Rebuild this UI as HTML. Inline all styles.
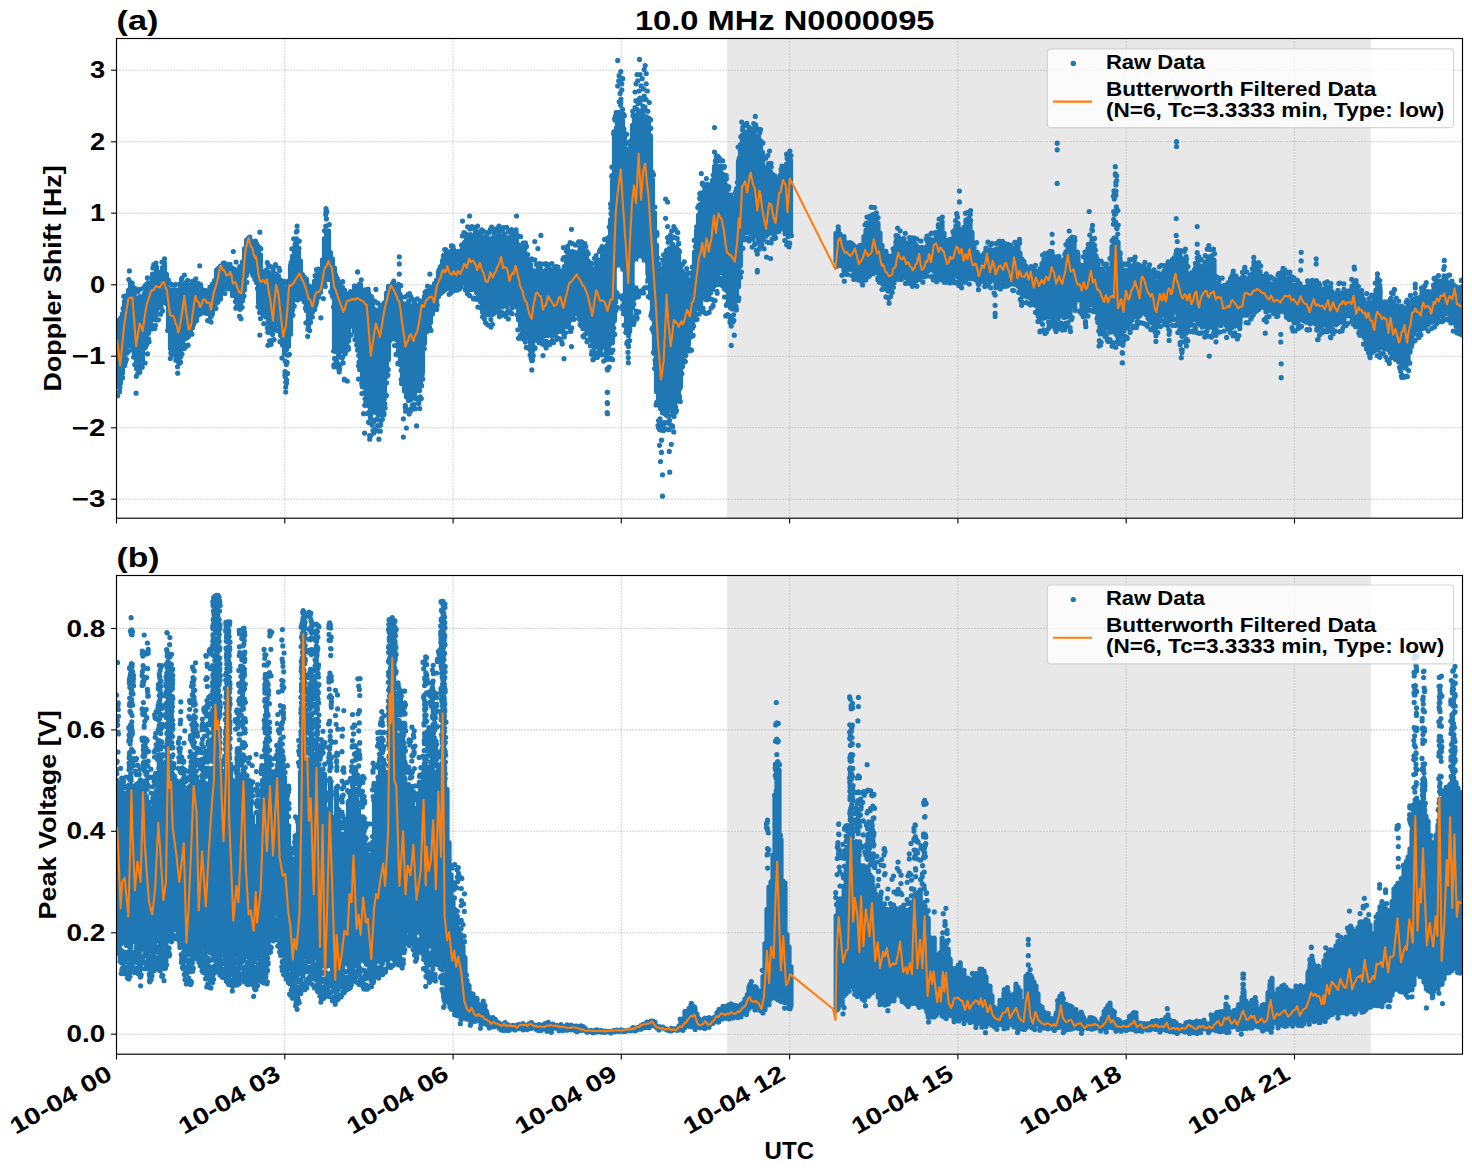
<!DOCTYPE html>
<html><head><meta charset="utf-8"><title>10.0 MHz N0000095</title>
<style>
html,body{margin:0;padding:0;background:#fff;}
body{width:1472px;height:1172px;overflow:hidden;font-family:"Liberation Sans",sans-serif;}
svg{display:block;}
text{font-family:"Liberation Sans",sans-serif;font-weight:bold;fill:#000;}
.g{stroke:#b0b0b0;stroke-width:1.1;stroke-dasharray:1.1 1.9;}
.t{stroke:#000;stroke-width:1.1;}
.b{stroke:#1f77b4;stroke-width:5.2;stroke-linecap:round;fill:none;}
.o{stroke:#ff7f0e;stroke-width:2.1;fill:none;stroke-linejoin:round;stroke-linecap:butt;}
</style></head><body>
<svg width="1472" height="1172" viewBox="0 0 1472 1172">
<rect width="1472" height="1172" fill="#fff"/>
<clipPath id="c1"><rect x="116.5" y="38.5" width="1346.0" height="479.70000000000005"/></clipPath>
<rect x="727.1" y="38.5" width="643.6999999999999" height="479.70000000000005" fill="#e8e8e8"/>
<line x1="116.5" y1="38.5" x2="116.5" y2="518.2" class="g"/>
<line x1="284.8" y1="38.5" x2="284.8" y2="518.2" class="g"/>
<line x1="453.1" y1="38.5" x2="453.1" y2="518.2" class="g"/>
<line x1="621.3" y1="38.5" x2="621.3" y2="518.2" class="g"/>
<line x1="789.6" y1="38.5" x2="789.6" y2="518.2" class="g"/>
<line x1="957.9" y1="38.5" x2="957.9" y2="518.2" class="g"/>
<line x1="1126.2" y1="38.5" x2="1126.2" y2="518.2" class="g"/>
<line x1="1294.5" y1="38.5" x2="1294.5" y2="518.2" class="g"/>
<line x1="116.5" y1="70.2" x2="1462.5" y2="70.2" class="g"/>
<line x1="116.5" y1="141.8" x2="1462.5" y2="141.8" class="g"/>
<line x1="116.5" y1="213.2" x2="1462.5" y2="213.2" class="g"/>
<line x1="116.5" y1="284.8" x2="1462.5" y2="284.8" class="g"/>
<line x1="116.5" y1="356.2" x2="1462.5" y2="356.2" class="g"/>
<line x1="116.5" y1="427.8" x2="1462.5" y2="427.8" class="g"/>
<line x1="116.5" y1="499.2" x2="1462.5" y2="499.2" class="g"/>
<g clip-path="url(#c1)">
<path class="b" d="M116.5 328.8V380.7M118.5 325.0V380.6M120.5 325.9V383.2M122.5 313.5V372.9M124.5 301.3V360.7M126.5 295.7V353.2M128.5 290.3V344.7M130.5 286.1V338.0M132.5 286.7V340.6M134.5 296.5V354.1M136.5 300.0V368.4M138.5 300.0V361.5M140.5 296.6V358.9M142.5 302.5V359.5M144.5 293.4V348.1M146.5 287.1V344.8M148.5 284.8V333.2M150.5 283.0V321.7M152.5 274.1V316.4M154.5 274.5V319.4M156.5 267.0V312.4M158.5 273.6V307.8M160.5 273.9V306.4M162.5 267.7V300.5M164.5 263.1V302.7M166.5 274.4V303.8M168.5 289.2V327.1M170.5 290.0V348.4M172.5 291.5V345.2M174.5 289.5V343.9M176.5 290.0V352.9M178.5 291.8V362.1M180.5 287.6V356.9M182.5 286.0V348.2M184.5 288.0V338.9M186.5 282.2V338.1M188.5 285.3V336.1M190.5 285.6V330.2M192.5 285.0V327.7M194.5 287.8V322.1M196.5 285.4V320.4M198.5 283.7V315.1M200.5 284.5V313.2M202.5 289.5V313.1M204.5 291.7V310.1M206.5 290.7V313.3M208.5 296.2V313.6M210.5 291.1V317.0M212.5 284.1V312.7M214.5 280.6V305.3M216.5 272.9V303.1M218.5 273.0V296.8M220.5 266.0V291.4M222.5 266.0V289.4M224.5 263.1V284.1M226.5 267.7V285.9M228.5 264.7V287.8M230.5 267.0V284.3M232.5 268.0V295.5M234.5 269.2V295.4M236.5 270.5V299.9M238.5 271.9V304.8M240.5 269.3V307.3M242.5 261.8V300.7M244.5 248.8V289.9M246.5 240.2V275.6M248.5 238.2V266.0M250.5 240.3V267.1M252.5 241.5V273.4M254.5 245.5V268.8M256.5 247.4V282.6M258.5 246.6V300.5M260.5 254.8V310.0M262.5 271.5V303.5M264.5 271.3V307.5M266.5 269.8V316.0M268.5 272.0V324.0M270.5 276.4V332.4M272.5 274.1V334.6M274.5 279.6V328.0M276.5 274.5V323.4M278.5 279.4V324.9M280.5 279.8V335.6M282.5 281.5V345.0M284.5 288.1V353.9M286.5 287.9V349.6M288.5 281.2V346.3M290.5 265.6V330.8M292.5 256.0V309.7M294.5 248.0V296.5M296.5 238.8V294.2M298.5 250.0V294.3M300.5 261.1V294.1M302.5 274.7V296.5M304.5 277.4V302.1M306.5 279.3V310.7M308.5 285.6V326.3M310.5 289.3V317.4M312.5 286.7V312.0M314.5 281.1V306.9M316.5 274.6V302.5M318.5 278.1V297.3M320.5 277.2V292.2M322.5 259.8V285.4M324.5 238.5V284.4M326.5 234.4V277.7M328.5 230.8V279.3M330.5 252.5V279.6M332.5 259.2V296.1M334.5 268.1V349.7M336.5 277.3V349.5M338.5 283.8V356.5M340.5 283.2V351.4M342.5 287.3V350.8M344.5 290.2V347.9M346.5 293.9V347.6M348.5 294.1V341.1M350.5 291.5V325.5M352.5 292.6V321.0M354.5 285.9V331.3M356.5 288.1V340.2M358.5 286.6V349.5M360.5 284.6V360.5M362.5 290.5V380.4M364.5 292.5V387.2M366.5 291.6V394.1M368.5 295.2V405.8M370.5 301.8V417.9M372.5 303.0V411.9M374.5 309.6V411.6M376.5 310.2V411.1M378.5 314.0V414.9M380.5 307.9V414.7M382.5 308.8V406.1M384.5 302.7V395.6M386.5 293.2V375.0M388.5 286.3V359.4M390.5 286.8V335.2M392.5 283.6V328.2M394.5 286.4V338.6M396.5 286.2V339.8M398.5 284.4V355.1M400.5 296.5V364.7M402.5 307.8V377.3M404.5 304.7V390.9M406.5 306.2V396.8M408.5 301.4V400.4M410.5 305.7V400.0M412.5 308.6V398.1M414.5 306.3V394.2M416.5 305.6V390.4M418.5 306.6V390.5M420.5 301.0V384.6M422.5 300.9V372.3M424.5 296.3V343.6M426.5 291.0V328.8M428.5 290.5V322.8M430.5 287.2V322.4M432.5 289.5V314.0M434.5 283.6V304.3M436.5 280.2V302.4M438.5 272.0V296.5M440.5 266.6V293.4M442.5 260.5V292.0M444.5 255.2V290.2M446.5 252.8V288.8M448.5 256.6V285.0M450.5 251.5V288.0M452.5 252.6V283.9M454.5 257.3V286.3M456.5 254.9V282.9M458.5 254.8V285.2M460.5 251.2V283.8M462.5 246.8V283.0M464.5 242.4V282.5M466.5 238.1V286.1M468.5 236.8V287.1M470.5 234.5V289.7M472.5 236.1V287.5M474.5 238.2V287.6M476.5 236.6V292.5M478.5 237.2V299.2M480.5 234.2V301.7M482.5 237.2V306.1M484.5 238.8V310.0M486.5 235.5V314.2M488.5 238.5V314.6M490.5 239.0V309.9M492.5 238.1V314.3M494.5 232.4V308.5M496.5 233.5V306.9M498.5 231.6V304.6M500.5 235.7V306.1M502.5 236.7V306.7M504.5 233.9V302.9M506.5 237.6V304.5M508.5 237.7V302.5M510.5 238.5V303.4M512.5 236.1V304.5M514.5 234.7V301.9M516.5 236.1V304.7M518.5 244.9V319.7M520.5 247.6V325.5M522.5 247.7V329.0M524.5 254.2V332.1M526.5 256.1V338.2M528.5 261.1V338.1M530.5 264.6V350.6M532.5 274.3V351.1M534.5 270.8V339.0M536.5 272.2V333.6M538.5 268.1V335.5M540.5 268.6V337.0M542.5 271.3V336.9M544.5 273.0V335.3M546.5 269.5V335.4M548.5 271.2V335.3M550.5 273.3V332.1M552.5 270.2V331.1M554.5 272.4V331.2M556.5 270.4V332.5M558.5 274.6V331.1M560.5 271.0V331.1M562.5 270.7V332.1M564.5 266.4V326.8M566.5 256.8V326.4M568.5 254.3V323.9M570.5 252.0V320.1M572.5 251.6V318.7M574.5 252.4V311.3M576.5 254.9V305.2M578.5 252.5V313.3M580.5 246.5V320.3M582.5 246.8V322.5M584.5 255.1V327.1M586.5 257.2V329.2M588.5 261.3V332.5M590.5 265.5V338.3M592.5 273.8V341.4M594.5 269.1V347.5M596.5 262.3V344.4M598.5 262.8V343.2M600.5 260.0V341.5M602.5 255.4V346.0M604.5 251.4V346.0M606.5 248.0V352.4M608.5 237.7V349.6M610.5 219.7V343.4M612.5 180.9V342.6M614.5 135.9V319.6M616.5 127.5V295.6M618.5 117.4V281.1M620.5 115.8V288.0M622.5 120.1V288.4M624.5 133.2V306.3M626.5 149.3V322.8M628.5 166.3V335.7M630.5 146.1V321.0M632.5 125.4V307.7M634.5 118.7V298.2M636.5 118.3V292.8M638.5 111.8V283.0M640.5 113.2V270.6M642.5 110.2V268.1M644.5 118.0V267.0M646.5 116.8V270.6M648.5 121.9V276.8M650.5 135.9V298.1M652.5 179.6V318.6M654.5 212.9V353.8M656.5 245.2V391.5M658.5 267.5V404.7M660.5 284.9V408.4M662.5 276.1V412.7M664.5 264.3V413.6M666.5 256.3V415.3M668.5 255.8V411.1M670.5 247.6V408.7M672.5 244.0V411.6M674.5 246.9V406.0M676.5 248.3V401.3M678.5 250.3V392.0M680.5 264.9V386.5M682.5 271.6V366.8M684.5 274.1V355.5M686.5 274.4V347.9M688.5 280.1V344.5M690.5 283.9V337.0M692.5 272.0V328.1M694.5 252.0V316.2M696.5 231.2V308.6M698.5 216.1V305.9M700.5 204.1V304.3M702.5 196.6V296.7M704.5 194.9V298.0M706.5 191.9V295.0M708.5 192.3V295.1M710.5 191.6V292.9M712.5 180.4V289.3M714.5 166.4V285.4M716.5 167.7V273.6M718.5 167.0V270.9M720.5 166.2V273.0M722.5 175.9V270.2M724.5 180.7V283.3M726.5 185.5V290.3M728.5 200.2V302.8M730.5 203.8V307.7M732.5 207.2V308.9M734.5 198.1V308.1M736.5 188.7V298.2M738.5 161.2V286.7M740.5 144.5V265.6M742.5 135.1V237.1M744.5 133.9V232.7M746.5 133.0V232.6M748.5 136.4V225.0M750.5 134.7V234.0M752.5 136.5V233.0M754.5 136.4V235.4M756.5 137.4V235.9M758.5 136.1V241.0M760.5 140.8V242.3M762.5 152.4V240.1M764.5 170.1V237.0M766.5 167.4V235.5M768.5 163.6V233.5M770.5 171.6V232.4M772.5 180.4V233.3M774.5 179.3V235.7M776.5 183.0V229.3M778.5 178.7V226.0M780.5 174.9V222.7M782.5 172.2V219.9M784.5 169.2V228.6M786.5 164.2V233.0M788.5 158.1V235.9M790.5 160.2V231.8"/>
<path class="b" d="M836.0 233.4V261.0M838.0 233.7V262.9M840.0 234.1V265.4M842.0 237.0V265.7M844.0 236.5V270.4M846.0 242.9V270.7M848.0 245.6V269.5M850.0 242.5V265.2M852.0 243.6V269.7M854.0 245.7V271.3M856.0 247.1V274.1M858.0 246.9V273.3M860.0 245.3V277.2M862.0 245.5V275.7M864.0 236.6V273.5M866.0 230.3V270.3M868.0 223.6V268.9M870.0 216.1V269.7M872.0 216.2V266.6M874.0 214.6V265.7M876.0 216.8V269.3M878.0 223.4V273.1M880.0 233.1V276.2M882.0 245.3V282.9M884.0 253.3V282.4M886.0 253.6V286.8M888.0 259.7V290.9M890.0 256.1V291.3M892.0 258.5V287.7M894.0 251.7V282.7M896.0 241.5V275.8M898.0 236.1V274.2M900.0 239.6V272.6M902.0 240.2V272.3M904.0 238.7V276.0M906.0 243.2V277.7M908.0 246.7V280.6M910.0 241.9V283.5M912.0 245.4V281.2M914.0 243.1V282.0M916.0 244.7V280.7M918.0 247.4V279.6M920.0 248.7V276.5M922.0 247.4V273.6M924.0 250.9V276.8M926.0 247.3V271.8M928.0 243.2V271.2M930.0 239.4V268.6M932.0 240.4V269.8M934.0 241.7V271.0M936.0 237.2V273.6M938.0 232.6V270.8M940.0 226.0V272.9M942.0 221.5V276.5M944.0 233.3V278.6M946.0 245.4V275.7M948.0 240.4V276.8M950.0 239.3V276.1M952.0 241.5V278.0M954.0 230.8V274.7M956.0 225.8V274.1M958.0 223.3V277.0M960.0 229.7V279.7M962.0 232.5V275.4M964.0 227.3V273.5M966.0 219.8V278.2M968.0 221.1V274.6M970.0 223.1V278.5M972.0 232.4V276.4M974.0 245.3V279.0M976.0 253.8V280.0M978.0 254.6V282.6M980.0 258.2V282.1M982.0 255.8V279.3M984.0 253.6V281.7M986.0 248.1V279.1M988.0 252.2V280.1M990.0 250.1V281.9M992.0 250.4V279.8M994.0 253.0V279.9M996.0 249.1V287.7M998.0 252.1V285.9M1000.0 244.3V280.0M1002.0 248.4V278.8M1004.0 249.2V283.5M1006.0 252.6V278.9M1008.0 249.4V282.5M1010.0 247.6V282.9M1012.0 248.6V283.5M1014.0 249.3V284.1M1016.0 246.1V284.4M1018.0 246.4V285.9M1020.0 253.0V289.7M1022.0 259.0V294.7M1024.0 261.6V291.2M1026.0 266.1V293.7M1028.0 271.5V297.2M1030.0 269.9V292.9M1032.0 267.8V301.0M1034.0 269.0V302.3M1036.0 271.4V305.5M1038.0 272.1V311.1M1040.0 268.9V320.5M1042.0 263.5V318.1M1044.0 259.2V318.1M1046.0 259.8V317.3M1048.0 256.9V312.4M1050.0 251.3V316.8M1052.0 251.5V317.3M1054.0 260.0V319.2M1056.0 256.9V314.7M1058.0 262.3V318.9M1060.0 264.4V312.7M1062.0 266.4V311.2M1064.0 259.6V317.5M1066.0 251.9V313.3M1068.0 241.1V316.9M1070.0 239.0V317.0M1072.0 237.0V305.9M1074.0 241.4V295.8M1076.0 253.2V300.1M1078.0 255.1V299.2M1080.0 268.7V300.1M1082.0 267.8V309.5M1084.0 267.9V310.9M1086.0 256.4V315.9M1088.0 251.1V309.9M1090.0 246.4V304.4M1092.0 239.2V297.3M1094.0 245.7V306.5M1096.0 255.9V311.6M1098.0 264.0V317.7M1100.0 269.6V330.4M1102.0 269.1V330.8M1104.0 271.7V329.0M1106.0 272.5V328.0M1108.0 270.7V326.7M1110.0 268.5V332.2M1112.0 246.5V331.7M1114.0 238.0V330.7M1116.0 237.8V334.3M1118.0 242.0V337.7M1120.0 258.1V336.8M1122.0 270.1V334.5M1124.0 272.8V330.6M1126.0 271.5V327.6M1128.0 271.5V324.9M1130.0 265.9V323.5M1132.0 267.0V320.0M1134.0 265.2V316.9M1136.0 265.5V312.6M1138.0 264.4V317.3M1140.0 265.6V315.5M1142.0 269.1V313.1M1144.0 265.9V312.9M1146.0 269.1V314.5M1148.0 271.5V318.3M1150.0 272.5V320.4M1152.0 273.7V322.6M1154.0 269.8V326.2M1156.0 281.6V324.2M1158.0 282.2V323.2M1160.0 274.0V320.2M1162.0 274.2V315.0M1164.0 271.2V311.4M1166.0 268.2V321.3M1168.0 267.5V321.4M1170.0 272.5V320.4M1172.0 264.2V318.1M1174.0 266.9V310.4M1176.0 254.1V311.4M1178.0 260.1V322.9M1180.0 254.7V332.0M1182.0 258.7V336.3M1184.0 261.0V334.9M1186.0 261.8V330.7M1188.0 276.5V326.9M1190.0 277.2V323.6M1192.0 278.4V319.9M1194.0 277.2V319.2M1196.0 267.9V319.5M1198.0 261.8V323.5M1200.0 267.1V324.8M1202.0 266.0V324.7M1204.0 270.6V323.8M1206.0 268.4V326.3M1208.0 256.9V327.4M1210.0 257.9V326.3M1212.0 255.7V327.3M1214.0 260.0V328.8M1216.0 283.3V328.6M1218.0 285.3V322.0M1220.0 289.0V323.6M1222.0 286.3V321.4M1224.0 290.7V322.3M1226.0 289.1V325.2M1228.0 287.0V328.9M1230.0 283.3V329.5M1232.0 282.3V327.4M1234.0 277.2V324.5M1236.0 279.3V325.4M1238.0 283.0V324.2M1240.0 283.8V323.5M1242.0 277.5V315.6M1244.0 276.9V314.8M1246.0 278.9V311.0M1248.0 282.9V313.6M1250.0 275.2V312.1M1252.0 274.1V308.1M1254.0 261.8V309.2M1256.0 263.5V304.9M1258.0 265.2V305.4M1260.0 271.7V307.6M1262.0 277.6V306.6M1264.0 276.4V307.6M1266.0 280.5V311.8M1268.0 281.8V310.9M1270.0 283.9V309.5M1272.0 283.9V307.2M1274.0 284.1V309.5M1276.0 280.6V311.9M1278.0 279.8V309.9M1280.0 276.8V311.6M1282.0 275.5V309.9M1284.0 274.2V311.4M1286.0 278.9V314.0M1288.0 283.8V309.2M1290.0 278.9V314.4M1292.0 285.4V319.1M1294.0 285.3V322.5M1296.0 289.7V323.1M1298.0 283.8V323.4M1300.0 283.5V319.6M1302.0 288.5V314.7M1304.0 287.3V320.9M1306.0 287.3V319.7M1308.0 285.2V317.4M1310.0 287.8V323.8M1312.0 285.6V319.9M1314.0 287.2V314.1M1316.0 288.1V323.9M1318.0 289.7V330.0M1320.0 295.2V327.5M1322.0 289.0V325.8M1324.0 290.3V321.7M1326.0 286.8V324.8M1328.0 289.9V325.9M1330.0 290.4V328.5M1332.0 291.7V324.3M1334.0 294.9V323.1M1336.0 293.6V324.7M1338.0 290.3V323.2M1340.0 293.5V321.3M1342.0 294.9V321.8M1344.0 289.3V322.7M1346.0 295.6V314.8M1348.0 291.1V315.7M1350.0 291.1V314.0M1352.0 286.3V317.6M1354.0 282.0V315.8M1356.0 280.6V321.2M1358.0 291.3V324.5M1360.0 292.4V332.0M1362.0 294.8V332.2M1364.0 299.6V337.1M1366.0 305.4V341.8M1368.0 303.2V347.0M1370.0 303.4V348.7M1372.0 303.2V344.2M1374.0 295.3V345.4M1376.0 289.9V341.9M1378.0 281.3V348.0M1380.0 288.2V345.4M1382.0 302.1V347.6M1384.0 309.4V348.6M1386.0 306.0V345.8M1388.0 307.3V349.3M1390.0 305.2V352.6M1392.0 302.9V352.1M1394.0 301.8V353.8M1396.0 306.6V351.2M1398.0 309.8V357.3M1400.0 312.8V361.8M1402.0 310.7V366.8M1404.0 310.7V367.5M1406.0 309.2V368.3M1408.0 305.9V361.1M1410.0 303.2V352.0M1412.0 308.9V343.7M1414.0 299.6V334.3M1416.0 298.0V328.7M1418.0 300.1V330.0M1420.0 297.0V330.1M1422.0 291.3V321.5M1424.0 289.6V320.0M1426.0 291.8V323.8M1428.0 291.7V324.5M1430.0 291.8V319.3M1432.0 292.5V322.3M1434.0 286.0V319.3M1436.0 282.1V320.7M1438.0 284.4V317.6M1440.0 281.0V313.3M1442.0 282.4V315.5M1444.0 275.8V314.8M1446.0 277.8V310.5M1448.0 282.5V313.3M1450.0 286.6V311.8M1452.0 287.6V321.1M1454.0 285.3V321.5M1456.0 290.8V326.0M1458.0 290.4V325.6M1460.0 287.7V330.4M1462.0 286.5V326.9"/>
<path class="b" d="M1176.5 141.7h0M1176.5 146.5h0M1176.5 87.1h0M1176.5 97.3h0M326.0 208.7h0M326.0 213.8h0M326.4 218.9h0M297.1 226.0h0M297.1 231.1h0M285.7 382.0h0M285.7 387.1h0M285.7 392.1h0M285.3 376.9h0M129.4 270.9h0M136.1 393.2h0M199.7 265.8h0M233.3 251.5h0M259.8 232.2h0M320.9 317.8h0M357.6 271.9h0M259.8 335.1h0M267.9 345.3h0M344.4 379.9h0M335.2 366.7h0M399.3 256.8h0M399.3 263.9h0M399.3 274.1h0M357.5 272.1h0M375.9 289.4h0M409.5 293.5h0M429.9 274.1h0M334.1 366.8h0M339.2 371.9h0M344.3 379.1h0M347.3 381.1h0M358.5 365.8h0M358.5 379.1h0M363.6 413.7h0M364.6 433.1h0M369.7 439.2h0M373.8 433.1h0M378.9 439.2h0M384.0 414.7h0M403.4 418.8h0M406.4 428.0h0M403.4 437.1h0M416.6 425.9h0M419.7 408.6h0M462.5 221.1h0M469.6 216.0h0M516.5 216.0h0M540.9 235.4h0M534.8 241.5h0M537.9 248.6h0M571.5 229.3h0M563.4 247.6h0M531.8 369.9h0M531.8 360.7h0M543.0 355.6h0M564.0 358.7h0M571.5 346.5h0M592.9 359.7h0M607.2 392.3h0M607.2 402.5h0M607.2 412.7h0M607.2 368.9h0M491.0 327.1h0M508.3 318.9h0M518.5 338.3h0M617.7 60.4h0M639.5 59.4h0M620.8 71.6h0M618.7 80.8h0M622.8 78.7h0M617.7 85.9h0M621.8 89.9h0M620.1 93.4h0M645.2 65.5h0M644.2 69.6h0M646.2 73.6h0M637.1 74.6h0M640.1 74.6h0M636.0 83.8h0M646.2 83.8h0M641.1 85.9h0M639.1 91.0h0M644.2 96.0h0M635.0 92.0h0M647.3 91.0h0M642.2 78.7h0M637.7 80.8h0M643.6 88.9h0M621.8 83.8h0M619.1 75.7h0M714.5 127.6h0M665.6 199.0h0M667.6 202.0h0M665.6 218.3h0M667.6 226.5h0M673.8 226.5h0M677.8 232.6h0M667.6 237.7h0M701.3 173.5h0M702.3 183.7h0M706.4 178.6h0M714.5 152.1h0M755.3 116.4h0M769.5 151.1h0M757.3 254.0h0M757.3 270.3h0M766.5 257.1h0M770.6 258.5h0M789.9 151.1h0M610.6 204.1h0M613.6 133.8h0M614.6 118.5h0M583.1 336.2h0M593.2 359.7h0M600.4 353.6h0M607.5 369.9h0M607.5 392.3h0M607.5 403.5h0M607.5 413.7h0M628.3 345.4h0M628.3 357.6h0M628.3 362.7h0M648.3 296.5h0M653.4 352.5h0M661.5 440.2h0M659.5 445.3h0M661.5 452.4h0M660.5 461.6h0M662.5 474.8h0M662.5 496.2h0M671.3 444.3h0M669.3 451.4h0M669.7 472.2h0M673.8 432.0h0M679.9 388.2h0M680.3 401.5h0M725.7 315.9h0M731.2 326.0h0M734.3 335.2h0M731.2 345.4h0M757.3 272.0h0M637.1 285.3h0M637.1 317.9h0M959.4 191.1h0M959.4 201.9h0M970.6 210.5h0M970.6 220.3h0M1057.2 143.2h0M1057.2 149.8h0M1057.2 183.4h0M1089.2 211.5h0M1052.1 234.3h0M1092.5 225.4h0M1092.5 230.5h0M1019.5 239.4h0M865.1 224.8h0M1115.3 166.7h0M1115.3 173.8h0M1115.9 185.0h0M1115.9 195.2h0M889.1 303.2h0M995.1 295.1h0M995.1 305.3h0M995.1 313.4h0M995.1 316.5h0M1021.6 302.2h0M1021.6 305.3h0M1039.9 331.8h0M1045.0 333.4h0M1039.9 321.6h0M1049.1 325.7h0M1056.2 316.5h0M1056.2 323.6h0M1056.2 330.7h0M1062.3 330.1h0M1070.5 331.4h0M1064.4 315.5h0M1071.5 319.5h0M1085.8 326.7h0M1100.0 343.0h0M1099.0 346.0h0M1107.2 339.9h0M1122.5 353.2h0M1122.5 362.9h0M844.3 281.2h0M862.6 284.9h0M869.1 276.3h0M1176.2 218.5h0M1176.2 235.4h0M1177.3 241.5h0M1197.2 226.6h0M1197.2 244.2h0M1197.2 252.7h0M1197.2 257.8h0M1185.4 249.1h0M1186.4 258.8h0M1301.2 252.3h0M1301.2 260.9h0M1300.6 270.1h0M1316.2 258.8h0M1316.2 263.9h0M1354.2 267.0h0M1377.4 274.1h0M1394.3 289.4h0M1208.8 245.6h0M1213.5 249.1h0M1222.1 278.2h0M1233.3 271.1h0M1244.9 267.4h0M1122.2 352.6h0M1122.2 362.8h0M1181.3 349.5h0M1181.3 357.7h0M1186.4 339.3h0M1186.4 345.9h0M1169.1 334.3h0M1169.1 340.4h0M1155.9 341.4h0M1209.3 356.1h0M1216.0 335.3h0M1216.0 341.8h0M1237.4 338.9h0M1265.3 333.2h0M1280.8 334.3h0M1280.8 342.0h0M1281.2 363.8h0M1281.2 377.7h0M1369.9 357.1h0M1389.2 362.8h0M1401.4 376.0h0M1406.5 376.4h0M1146.7 324.7h0M1377.4 273.8h0M1378.0 279.9h0M1378.0 286.6h0M1379.9 292.8h0M1394.6 289.7h0M1391.5 292.8h0M1410.4 295.4h0M1415.3 284.2h0M1415.3 287.9h0M1426.3 282.6h0M1421.5 287.9h0M1444.3 260.4h0M1444.3 266.5h0M1449.6 275.0h0M1370.1 357.6h0M1370.1 357.3h0M1389.3 363.4h0M1407.4 376.6h0M1401.9 377.4h0M1309.6 329.7h0M1318.1 339.5h0M1330.4 337.1h0M1342.0 331.0h0M116.6 383.3h0M115.6 322.6h0M115.7 387.3h0M117.9 320.8h0M117.6 395.8h0M119.7 323.5h0M120.8 318.2h0M119.6 391.7h0M119.9 387.4h0M123.1 308.4h0M122.6 377.7h0M125.5 362.0h0M123.8 296.3h0M124.8 365.4h0M126.4 359.4h0M128.8 279.5h0M128.1 352.0h0M130.4 284.6h0M129.6 343.1h0M130.3 282.4h0M130.4 345.6h0M132.2 283.0h0M131.8 349.8h0M134.5 292.4h0M133.5 357.1h0M135.4 288.7h0M134.7 364.6h0M136.3 376.3h0M137.6 298.2h0M138.2 362.3h0M137.7 291.9h0M139.2 368.6h0M137.8 373.3h0M141.2 365.4h0M139.7 289.4h0M140.0 368.3h0M139.8 372.3h0M142.6 360.2h0M143.2 288.2h0M142.2 367.3h0M145.1 285.7h0M145.1 363.0h0M146.5 284.4h0M145.6 347.0h0M147.4 277.9h0M147.5 353.8h0M148.0 283.1h0M148.7 339.1h0M149.1 341.8h0M151.1 329.2h0M152.9 267.9h0M151.8 325.4h0M155.2 268.2h0M153.8 264.6h0M154.8 328.4h0M155.4 325.4h0M156.0 314.7h0M156.0 263.1h0M157.3 319.9h0M158.5 319.8h0M160.4 272.4h0M161.1 307.8h0M160.6 314.2h0M162.0 262.0h0M162.5 310.7h0M164.5 258.9h0M168.6 283.1h0M168.4 280.2h0M167.6 330.4h0M170.9 352.9h0M171.4 284.1h0M170.3 358.5h0M171.5 354.3h0M172.1 285.1h0M172.6 349.4h0M175.5 284.5h0M173.7 354.9h0M175.8 355.9h0M175.8 360.2h0M177.6 366.7h0M179.4 284.0h0M177.7 373.2h0M181.4 279.5h0M180.6 362.3h0M179.7 363.1h0M182.1 283.7h0M181.9 278.1h0M182.0 354.1h0M184.4 345.0h0M184.4 275.1h0M184.3 348.4h0M186.3 346.2h0M187.6 280.3h0M187.8 337.1h0M188.1 345.2h0M190.4 332.2h0M192.3 281.3h0M191.9 334.2h0M193.7 285.0h0M193.5 324.4h0M194.6 280.8h0M195.8 278.8h0M204.2 290.8h0M207.6 320.5h0M210.0 287.2h0M211.0 322.0h0M210.5 321.6h0M212.0 315.0h0M213.6 307.0h0M216.5 270.2h0M215.9 308.4h0M218.4 268.3h0M217.9 302.0h0M220.5 296.6h0M220.5 298.9h0M223.3 263.2h0M221.5 292.1h0M221.8 292.9h0M225.0 288.2h0M224.9 293.5h0M227.6 288.8h0M230.0 264.3h0M230.2 288.8h0M235.4 301.6h0M237.0 306.0h0M236.1 262.0h0M235.8 308.2h0M239.5 316.3h0M239.7 266.7h0M240.0 309.3h0M241.0 318.7h0M242.1 307.3h0M244.0 296.1h0M246.9 282.3h0M248.3 271.3h0M249.8 237.1h0M253.1 275.5h0M254.8 279.3h0M256.5 243.5h0M255.5 241.0h0M257.4 288.6h0M258.0 306.8h0M258.5 302.8h0M260.8 248.7h0M259.6 312.5h0M259.9 248.5h0M260.5 318.6h0M263.0 315.2h0M263.9 310.5h0M263.8 323.7h0M265.6 316.8h0M267.3 262.7h0M267.4 328.1h0M268.3 265.2h0M267.8 332.3h0M269.9 266.3h0M271.1 344.3h0M269.6 340.8h0M272.2 340.5h0M273.1 269.6h0M271.6 340.4h0M275.0 273.7h0M274.7 266.1h0M274.1 339.5h0M275.5 264.6h0M277.4 330.6h0M278.4 275.9h0M279.0 268.1h0M279.7 270.4h0M280.0 341.7h0M282.0 358.0h0M284.3 281.3h0M285.0 371.5h0M284.8 375.1h0M285.2 361.2h0M286.0 282.7h0M286.7 380.0h0M286.3 364.6h0M286.5 383.3h0M287.1 362.3h0M287.5 373.4h0M287.7 355.2h0M289.4 354.3h0M291.1 262.4h0M290.7 334.1h0M291.9 311.7h0M291.9 248.8h0M292.9 315.2h0M295.1 244.2h0M293.7 299.4h0M293.7 238.8h0M294.3 306.0h0M296.3 232.0h0M299.0 248.3h0M299.3 297.4h0M299.3 241.1h0M297.5 299.9h0M300.7 296.5h0M300.5 298.9h0M305.4 308.2h0M305.9 322.8h0M307.9 329.2h0M307.7 336.3h0M310.6 322.2h0M309.7 330.5h0M312.4 317.0h0M314.7 309.5h0M315.1 275.7h0M315.8 305.2h0M316.5 269.7h0M319.0 274.1h0M318.3 269.2h0M323.4 298.6h0M325.3 286.5h0M324.5 230.8h0M325.8 226.2h0M326.9 211.6h0M325.8 212.5h0M325.7 214.8h0M329.3 224.6h0M330.7 291.8h0M333.0 296.9h0M333.5 307.1h0M333.6 351.1h0M334.5 358.4h0M333.8 365.1h0M335.5 274.7h0M336.2 351.4h0M336.7 359.8h0M335.8 363.2h0M337.7 279.4h0M337.5 363.7h0M338.6 368.5h0M339.6 369.0h0M340.3 364.5h0M342.6 356.9h0M342.7 281.7h0M343.1 362.9h0M342.1 358.1h0M345.2 353.8h0M346.0 351.1h0M346.2 350.6h0M348.4 347.3h0M348.5 349.2h0M351.3 326.1h0M351.0 334.9h0M353.3 325.8h0M354.9 339.6h0M356.7 345.0h0M357.3 344.0h0M359.4 284.1h0M357.6 350.2h0M359.0 362.0h0M358.7 355.5h0M361.3 279.8h0M359.9 369.6h0M359.6 369.6h0M361.7 383.7h0M361.9 393.5h0M362.3 386.7h0M364.9 289.8h0M364.7 405.3h0M364.3 392.9h0M365.0 398.5h0M367.2 395.2h0M365.9 402.0h0M367.5 413.6h0M366.5 402.1h0M368.5 292.7h0M368.1 289.1h0M368.5 422.2h0M368.8 412.5h0M369.1 412.1h0M371.3 296.4h0M369.6 435.6h0M370.0 423.0h0M370.5 435.9h0M372.4 299.3h0M372.2 425.2h0M373.2 422.1h0M373.0 430.7h0M375.3 301.5h0M374.1 421.2h0M375.2 429.4h0M373.8 420.7h0M376.2 412.7h0M377.4 419.3h0M376.3 419.3h0M377.7 303.2h0M377.6 425.5h0M379.1 425.7h0M378.5 431.1h0M380.7 305.0h0M380.6 425.0h0M380.3 431.2h0M380.9 421.5h0M382.4 419.3h0M382.8 413.4h0M382.3 410.0h0M384.3 398.9h0M384.9 403.8h0M383.9 413.1h0M385.1 408.0h0M386.6 376.5h0M386.5 395.4h0M386.6 382.8h0M388.3 369.5h0M387.9 375.3h0M391.5 337.9h0M390.3 340.3h0M390.3 338.6h0M391.9 333.1h0M391.9 338.6h0M393.8 281.2h0M394.6 345.5h0M396.1 354.4h0M398.0 363.2h0M397.9 363.7h0M400.0 294.2h0M400.8 285.7h0M401.2 379.6h0M401.2 370.4h0M403.2 303.5h0M401.5 383.5h0M401.8 381.3h0M403.1 382.6h0M404.7 297.0h0M405.3 405.4h0M405.2 407.2h0M406.6 296.0h0M405.8 407.7h0M405.6 411.2h0M405.8 410.8h0M408.4 294.4h0M409.2 413.9h0M408.3 409.9h0M410.9 296.7h0M411.5 408.6h0M410.5 410.9h0M412.2 299.2h0M413.0 409.1h0M412.4 405.1h0M415.2 397.1h0M414.5 302.6h0M415.1 408.7h0M414.1 404.3h0M417.3 298.8h0M416.1 398.7h0M415.9 398.3h0M418.8 402.2h0M418.7 403.4h0M419.6 390.4h0M421.3 398.6h0M420.2 396.8h0M422.1 375.3h0M422.8 379.1h0M421.6 385.7h0M425.1 292.4h0M424.3 348.6h0M426.8 331.6h0M427.5 286.0h0M429.4 323.8h0M427.5 329.6h0M429.6 327.4h0M431.0 330.4h0M433.5 308.0h0M437.2 305.2h0M436.6 309.4h0M439.1 269.9h0M443.4 256.3h0M443.5 255.7h0M444.7 249.6h0M446.0 249.8h0M449.1 294.3h0M450.6 293.0h0M451.4 245.9h0M450.9 292.1h0M453.0 247.8h0M453.0 246.4h0M453.3 291.0h0M453.9 249.9h0M457.5 251.7h0M456.8 290.2h0M459.5 289.1h0M461.1 286.8h0M461.6 245.1h0M461.7 283.8h0M462.4 235.9h0M464.0 232.7h0M465.4 289.7h0M467.4 292.6h0M466.0 233.8h0M467.3 293.6h0M467.6 226.8h0M469.4 295.5h0M470.0 228.9h0M469.8 295.7h0M472.9 289.2h0M471.9 226.7h0M473.3 298.8h0M475.4 232.6h0M475.1 230.3h0M473.8 298.1h0M476.0 227.3h0M476.0 299.2h0M478.5 234.8h0M477.6 226.1h0M477.9 307.0h0M479.9 231.5h0M480.1 307.6h0M483.5 306.7h0M481.8 229.8h0M482.6 316.8h0M482.4 311.9h0M483.9 315.2h0M483.7 231.4h0M484.5 318.9h0M483.9 316.2h0M487.0 232.6h0M485.6 322.8h0M489.3 232.6h0M488.0 324.9h0M490.2 313.9h0M490.4 229.4h0M490.9 319.4h0M491.6 227.0h0M492.5 324.3h0M495.4 310.3h0M494.0 229.4h0M493.7 313.6h0M496.7 229.5h0M497.2 228.3h0M495.7 311.0h0M497.7 228.7h0M498.7 310.3h0M499.0 226.1h0M499.4 316.4h0M498.3 312.6h0M500.0 227.7h0M501.5 312.2h0M501.3 315.4h0M502.5 230.5h0M502.8 228.0h0M501.6 312.8h0M503.8 227.5h0M505.3 315.2h0M506.9 306.6h0M506.7 227.3h0M506.4 312.9h0M506.1 316.5h0M508.7 231.4h0M508.6 231.4h0M507.8 311.2h0M508.3 312.4h0M510.6 233.0h0M509.9 230.5h0M510.6 313.1h0M511.9 308.1h0M511.5 229.7h0M512.0 313.7h0M515.5 232.5h0M515.2 231.6h0M514.3 306.5h0M516.0 229.8h0M516.2 232.1h0M517.2 314.8h0M519.1 236.1h0M517.8 329.8h0M520.6 236.6h0M521.2 337.1h0M520.3 335.4h0M522.3 332.8h0M523.1 243.0h0M522.4 338.6h0M524.7 250.2h0M525.3 334.6h0M525.4 242.8h0M525.3 341.9h0M523.6 339.0h0M526.5 246.4h0M526.3 347.4h0M527.7 254.6h0M528.6 348.2h0M531.5 258.9h0M531.1 358.3h0M530.1 355.1h0M533.3 355.7h0M533.3 259.9h0M532.1 356.9h0M532.5 360.2h0M534.8 259.9h0M535.1 348.3h0M534.9 347.5h0M536.5 264.4h0M536.8 340.3h0M539.0 265.2h0M537.8 339.8h0M539.1 342.7h0M539.5 263.5h0M539.8 264.9h0M541.3 340.3h0M542.7 264.0h0M542.7 344.2h0M545.1 263.8h0M545.4 345.5h0M546.3 264.7h0M546.1 341.1h0M546.0 263.6h0M545.9 343.0h0M546.1 347.9h0M547.7 266.8h0M548.0 342.3h0M549.6 268.8h0M549.7 264.3h0M549.8 344.6h0M552.2 335.9h0M551.9 263.6h0M552.0 340.8h0M555.3 335.2h0M554.7 267.4h0M553.7 342.5h0M557.0 267.6h0M556.3 266.6h0M557.2 338.4h0M556.8 339.3h0M558.1 267.1h0M558.9 338.7h0M560.1 339.0h0M562.9 259.3h0M562.2 344.1h0M561.9 342.3h0M563.8 257.6h0M564.3 337.0h0M564.1 335.3h0M566.4 251.3h0M565.5 332.8h0M567.6 248.7h0M567.7 246.1h0M569.3 327.4h0M570.1 242.5h0M570.3 331.4h0M570.9 331.2h0M572.4 243.5h0M571.8 327.8h0M575.4 244.9h0M574.0 319.3h0M576.1 306.6h0M576.0 245.1h0M576.4 314.0h0M579.3 251.2h0M578.6 241.8h0M578.8 318.6h0M580.2 241.9h0M580.1 324.5h0M580.9 325.4h0M581.6 241.8h0M583.0 336.1h0M582.9 328.5h0M584.5 252.0h0M584.6 327.6h0M584.8 243.7h0M584.0 336.9h0M587.0 251.6h0M585.9 333.6h0M585.8 246.6h0M587.0 341.8h0M588.2 253.9h0M587.6 340.4h0M590.5 345.9h0M592.9 342.9h0M591.7 263.4h0M591.9 351.6h0M591.5 354.3h0M594.5 258.3h0M594.4 352.4h0M595.2 355.5h0M596.4 258.4h0M596.1 255.7h0M597.3 357.5h0M597.4 356.4h0M598.9 347.4h0M599.4 251.4h0M598.1 353.2h0M599.3 350.4h0M600.2 249.5h0M600.6 350.2h0M601.9 249.6h0M602.0 246.6h0M602.0 354.9h0M602.6 354.5h0M604.5 247.4h0M604.3 346.9h0M604.6 239.4h0M603.7 361.1h0M607.2 245.2h0M607.4 356.3h0M607.1 238.6h0M606.2 359.4h0M606.7 357.5h0M609.2 227.1h0M609.2 367.2h0M609.0 358.0h0M611.0 213.7h0M610.9 208.2h0M609.7 359.2h0M611.1 358.4h0M611.4 352.7h0M612.4 175.3h0M611.7 176.3h0M611.9 167.1h0M612.9 350.1h0M611.8 351.4h0M612.6 359.7h0M614.2 321.0h0M615.1 119.0h0M613.9 131.8h0M614.9 119.9h0M613.8 328.1h0M614.3 333.9h0M614.7 334.4h0M617.3 123.4h0M615.8 298.3h0M616.3 112.7h0M615.5 116.1h0M616.2 112.7h0M617.5 307.3h0M615.8 302.1h0M616.0 310.3h0M618.6 113.7h0M618.6 112.3h0M619.2 101.8h0M618.8 296.6h0M618.1 292.9h0M621.0 99.1h0M620.8 103.0h0M620.6 105.2h0M620.2 290.8h0M621.5 294.3h0M620.2 296.6h0M621.5 294.2h0M622.6 109.3h0M621.8 111.3h0M622.1 298.9h0M622.6 305.5h0M622.2 309.0h0M623.9 129.2h0M624.4 115.8h0M623.6 114.4h0M624.1 325.2h0M623.5 313.8h0M624.0 312.3h0M626.7 328.5h0M627.0 142.9h0M626.7 134.3h0M627.3 342.1h0M625.8 332.4h0M626.6 329.5h0M626.8 343.6h0M628.9 156.6h0M628.3 341.1h0M628.8 340.9h0M628.5 346.5h0M628.0 352.3h0M630.7 140.8h0M629.7 331.6h0M629.8 328.5h0M629.7 340.5h0M632.7 111.3h0M633.0 115.7h0M633.0 323.2h0M632.1 324.5h0M633.5 324.4h0M634.5 115.1h0M635.0 107.6h0M634.0 322.4h0M633.7 317.5h0M633.8 304.2h0M637.4 295.5h0M637.0 109.3h0M635.8 100.8h0M636.0 314.3h0M636.5 319.0h0M636.2 311.1h0M636.4 314.8h0M639.0 111.0h0M637.6 100.2h0M638.3 103.5h0M638.8 311.9h0M638.0 296.0h0M638.4 296.8h0M639.9 98.1h0M639.8 102.7h0M640.0 293.2h0M641.1 290.7h0M640.2 281.6h0M642.9 106.1h0M641.9 99.4h0M642.2 99.4h0M641.9 288.8h0M643.5 288.8h0M641.5 278.2h0M645.3 116.6h0M644.9 107.1h0M644.2 107.8h0M645.3 287.7h0M643.6 292.9h0M646.5 272.5h0M645.5 110.4h0M646.1 99.5h0M646.5 280.9h0M646.4 281.1h0M649.0 118.4h0M648.2 280.3h0M647.9 111.3h0M649.3 102.5h0M647.9 288.0h0M647.6 287.8h0M650.9 128.3h0M650.6 119.7h0M651.5 312.9h0M650.9 315.7h0M652.3 172.1h0M653.5 174.7h0M653.4 332.1h0M652.7 327.5h0M652.0 329.0h0M654.9 207.0h0M654.6 368.6h0M655.4 363.8h0M655.0 360.0h0M657.0 232.7h0M656.9 235.3h0M656.7 402.4h0M656.1 405.0h0M656.6 404.2h0M659.3 264.2h0M657.9 258.0h0M658.6 427.7h0M658.6 420.5h0M658.0 425.6h0M661.2 271.2h0M661.2 422.4h0M659.7 429.7h0M660.0 418.9h0M662.3 268.8h0M662.9 259.9h0M663.1 425.6h0M661.8 430.2h0M662.2 428.9h0M663.9 260.6h0M663.6 254.8h0M664.0 428.5h0M664.0 422.6h0M663.7 430.4h0M666.3 251.0h0M666.4 253.5h0M666.9 250.1h0M666.8 422.8h0M666.2 429.1h0M666.7 422.5h0M668.2 242.3h0M669.0 248.9h0M668.5 423.2h0M669.0 429.7h0M668.7 416.0h0M670.4 235.0h0M670.5 239.8h0M671.0 425.0h0M669.6 420.3h0M671.7 238.0h0M671.7 230.9h0M672.6 426.9h0M672.9 415.0h0M672.5 426.1h0M675.2 229.1h0M674.2 237.4h0M675.5 412.3h0M674.0 415.9h0M674.0 416.5h0M677.2 238.4h0M677.2 232.2h0M675.6 406.7h0M676.2 411.5h0M676.5 410.4h0M679.3 395.9h0M678.6 244.1h0M678.6 243.1h0M679.1 399.3h0M678.9 399.6h0M679.6 251.5h0M679.6 396.8h0M679.6 399.9h0M682.8 264.3h0M681.9 373.6h0M683.7 356.6h0M684.3 261.8h0M685.3 361.4h0M686.9 273.6h0M686.7 268.5h0M685.8 355.5h0M689.1 350.9h0M688.3 273.2h0M688.6 350.0h0M689.7 349.4h0M691.5 350.2h0M692.2 267.0h0M693.2 335.3h0M692.6 336.1h0M695.3 246.5h0M695.3 316.9h0M694.2 240.3h0M693.6 326.0h0M697.0 229.6h0M696.6 226.8h0M697.1 319.3h0M696.4 319.7h0M698.8 214.8h0M698.8 205.7h0M697.8 207.4h0M699.2 313.9h0M699.7 198.4h0M700.5 308.0h0M699.8 193.6h0M700.5 193.0h0M700.3 309.2h0M699.8 309.2h0M702.5 183.0h0M702.6 184.5h0M703.0 308.0h0M704.3 191.3h0M705.3 299.0h0M704.7 187.2h0M703.6 311.7h0M706.7 299.7h0M707.1 184.3h0M705.5 313.2h0M706.3 313.4h0M709.0 187.7h0M708.2 296.5h0M708.2 186.6h0M709.1 312.4h0M709.9 184.9h0M711.1 308.0h0M710.9 299.2h0M713.2 175.1h0M713.0 306.3h0M713.1 305.3h0M715.4 160.9h0M713.7 300.2h0M715.1 300.5h0M715.9 164.5h0M716.5 279.6h0M716.3 156.9h0M716.9 291.4h0M717.2 293.2h0M719.2 157.9h0M717.5 156.1h0M717.7 276.7h0M718.3 284.5h0M720.2 278.6h0M719.7 160.7h0M720.4 283.1h0M721.1 282.7h0M723.1 174.3h0M723.4 272.9h0M722.7 160.8h0M722.3 160.8h0M722.5 285.9h0M724.6 283.8h0M724.4 166.3h0M724.0 167.6h0M724.6 289.1h0M724.5 297.0h0M726.4 178.7h0M726.2 175.7h0M726.3 305.3h0M726.9 304.0h0M728.9 186.8h0M728.4 189.1h0M729.0 316.4h0M727.6 314.7h0M730.7 195.2h0M730.3 198.9h0M730.1 321.1h0M730.1 322.6h0M732.3 200.2h0M732.9 321.8h0M731.8 316.3h0M735.3 192.7h0M733.8 320.4h0M733.6 314.8h0M737.4 182.3h0M736.4 309.0h0M736.0 306.4h0M736.3 309.9h0M739.3 158.0h0M738.1 147.1h0M738.4 300.6h0M738.8 297.9h0M740.8 136.8h0M741.0 137.1h0M740.6 277.2h0M741.4 272.1h0M742.6 130.0h0M741.7 122.1h0M742.8 127.4h0M742.9 248.3h0M745.1 125.3h0M743.9 125.7h0M744.5 239.7h0M746.2 132.1h0M746.8 123.4h0M746.6 238.0h0M749.0 127.3h0M749.3 128.6h0M749.1 241.0h0M750.9 129.9h0M750.7 131.7h0M749.9 238.4h0M752.9 128.7h0M752.2 247.0h0M752.8 239.1h0M754.4 132.6h0M753.7 123.6h0M754.8 128.7h0M754.6 244.6h0M755.1 243.6h0M755.6 124.9h0M756.3 127.4h0M756.9 250.8h0M756.3 250.3h0M759.2 129.7h0M759.5 131.2h0M757.8 249.8h0M758.9 249.6h0M760.3 244.5h0M760.5 129.6h0M759.9 132.6h0M760.0 246.5h0M762.9 142.9h0M761.9 244.4h0M763.8 158.7h0M764.1 248.8h0M765.7 158.2h0M767.1 241.8h0M767.8 155.6h0M768.5 242.5h0M771.3 166.8h0M771.0 163.4h0M771.2 242.8h0M772.7 177.6h0M773.2 238.5h0M773.3 174.8h0M772.1 239.0h0M775.3 176.3h0M774.7 238.4h0M775.6 237.8h0M778.8 231.6h0M781.3 170.8h0M780.0 229.1h0M781.1 169.3h0M781.0 228.8h0M782.0 166.0h0M782.8 226.3h0M783.8 229.2h0M784.9 240.4h0M785.1 233.7h0M787.1 158.3h0M786.6 154.2h0M786.7 244.8h0M787.6 154.3h0M788.3 236.4h0M789.1 246.8h0M787.7 242.9h0M791.5 235.6h0M791.0 155.5h0M789.7 243.2h0M836.2 266.5h0M838.4 230.0h0M838.2 226.9h0M841.9 275.3h0M843.9 274.2h0M847.5 243.0h0M847.5 274.5h0M852.1 275.5h0M853.8 279.5h0M855.4 276.1h0M858.4 280.0h0M859.5 277.8h0M859.5 279.9h0M861.1 281.3h0M863.2 276.9h0M864.5 279.8h0M866.5 223.0h0M865.7 280.1h0M868.7 274.2h0M867.0 217.1h0M867.3 277.3h0M869.3 270.8h0M870.1 275.1h0M872.7 214.9h0M871.3 207.2h0M873.5 270.9h0M874.5 207.5h0M873.4 273.5h0M876.3 212.9h0M877.9 277.9h0M878.0 217.7h0M877.9 279.7h0M879.4 282.2h0M882.0 289.5h0M883.2 284.4h0M885.9 251.3h0M886.3 289.3h0M886.0 296.9h0M888.5 298.3h0M890.6 296.6h0M892.2 292.4h0M893.1 248.8h0M893.4 287.3h0M896.9 239.7h0M896.0 235.7h0M899.0 277.4h0M897.6 228.0h0M898.3 279.3h0M900.7 239.0h0M900.1 230.8h0M902.9 238.9h0M902.0 276.3h0M901.3 279.4h0M905.2 233.3h0M905.6 283.4h0M909.5 237.5h0M912.8 241.5h0M912.4 283.2h0M912.0 237.8h0M912.5 286.3h0M914.4 238.1h0M916.9 239.0h0M916.9 286.2h0M919.5 248.0h0M919.8 279.3h0M920.9 241.0h0M922.0 274.2h0M922.9 282.2h0M926.2 238.8h0M927.0 239.9h0M927.0 236.1h0M927.0 276.0h0M930.9 233.9h0M931.5 233.0h0M931.3 276.7h0M934.6 275.8h0M933.4 280.0h0M935.3 232.5h0M936.6 281.7h0M938.4 227.3h0M938.3 224.9h0M937.4 278.1h0M939.5 276.0h0M939.1 219.0h0M939.6 278.5h0M942.3 217.2h0M941.5 279.9h0M944.4 282.2h0M945.1 241.9h0M946.9 281.4h0M946.0 282.3h0M947.8 282.0h0M949.6 279.4h0M949.9 283.0h0M951.9 282.4h0M953.0 231.8h0M953.1 279.7h0M953.8 281.9h0M955.6 220.7h0M955.2 275.0h0M956.7 213.7h0M956.5 283.0h0M957.5 217.0h0M957.5 282.0h0M958.9 285.5h0M960.9 284.7h0M961.5 278.7h0M961.6 287.7h0M963.8 278.9h0M964.5 281.8h0M965.5 213.3h0M965.7 282.2h0M968.8 218.1h0M967.5 212.6h0M970.3 214.5h0M969.3 284.1h0M976.6 242.6h0M977.2 252.3h0M978.6 284.4h0M978.5 289.7h0M984.7 286.6h0M985.7 284.9h0M988.8 251.6h0M987.9 242.2h0M988.6 286.0h0M990.5 245.2h0M990.8 287.8h0M990.4 243.6h0M992.0 243.4h0M994.1 293.0h0M996.0 243.6h0M998.3 242.3h0M999.6 241.3h0M999.0 241.4h0M1000.5 289.0h0M1002.2 284.5h0M1002.4 241.4h0M1004.7 243.7h0M1004.9 286.4h0M1004.6 244.8h0M1005.5 243.8h0M1005.8 286.2h0M1007.4 248.5h0M1007.6 285.8h0M1007.9 244.4h0M1010.2 284.2h0M1010.4 245.3h0M1012.7 290.3h0M1014.8 242.3h0M1013.6 290.6h0M1016.7 242.7h0M1017.4 242.5h0M1018.6 292.4h0M1019.7 242.9h0M1020.3 299.4h0M1021.8 301.8h0M1023.7 296.2h0M1023.0 302.8h0M1025.5 294.5h0M1026.4 302.5h0M1027.9 303.2h0M1030.5 304.9h0M1031.1 266.7h0M1032.4 304.6h0M1031.4 303.5h0M1035.5 265.3h0M1035.4 312.3h0M1038.1 315.7h0M1038.6 320.5h0M1037.9 321.5h0M1040.1 331.0h0M1042.6 255.0h0M1042.6 324.3h0M1044.9 253.7h0M1043.6 329.8h0M1046.4 332.2h0M1048.2 255.4h0M1048.8 252.5h0M1048.5 328.6h0M1048.5 321.8h0M1049.2 326.1h0M1049.2 321.9h0M1052.5 321.7h0M1052.4 242.8h0M1051.6 326.1h0M1052.8 323.6h0M1054.7 325.3h0M1056.5 316.1h0M1056.1 331.5h0M1055.3 329.1h0M1058.6 261.6h0M1058.8 256.3h0M1057.9 326.1h0M1058.5 328.4h0M1059.3 259.0h0M1059.4 316.2h0M1060.9 323.0h0M1060.6 325.6h0M1062.8 262.3h0M1062.1 326.2h0M1064.8 254.3h0M1064.6 324.7h0M1064.8 329.7h0M1065.9 244.6h0M1065.7 323.2h0M1066.5 326.0h0M1068.2 322.5h0M1069.2 231.0h0M1070.1 327.6h0M1070.4 331.1h0M1072.2 317.6h0M1074.9 240.5h0M1074.1 297.5h0M1074.7 237.5h0M1074.9 310.3h0M1075.1 303.2h0M1075.0 307.9h0M1077.4 252.2h0M1080.8 265.1h0M1079.1 311.3h0M1082.5 265.7h0M1081.7 313.9h0M1084.5 314.8h0M1083.5 256.7h0M1083.3 316.7h0M1086.0 252.4h0M1085.0 252.1h0M1085.5 321.7h0M1085.5 324.1h0M1088.0 248.3h0M1088.3 244.3h0M1088.0 316.1h0M1089.1 245.4h0M1089.8 235.1h0M1090.9 310.6h0M1091.9 229.5h0M1091.2 303.8h0M1094.3 244.9h0M1094.5 238.4h0M1093.3 311.4h0M1096.8 312.1h0M1095.4 250.2h0M1097.0 318.5h0M1097.8 322.3h0M1097.1 259.2h0M1098.8 331.0h0M1100.3 333.9h0M1100.6 345.1h0M1099.3 340.7h0M1101.1 261.1h0M1101.2 342.3h0M1103.7 264.2h0M1105.0 336.5h0M1106.5 266.8h0M1106.4 264.0h0M1106.3 335.5h0M1105.1 333.2h0M1108.2 341.4h0M1110.0 258.4h0M1110.0 339.6h0M1109.4 341.5h0M1112.1 240.7h0M1112.4 346.0h0M1112.0 346.1h0M1114.4 214.3h0M1114.0 190.8h0M1113.4 196.0h0M1113.7 211.6h0M1113.7 219.3h0M1114.5 194.6h0M1113.5 224.2h0M1114.3 192.8h0M1114.3 199.1h0M1113.1 342.8h0M1116.6 175.7h0M1115.7 222.0h0M1116.6 228.3h0M1116.0 191.0h0M1115.5 214.0h0M1116.4 206.9h0M1116.7 180.5h0M1115.9 182.4h0M1115.6 210.9h0M1115.4 175.2h0M1116.8 342.0h0M1115.7 347.3h0M1118.5 340.4h0M1117.9 210.6h0M1118.2 225.0h0M1117.0 228.6h0M1117.8 225.2h0M1117.7 234.0h0M1118.4 342.3h0M1120.3 253.9h0M1119.4 342.5h0M1120.2 252.8h0M1119.1 343.5h0M1121.6 265.6h0M1122.8 345.2h0M1123.0 343.2h0M1124.2 270.0h0M1124.6 336.0h0M1124.0 263.9h0M1123.8 340.2h0M1126.6 264.4h0M1126.5 337.2h0M1127.0 338.4h0M1127.0 270.5h0M1127.7 328.0h0M1128.4 263.4h0M1127.3 338.0h0M1129.7 259.6h0M1130.1 332.4h0M1132.1 259.6h0M1132.7 327.9h0M1134.3 260.6h0M1133.8 326.4h0M1135.1 257.2h0M1136.4 327.5h0M1137.3 321.7h0M1137.3 324.2h0M1140.2 322.7h0M1141.4 323.0h0M1144.9 262.3h0M1143.2 323.3h0M1145.4 324.2h0M1148.8 268.3h0M1147.4 326.2h0M1149.7 271.6h0M1150.2 321.7h0M1149.6 264.8h0M1150.7 329.6h0M1152.9 328.0h0M1152.9 328.0h0M1154.4 329.5h0M1154.9 331.4h0M1156.4 327.1h0M1156.9 276.5h0M1156.0 335.7h0M1157.7 272.9h0M1157.8 332.4h0M1159.4 266.8h0M1160.6 326.6h0M1161.4 265.3h0M1162.6 321.1h0M1164.6 265.7h0M1164.6 324.4h0M1165.8 323.9h0M1168.7 264.7h0M1167.4 325.4h0M1168.1 261.8h0M1168.7 329.5h0M1169.1 267.4h0M1170.6 261.9h0M1169.5 331.0h0M1172.4 259.6h0M1172.5 325.3h0M1173.5 311.4h0M1174.0 258.2h0M1173.9 319.4h0M1175.4 312.0h0M1176.4 251.0h0M1175.4 325.4h0M1177.1 250.1h0M1177.9 332.6h0M1180.8 250.7h0M1180.1 344.5h0M1180.1 342.5h0M1181.7 342.1h0M1182.3 350.1h0M1181.9 352.5h0M1184.3 251.3h0M1183.9 341.5h0M1186.3 332.9h0M1186.1 256.6h0M1186.5 339.0h0M1188.4 273.8h0M1187.8 330.4h0M1188.0 266.5h0M1187.8 340.8h0M1190.5 331.5h0M1191.9 272.7h0M1191.9 325.0h0M1192.0 273.0h0M1192.8 331.1h0M1193.9 325.2h0M1194.4 269.8h0M1193.2 332.0h0M1195.8 266.7h0M1195.4 263.3h0M1195.4 328.2h0M1198.7 256.6h0M1197.2 332.7h0M1200.4 259.7h0M1199.6 333.5h0M1202.2 327.0h0M1201.2 259.4h0M1201.5 332.8h0M1204.8 262.0h0M1204.8 337.1h0M1206.6 264.2h0M1207.0 330.7h0M1205.2 255.6h0M1205.5 332.1h0M1207.2 249.2h0M1208.4 336.1h0M1210.4 249.5h0M1209.8 336.2h0M1212.9 249.4h0M1211.5 337.2h0M1214.6 253.7h0M1213.7 332.9h0M1216.1 276.6h0M1215.2 332.7h0M1218.7 282.9h0M1217.8 277.6h0M1217.8 332.3h0M1220.9 325.5h0M1219.2 279.6h0M1220.0 332.1h0M1224.4 285.3h0M1224.1 331.0h0M1226.4 285.1h0M1226.6 337.4h0M1228.4 282.7h0M1230.5 278.6h0M1230.2 332.6h0M1232.0 276.1h0M1233.0 335.8h0M1234.9 326.1h0M1233.0 273.3h0M1234.9 332.8h0M1236.0 276.1h0M1236.0 335.9h0M1237.7 324.7h0M1237.8 278.9h0M1238.9 335.5h0M1239.8 325.6h0M1239.8 328.6h0M1242.5 272.2h0M1242.7 272.4h0M1244.7 268.1h0M1246.5 315.2h0M1246.9 272.0h0M1246.1 322.6h0M1248.2 322.9h0M1250.8 318.9h0M1252.3 268.8h0M1251.8 310.0h0M1251.7 317.1h0M1253.8 257.4h0M1253.3 314.7h0M1255.5 308.3h0M1255.8 311.5h0M1257.7 263.8h0M1257.6 310.1h0M1258.6 262.6h0M1258.6 309.5h0M1260.7 265.9h0M1264.1 319.8h0M1266.7 317.4h0M1266.3 273.8h0M1266.5 321.8h0M1268.5 278.8h0M1267.7 276.9h0M1270.3 310.4h0M1270.7 276.9h0M1269.1 316.4h0M1273.6 313.4h0M1273.6 278.9h0M1276.7 316.5h0M1278.0 275.0h0M1277.9 316.0h0M1278.7 273.7h0M1281.9 272.2h0M1284.8 269.9h0M1283.1 268.4h0M1286.5 317.3h0M1286.6 272.3h0M1287.8 280.9h0M1289.1 275.4h0M1289.8 272.0h0M1289.3 319.4h0M1292.0 276.8h0M1292.1 327.7h0M1293.7 280.1h0M1293.9 277.9h0M1293.1 331.0h0M1295.1 330.9h0M1297.1 280.3h0M1298.5 327.7h0M1297.5 280.4h0M1298.6 328.3h0M1300.1 327.3h0M1301.5 326.3h0M1306.4 322.2h0M1307.0 329.7h0M1308.8 284.5h0M1307.6 280.9h0M1308.1 330.1h0M1310.5 286.0h0M1310.3 281.9h0M1312.2 280.4h0M1313.7 318.4h0M1313.2 322.8h0M1315.5 284.5h0M1316.8 330.0h0M1316.4 280.7h0M1316.9 328.8h0M1318.8 283.1h0M1317.6 339.7h0M1319.4 294.0h0M1319.5 285.2h0M1319.6 335.1h0M1322.0 332.8h0M1324.8 283.2h0M1323.5 330.6h0M1325.9 331.7h0M1327.5 327.1h0M1327.3 281.9h0M1328.2 331.3h0M1330.5 287.1h0M1330.9 283.5h0M1330.8 337.7h0M1332.7 329.4h0M1332.9 332.3h0M1333.1 333.7h0M1335.1 331.1h0M1338.9 283.4h0M1339.9 283.1h0M1339.6 331.5h0M1341.1 293.6h0M1342.8 328.3h0M1343.8 283.8h0M1343.8 323.5h0M1346.0 325.4h0M1347.8 323.5h0M1351.7 279.3h0M1351.8 321.4h0M1354.5 269.0h0M1353.4 324.2h0M1355.7 326.7h0M1358.4 286.3h0M1358.8 332.9h0M1359.9 335.2h0M1361.7 290.5h0M1363.5 344.2h0M1365.9 344.3h0M1366.7 293.6h0M1366.4 348.7h0M1368.6 352.7h0M1369.0 353.4h0M1369.1 298.5h0M1370.6 353.1h0M1370.2 357.4h0M1372.9 349.0h0M1371.7 295.1h0M1371.9 352.7h0M1374.2 351.0h0M1375.2 283.0h0M1375.6 349.2h0M1378.2 350.1h0M1377.5 278.4h0M1377.3 355.7h0M1379.7 285.3h0M1379.8 280.5h0M1379.9 357.3h0M1381.3 353.5h0M1383.4 353.5h0M1386.4 348.9h0M1385.4 301.9h0M1385.7 356.8h0M1387.7 302.0h0M1387.2 360.0h0M1390.1 299.8h0M1391.0 298.1h0M1389.1 359.9h0M1392.3 354.8h0M1391.4 357.5h0M1393.2 293.5h0M1395.9 357.3h0M1396.3 298.0h0M1395.4 359.4h0M1397.5 306.2h0M1398.8 301.1h0M1398.7 361.9h0M1400.2 307.6h0M1399.6 367.4h0M1400.6 371.3h0M1401.8 306.0h0M1402.1 375.0h0M1401.8 376.3h0M1404.1 377.2h0M1405.5 308.1h0M1406.1 302.0h0M1406.6 376.0h0M1406.8 376.7h0M1407.3 300.1h0M1408.6 370.6h0M1409.8 363.2h0M1412.6 299.2h0M1411.4 346.4h0M1414.1 340.9h0M1415.3 293.5h0M1415.1 340.4h0M1418.1 334.8h0M1418.8 337.4h0M1420.9 334.9h0M1420.5 334.2h0M1422.6 328.5h0M1424.8 285.6h0M1424.4 324.8h0M1425.2 285.5h0M1425.5 328.0h0M1428.2 331.1h0M1431.8 328.3h0M1433.5 285.1h0M1434.1 278.4h0M1434.5 327.0h0M1435.9 278.0h0M1436.7 323.5h0M1438.5 275.6h0M1439.7 321.7h0M1442.9 319.5h0M1442.5 321.6h0M1443.7 269.3h0M1444.9 319.6h0M1447.8 319.0h0M1448.2 275.4h0M1448.3 319.9h0M1450.4 284.2h0M1449.2 318.0h0M1450.9 322.9h0M1452.0 281.2h0M1454.7 322.2h0M1453.3 331.1h0M1455.8 286.7h0M1456.4 330.5h0M1457.0 332.8h0M1459.9 332.3h0M1459.2 333.7h0M1461.9 280.1h0M1461.3 280.4h0M1461.6 334.7h0"/>
<path d="M618.6 269V289M621 273V292M636.5 263V284M640 260V287M643.5 264V283" stroke="#fff" stroke-width="3.6" stroke-linecap="round" fill="none"/>
<polyline class="o" points="117.1,339.3 118.4,350.1 119.7,361.0 120.2,365.4 121.0,357.8 122.3,344.6 123.6,330.8 124.3,324.4 124.9,320.3 126.2,312.1 127.5,304.3 128.3,299.2 128.8,298.8 130.1,297.5 131.4,297.7 132.4,297.6 132.7,301.6 134.0,317.9 135.3,335.7 136.1,346.3 136.6,342.9 137.9,334.6 139.2,325.8 139.6,323.4 140.5,325.0 141.8,328.6 142.6,331.3 143.1,328.0 144.4,318.6 145.7,310.3 146.7,304.8 147.0,303.8 148.3,299.8 149.6,295.9 150.8,291.7 150.9,291.4 152.2,290.0 153.5,290.3 154.8,288.1 155.9,285.8 156.1,285.9 157.4,287.0 158.7,287.1 159.9,287.5 160.0,287.3 161.3,284.6 162.6,282.2 163.9,282.1 164.0,282.1 165.2,286.6 166.5,289.3 167.1,291.4 167.8,297.8 169.1,308.0 170.1,315.3 170.4,315.4 171.7,316.0 173.0,315.7 174.2,317.3 174.3,318.0 175.6,323.5 176.9,325.8 178.2,332.2 178.3,332.5 179.5,328.1 180.8,320.7 181.3,317.9 182.1,312.5 183.4,302.3 184.4,295.7 184.7,298.9 186.0,311.1 187.3,319.5 188.5,329.3 188.6,329.3 189.9,329.1 191.2,323.9 191.5,322.4 192.5,315.1 193.8,305.8 195.1,297.5 195.6,295.7 196.4,299.6 197.7,301.3 199.0,303.0 199.7,306.2 200.3,307.1 201.6,304.4 202.9,300.1 203.8,299.3 204.2,299.5 205.5,300.2 206.8,303.0 207.8,302.7 208.1,302.8 209.4,302.4 210.7,308.9 210.9,309.8 212.0,304.2 213.3,294.9 213.9,292.2 214.6,290.4 215.9,285.9 217.2,281.2 218.0,277.8 218.5,275.7 219.8,267.3 221.1,265.7 221.7,267.0 222.4,270.0 223.7,269.7 225.0,272.0 226.2,275.3 226.3,275.2 227.6,274.6 228.9,275.1 230.2,271.8 230.2,271.8 231.5,275.2 232.8,283.6 234.1,283.0 234.3,282.4 235.4,282.1 236.7,286.0 238.0,288.9 238.4,290.1 239.3,292.3 240.6,293.2 241.4,292.9 241.9,287.9 243.2,277.9 244.5,260.9 244.5,260.7 245.8,248.4 247.1,243.5 248.4,238.6 248.6,237.9 249.7,242.6 251.0,246.8 252.3,248.1 252.7,249.2 253.6,254.0 254.9,257.8 255.7,256.3 256.2,257.4 257.5,266.4 258.8,276.5 259.8,280.8 260.1,281.1 261.4,282.0 262.7,280.3 262.9,280.2 264.0,280.4 265.3,283.3 266.6,279.9 266.9,279.2 267.9,285.1 269.2,294.8 270.0,297.6 270.5,301.4 271.8,311.5 273.0,320.7 273.1,319.4 274.4,302.3 275.7,289.4 276.1,284.7 277.0,288.0 278.3,293.2 279.2,300.0 279.6,305.4 280.9,316.6 282.2,327.3 283.2,337.0 283.5,335.7 284.8,329.6 285.7,327.2 286.1,323.6 287.4,308.8 288.7,290.8 289.4,284.8 290.0,285.6 291.3,285.7 292.6,283.5 293.4,283.3 293.9,282.7 295.2,280.0 296.5,278.0 297.1,277.2 297.8,276.7 299.1,273.4 300.4,275.1 301.6,278.4 301.7,278.9 303.0,281.1 304.3,284.2 305.6,287.5 305.6,287.6 306.9,292.1 308.2,297.7 308.7,299.0 309.5,299.1 310.8,301.5 312.1,305.9 312.8,306.5 313.4,303.0 314.7,296.7 315.8,293.0 316.0,292.8 317.3,291.8 318.6,292.1 319.9,290.6 320.9,288.9 321.2,287.2 322.5,280.6 323.8,271.6 324.0,270.3 325.1,267.6 326.0,267.0 326.4,266.1 327.7,262.8 328.5,261.0 329.0,262.6 330.3,265.6 331.6,267.5 332.1,268.9 332.9,276.5 334.1,287.0 334.2,287.3 335.5,289.6 336.8,293.4 338.1,297.3 338.1,297.3 339.4,301.1 340.7,304.7 342.0,307.7 343.2,312.0 343.3,311.9 344.6,309.3 345.9,304.8 347.2,301.0 347.3,300.7 348.5,301.0 349.8,300.3 351.1,299.8 352.4,299.0 352.4,299.0 353.7,298.9 355.0,299.8 356.3,298.9 357.5,297.9 357.6,297.9 358.9,299.1 360.2,299.7 361.5,300.3 362.6,300.9 362.8,301.1 364.1,302.2 365.4,304.2 366.7,304.9 366.7,305.4 368.0,320.3 369.3,337.2 370.6,354.2 370.8,355.8 371.9,348.4 373.2,340.3 374.5,331.5 375.8,323.6 375.9,323.4 377.1,327.9 378.4,331.0 379.7,336.2 379.9,337.1 381.0,331.4 382.3,323.0 383.6,314.8 384.0,312.4 384.9,307.9 386.2,302.5 387.5,297.9 388.1,295.3 388.8,292.0 390.1,287.7 391.1,285.5 391.4,286.4 392.7,288.3 394.0,290.2 395.2,293.2 395.3,293.3 396.6,296.0 397.9,299.9 399.2,301.3 399.3,301.3 400.5,309.2 401.8,320.3 402.4,324.3 403.1,329.7 404.4,338.4 405.4,346.7 405.7,346.0 407.0,342.6 408.3,339.8 409.5,335.8 409.6,335.6 410.9,334.3 412.2,337.7 413.5,340.9 413.6,340.9 414.8,336.3 416.1,333.8 417.4,330.6 417.6,329.9 418.7,324.0 420.0,316.6 421.3,307.1 421.7,305.0 422.6,305.5 423.9,307.0 425.2,302.7 425.8,300.7 426.5,300.0 427.8,299.3 429.1,297.2 429.9,296.7 430.4,297.3 431.7,296.7 433.0,298.5 433.9,302.6 434.3,301.9 435.6,293.9 436.9,285.6 438.0,283.1 438.2,282.8 439.5,279.5 440.8,276.7 442.1,271.7 442.1,271.6 443.4,269.8 444.7,272.5 446.0,270.6 446.2,269.9 447.3,266.1 448.6,269.8 449.9,273.3 451.2,274.3 452.3,274.4 452.5,274.1 453.8,271.2 455.1,273.7 456.4,275.4 457.4,272.2 457.7,270.9 459.0,271.9 460.3,274.0 461.6,270.8 462.5,269.2 462.9,268.1 464.2,264.2 465.5,264.8 466.8,267.8 468.1,262.2 469.4,258.7 469.6,258.8 470.7,262.3 472.0,260.9 473.3,260.8 474.6,263.0 474.7,263.1 475.9,265.1 477.2,270.3 478.5,267.3 479.8,262.8 480.8,265.1 481.1,267.0 482.4,271.0 483.7,273.5 485.0,278.9 485.9,281.7 486.3,281.2 487.6,281.9 488.9,278.6 490.2,272.4 491.0,273.3 491.5,275.5 492.8,277.6 494.1,273.9 495.4,272.0 496.1,270.6 496.7,268.4 498.0,265.7 499.3,263.4 500.6,257.6 501.2,256.9 501.9,261.1 503.2,268.2 504.5,267.3 505.8,267.5 507.1,269.2 507.3,269.4 508.4,275.2 509.4,281.2 509.7,280.7 511.0,275.7 512.3,272.9 513.6,273.9 514.9,268.6 515.5,265.8 516.2,267.5 517.5,273.7 518.8,279.2 519.5,282.5 520.1,285.7 521.4,289.0 522.7,291.2 523.6,296.0 524.0,298.0 525.3,300.7 526.6,301.9 527.9,308.3 528.7,311.9 529.2,313.5 530.5,317.0 531.8,318.9 531.8,318.4 533.1,307.6 534.4,301.3 535.7,294.5 535.8,293.7 537.0,292.4 538.3,294.1 539.6,296.0 540.9,296.2 540.9,296.3 542.2,305.0 543.0,309.7 543.5,307.8 544.8,305.9 546.1,304.7 547.4,298.8 548.1,296.0 548.7,296.9 550.0,299.7 551.3,301.1 552.6,303.4 553.9,305.6 554.2,306.0 555.2,305.0 556.5,304.7 557.8,301.1 559.1,297.4 560.3,296.5 560.4,297.1 561.7,302.0 563.0,306.6 563.4,307.8 564.3,303.6 565.6,297.7 566.9,293.0 568.2,287.2 568.5,286.0 569.5,283.1 570.8,281.8 571.5,281.2 572.1,280.7 573.4,278.8 574.7,277.1 576.0,275.1 576.6,274.4 577.3,275.8 578.6,278.2 579.9,279.4 581.2,282.1 582.5,285.0 583.8,286.2 584.1,286.4 585.1,288.7 586.4,291.9 587.7,295.4 588.1,296.7 589.0,301.2 590.3,306.6 591.6,312.5 592.2,315.8 592.9,311.8 594.2,303.1 595.5,294.7 596.3,290.2 596.8,291.7 598.1,295.4 599.4,299.2 600.4,301.1 600.7,300.8 602.0,300.1 603.3,301.1 604.5,301.6 604.6,302.0 605.9,305.4 607.2,310.1 607.5,311.0 608.5,307.2 609.8,302.2 610.6,299.2 611.1,299.3 612.4,299.4 612.6,299.5 613.7,268.6 615.0,232.3 615.7,213.5 616.3,206.3 617.6,193.3 617.7,192.6 618.9,183.3 620.2,173.2 620.8,169.3 621.5,182.1 622.8,202.4 622.8,202.8 624.1,221.3 625.4,240.3 625.9,245.7 626.7,258.4 628.0,278.6 628.3,283.2 629.3,258.0 629.9,243.1 630.6,229.1 631.9,203.9 632.0,203.1 633.2,192.1 634.0,185.3 634.5,189.7 635.8,201.5 636.0,203.1 637.1,182.5 638.4,158.0 638.7,153.7 639.7,173.7 641.0,197.6 641.1,199.6 642.3,183.0 643.2,170.8 643.6,169.1 644.9,164.3 645.2,163.7 646.2,175.3 647.5,187.9 648.3,193.6 648.8,200.7 650.1,220.9 651.3,238.4 651.4,240.0 652.7,259.0 654.0,278.0 655.3,296.4 655.4,297.6 656.6,318.2 657.9,340.4 658.5,347.7 659.2,355.8 660.5,373.6 660.9,379.5 661.8,375.0 663.1,364.7 663.6,361.4 664.4,343.5 665.6,319.5 665.7,316.2 666.6,294.6 667.0,301.2 668.3,321.6 668.6,325.6 669.6,334.7 670.7,346.3 670.9,344.4 672.2,335.5 673.5,322.4 673.8,320.1 674.8,320.6 676.1,322.6 677.4,323.7 677.8,324.6 678.7,326.9 680.0,324.2 681.3,321.3 681.9,323.2 682.6,324.2 683.9,322.1 685.0,318.3 685.2,317.0 686.5,312.1 687.0,309.8 687.8,311.2 689.1,315.0 690.0,316.5 690.4,313.6 691.7,303.3 693.0,301.6 693.1,301.6 694.3,296.7 695.6,284.6 696.2,280.4 696.9,274.4 698.2,263.8 699.2,256.7 699.5,256.0 700.8,252.2 702.1,243.8 702.3,242.9 703.4,250.2 704.3,257.1 704.7,254.9 706.0,241.8 706.4,238.4 707.3,242.1 708.6,250.6 708.8,251.6 709.9,245.3 711.2,239.3 711.5,237.9 712.5,227.5 713.8,216.7 714.1,215.5 715.1,226.9 716.1,233.0 716.4,229.6 717.7,217.4 718.6,213.5 719.0,215.1 720.3,217.4 721.6,218.9 721.6,218.9 722.9,225.5 724.2,231.9 724.7,236.4 725.5,243.9 726.8,251.2 727.8,253.3 728.1,252.9 729.4,255.2 730.7,255.0 730.8,254.8 732.0,256.9 733.3,259.0 734.6,260.7 734.9,261.7 735.9,253.1 737.2,241.0 738.0,230.6 738.5,223.1 739.0,218.2 739.8,226.4 740.0,227.9 741.1,206.4 742.0,187.4 742.4,186.2 743.7,184.2 745.0,181.4 745.1,181.3 746.3,187.4 747.1,192.5 747.6,190.7 748.9,180.8 750.2,173.5 750.8,172.6 751.5,177.5 752.8,183.3 753.2,185.0 754.1,186.9 754.9,188.2 755.4,193.1 756.7,204.6 757.3,210.7 758.0,205.2 759.3,190.8 759.4,190.6 760.6,195.3 761.9,206.2 762.4,209.9 763.2,214.6 764.5,220.9 765.8,227.7 766.1,228.8 767.1,218.9 768.4,209.0 769.1,203.3 769.7,203.8 771.0,204.3 771.6,205.9 772.3,210.9 773.6,217.4 774.9,220.7 775.6,223.3 776.2,218.0 777.5,206.4 778.8,196.3 779.3,192.9 780.1,192.9 780.8,191.8 781.4,187.4 782.7,181.4 783.2,179.7 784.0,182.6 785.3,184.4 785.8,185.3 786.6,198.0 787.5,212.1 787.9,205.7 789.2,187.7 789.9,178.5 790.5,180.4 792.0,182.7 835.4,269.2 836.0,262.4 837.3,249.8 838.1,241.1 838.6,240.1 839.9,238.1 840.2,238.0 841.2,242.8 842.2,246.8 842.5,247.5 843.8,250.3 845.1,252.9 845.3,253.2 846.4,252.1 847.3,252.3 847.7,253.3 849.0,255.1 850.3,255.6 850.4,255.7 851.6,254.6 852.9,252.9 854.2,249.6 854.9,248.4 855.5,250.7 856.8,255.3 858.1,261.7 858.5,263.8 859.4,263.8 860.7,261.1 861.6,260.0 862.0,259.2 863.3,256.4 864.6,251.4 865.0,249.9 865.9,251.7 867.2,254.7 867.7,255.8 868.5,255.2 869.7,254.3 869.8,254.3 871.1,252.6 871.8,251.8 872.4,247.0 873.7,239.7 873.8,239.1 875.0,244.6 876.3,250.4 876.9,253.4 877.6,252.8 878.9,251.0 878.9,251.1 880.2,259.1 881.5,264.6 882.0,266.1 882.8,264.4 884.0,266.6 884.1,267.3 885.4,271.5 886.7,272.3 888.0,274.9 889.1,276.2 889.3,275.9 890.6,275.7 891.9,274.9 892.2,274.4 893.2,269.0 894.5,267.9 895.2,267.6 895.8,265.6 897.1,257.3 898.3,252.7 898.4,253.2 899.7,256.9 900.3,258.4 901.0,258.9 902.3,259.7 903.4,256.9 903.6,256.7 904.9,259.4 906.2,264.1 907.5,262.3 908.5,262.7 908.8,263.2 910.1,266.3 911.4,267.2 911.5,267.2 912.7,270.2 914.0,268.8 914.6,267.7 915.3,264.9 916.6,264.2 917.6,260.0 917.9,258.3 919.1,253.8 919.2,254.6 920.5,264.1 921.7,269.7 921.8,269.7 923.1,269.1 924.4,266.9 924.8,265.9 925.7,261.4 927.0,261.8 928.3,258.0 928.9,254.1 929.6,255.1 930.9,262.2 930.9,262.1 932.2,255.8 933.5,247.2 933.9,245.2 934.8,244.6 936.1,243.3 937.4,247.3 937.6,248.1 938.7,251.9 940.0,247.7 941.1,247.9 941.3,248.5 942.6,250.9 943.1,250.6 943.9,252.0 945.2,257.0 946.5,261.4 947.2,263.9 947.8,263.2 949.1,261.6 949.8,257.1 950.4,256.9 951.3,258.7 951.7,257.9 953.0,258.6 954.3,254.2 954.3,254.1 955.6,249.0 956.4,246.5 956.9,246.9 958.2,248.5 959.4,253.4 959.5,253.5 960.8,250.9 961.5,248.9 962.1,250.8 963.4,260.4 963.5,260.8 964.7,258.6 965.5,254.3 966.0,255.1 967.3,258.7 967.6,259.3 968.6,252.6 969.6,249.0 969.9,251.7 971.2,259.6 972.5,264.3 972.7,265.1 973.8,265.3 975.1,263.4 975.1,263.4 976.4,265.4 977.7,270.9 978.8,276.3 979.0,275.3 980.3,271.5 981.6,266.9 981.8,265.6 982.9,265.7 983.9,268.1 984.2,267.0 985.5,262.9 986.8,254.1 986.9,253.4 988.1,260.0 989.4,269.1 990.0,272.3 990.7,269.7 992.0,264.6 992.6,260.9 993.3,262.2 994.6,267.4 995.5,274.1 995.9,274.1 997.2,270.7 998.5,266.9 999.8,265.9 1000.2,265.4 1001.1,266.8 1002.4,269.0 1003.2,269.9 1003.7,267.8 1005.0,263.3 1006.3,262.9 1006.3,263.1 1007.6,268.5 1008.9,271.1 1010.2,276.5 1011.4,281.2 1011.5,279.8 1012.8,267.9 1014.0,257.3 1014.1,257.8 1015.4,264.4 1016.7,273.1 1017.5,278.1 1018.0,276.7 1019.3,271.4 1019.5,270.6 1020.6,273.2 1021.6,276.3 1021.9,276.4 1023.2,276.5 1024.5,276.9 1024.6,276.9 1025.8,274.0 1026.7,272.3 1027.1,274.1 1028.4,278.9 1028.7,279.6 1029.7,275.3 1030.8,271.7 1031.0,273.2 1032.3,280.7 1033.6,286.8 1033.8,287.5 1034.9,282.1 1035.8,277.5 1036.2,278.3 1037.5,281.3 1038.8,285.9 1038.9,286.1 1040.1,283.4 1041.4,280.4 1042.0,279.9 1042.7,281.8 1044.0,283.7 1044.0,283.6 1045.3,278.9 1046.0,276.5 1046.6,277.3 1047.9,279.1 1048.5,280.3 1049.2,277.9 1050.5,272.8 1051.7,267.1 1051.8,267.3 1053.1,270.6 1054.2,273.2 1054.4,274.5 1055.7,281.0 1056.2,283.6 1057.0,281.6 1058.3,278.2 1059.3,276.0 1059.6,277.3 1060.9,281.3 1062.2,283.9 1062.3,284.1 1063.5,278.6 1064.8,273.3 1065.4,270.7 1066.1,265.5 1067.4,257.1 1067.8,254.6 1068.7,260.3 1070.0,268.4 1070.5,271.4 1071.3,271.4 1072.6,270.0 1073.5,269.3 1073.9,270.8 1075.2,276.8 1076.5,281.3 1077.6,284.6 1077.8,284.6 1079.1,284.2 1079.7,283.9 1080.4,286.2 1081.7,290.4 1081.7,290.3 1083.0,285.2 1083.7,282.2 1084.3,283.6 1085.6,288.7 1085.8,289.2 1086.9,287.8 1087.8,285.5 1088.2,283.1 1089.5,276.9 1090.8,271.0 1090.9,270.8 1092.1,278.0 1092.9,282.5 1093.4,282.0 1094.7,279.9 1095.0,279.7 1096.0,284.6 1097.3,289.4 1098.0,290.2 1098.6,289.8 1099.9,291.6 1101.1,294.6 1101.2,295.0 1102.5,298.3 1103.8,301.5 1104.1,301.9 1105.1,297.9 1106.2,295.2 1106.4,296.3 1107.7,301.5 1108.2,302.3 1109.0,299.2 1110.3,296.7 1111.6,296.6 1112.3,295.6 1112.9,296.4 1113.9,297.6 1114.2,288.6 1115.5,251.5 1115.7,245.8 1116.8,277.7 1117.8,308.3 1118.1,308.4 1119.4,304.7 1120.7,299.8 1121.4,299.2 1122.0,303.9 1123.3,311.1 1123.5,311.7 1124.6,301.4 1125.9,290.7 1125.9,290.7 1127.2,294.4 1127.9,298.6 1128.5,299.6 1129.8,297.7 1131.1,291.2 1131.4,290.5 1132.4,289.1 1133.7,286.4 1135.0,281.2 1135.1,281.1 1136.3,285.7 1137.6,289.3 1138.9,295.4 1139.5,298.5 1140.2,293.0 1141.5,277.8 1141.6,277.2 1142.8,276.6 1144.1,280.0 1144.2,280.1 1145.4,283.9 1146.7,289.0 1147.7,292.2 1148.0,292.3 1149.3,293.9 1150.6,296.8 1151.8,294.3 1151.9,294.0 1153.2,297.2 1154.5,307.3 1155.8,311.3 1156.5,312.1 1157.1,308.2 1158.4,301.3 1159.7,294.4 1159.9,293.7 1161.0,298.7 1162.0,300.5 1162.3,298.7 1163.6,293.6 1164.0,293.8 1164.9,299.3 1166.0,301.3 1166.2,300.1 1167.5,291.8 1168.8,288.7 1169.1,288.3 1170.1,290.3 1171.1,294.3 1171.4,294.1 1172.7,289.7 1173.6,282.9 1174.0,279.4 1175.3,274.3 1175.6,273.6 1176.6,280.0 1177.9,283.1 1178.3,284.6 1179.2,287.8 1180.5,293.2 1181.3,296.0 1181.8,297.1 1183.1,298.5 1184.4,294.2 1185.7,295.2 1187.0,300.2 1187.5,300.2 1188.3,296.5 1189.5,294.0 1189.6,294.8 1190.9,302.1 1191.5,304.1 1192.2,302.2 1193.5,299.2 1194.8,293.6 1196.1,291.4 1196.6,293.1 1197.4,301.1 1198.7,306.9 1199.1,307.4 1200.0,301.8 1201.3,297.7 1201.7,296.1 1202.6,294.3 1203.9,292.4 1204.8,291.4 1205.2,291.0 1206.5,290.9 1207.8,296.5 1209.1,297.3 1210.4,293.2 1210.9,293.1 1211.7,293.0 1213.0,292.1 1213.5,291.1 1214.3,294.0 1215.6,298.8 1216.0,299.6 1216.9,297.2 1218.2,297.1 1219.0,297.2 1219.5,298.0 1220.8,297.4 1222.1,302.3 1223.1,308.3 1223.4,308.7 1224.7,308.3 1226.0,307.6 1226.2,307.5 1227.3,306.2 1228.6,306.1 1229.2,307.2 1229.9,306.3 1231.2,301.1 1231.3,301.0 1232.5,299.9 1233.8,302.2 1234.3,302.2 1235.1,303.4 1236.4,305.2 1237.7,307.4 1238.4,308.6 1239.0,307.4 1240.3,306.5 1240.4,306.4 1241.6,306.9 1242.5,306.2 1242.9,302.8 1244.2,295.2 1244.5,293.4 1245.5,293.4 1246.8,292.7 1248.1,294.0 1248.6,294.5 1249.4,294.1 1250.7,294.8 1252.0,293.7 1252.7,292.0 1253.3,290.6 1254.6,290.5 1255.9,290.2 1256.7,289.0 1257.2,288.8 1258.5,289.8 1259.8,290.9 1260.8,291.7 1261.1,292.1 1262.4,293.3 1263.7,292.7 1264.9,293.8 1265.0,294.1 1266.3,297.2 1267.6,298.3 1268.9,299.7 1269.0,299.7 1270.2,297.2 1271.0,295.4 1271.5,296.5 1272.8,299.7 1274.1,301.8 1274.1,301.7 1275.4,300.1 1276.7,300.1 1277.1,299.8 1278.0,300.6 1279.3,301.5 1280.2,302.7 1280.6,302.0 1281.9,299.8 1283.2,298.1 1284.2,296.5 1284.5,296.3 1285.8,295.7 1287.1,296.5 1288.4,296.2 1289.3,295.1 1289.7,295.9 1291.0,299.5 1291.4,300.5 1292.3,299.9 1293.4,299.0 1293.6,299.4 1294.9,301.4 1296.2,302.4 1297.5,304.5 1297.5,304.5 1298.8,301.7 1300.1,297.6 1300.6,296.5 1301.4,298.2 1302.7,301.1 1303.6,302.4 1304.0,302.8 1305.3,304.0 1306.6,304.3 1306.7,304.3 1307.9,307.1 1309.2,311.1 1309.7,312.1 1310.5,308.8 1311.8,304.4 1313.1,301.3 1313.8,299.2 1314.4,301.0 1315.7,305.2 1315.8,305.6 1317.0,304.8 1318.3,304.6 1319.6,306.2 1319.9,306.4 1320.9,306.3 1322.2,305.5 1323.0,306.3 1323.5,307.5 1324.8,309.1 1325.0,309.2 1326.1,305.4 1327.4,301.9 1328.1,300.1 1328.7,303.0 1330.0,310.4 1330.1,310.8 1331.3,308.5 1332.6,303.4 1333.2,302.2 1333.9,304.6 1335.2,308.1 1336.5,309.8 1337.2,311.4 1337.8,310.1 1339.1,306.4 1340.3,303.9 1340.4,304.1 1341.7,304.3 1343.0,301.2 1344.3,301.8 1344.4,302.0 1345.6,304.7 1346.9,303.2 1347.4,302.4 1348.2,302.4 1349.5,302.3 1350.8,302.6 1351.5,304.0 1352.1,302.5 1353.4,296.5 1353.6,295.8 1354.7,302.5 1356.0,313.9 1357.3,311.3 1358.5,307.0 1358.6,307.2 1359.9,309.7 1360.3,310.4 1361.2,310.0 1362.2,311.2 1362.5,312.4 1363.8,313.3 1364.6,312.4 1365.1,312.7 1366.4,317.9 1367.7,315.6 1368.3,313.0 1369.0,314.6 1370.1,320.4 1370.3,320.6 1371.6,320.9 1372.2,320.9 1372.9,325.2 1374.2,329.7 1374.4,329.8 1375.5,318.9 1376.8,313.0 1377.4,311.6 1378.1,313.8 1379.3,314.2 1379.4,314.0 1380.7,316.1 1381.7,318.9 1382.0,318.9 1383.3,317.7 1383.9,317.1 1384.6,318.8 1385.9,318.6 1386.6,319.9 1387.2,323.7 1388.4,332.8 1388.5,332.5 1389.8,322.9 1390.5,317.7 1391.1,321.2 1392.4,330.4 1393.3,334.7 1393.7,333.1 1395.0,329.3 1395.2,328.9 1396.3,331.9 1397.6,337.2 1397.6,337.3 1398.9,342.8 1400.0,340.8 1400.2,339.6 1401.5,332.4 1402.5,331.9 1402.8,331.3 1404.1,326.9 1404.6,325.1 1405.4,331.2 1406.7,340.4 1407.2,342.7 1408.0,335.3 1409.2,329.1 1409.3,329.1 1410.6,324.4 1411.9,314.0 1412.3,312.6 1413.2,312.0 1414.5,311.0 1415.3,308.4 1415.8,309.3 1417.1,312.0 1418.4,312.4 1418.4,312.4 1419.7,313.7 1420.8,315.6 1421.0,314.6 1422.3,305.6 1423.3,302.5 1423.6,303.8 1424.9,307.7 1425.7,306.5 1426.2,306.2 1427.5,306.4 1428.2,306.4 1428.8,306.4 1430.1,309.5 1430.9,313.8 1431.4,313.0 1432.7,306.3 1433.7,301.8 1434.0,301.9 1435.3,303.8 1436.6,299.2 1436.7,298.6 1437.9,299.2 1438.9,301.5 1439.2,300.3 1440.5,296.2 1441.6,295.5 1441.8,296.1 1443.1,295.7 1444.3,293.3 1444.4,293.6 1445.7,300.2 1447.0,304.2 1447.1,304.3 1448.3,298.7 1449.6,296.1 1449.6,296.2 1450.9,297.6 1452.0,299.3 1452.2,299.0 1453.5,294.4 1454.5,288.4 1454.8,289.3 1456.1,297.7 1456.9,304.0 1457.4,304.7 1458.7,304.6 1459.4,305.2 1460.0,306.0 1461.3,306.5 1461.8,306.2"/>
</g>
<rect x="116.5" y="38.5" width="1346.0" height="479.70000000000005" fill="none" stroke="#000" stroke-width="1.15"/>
<line x1="116.5" y1="518.2" x2="116.5" y2="523.6" class="t"/>
<line x1="284.8" y1="518.2" x2="284.8" y2="523.6" class="t"/>
<line x1="453.1" y1="518.2" x2="453.1" y2="523.6" class="t"/>
<line x1="621.3" y1="518.2" x2="621.3" y2="523.6" class="t"/>
<line x1="789.6" y1="518.2" x2="789.6" y2="523.6" class="t"/>
<line x1="957.9" y1="518.2" x2="957.9" y2="523.6" class="t"/>
<line x1="1126.2" y1="518.2" x2="1126.2" y2="523.6" class="t"/>
<line x1="1294.5" y1="518.2" x2="1294.5" y2="523.6" class="t"/>
<line x1="111.1" y1="70.2" x2="116.5" y2="70.2" class="t"/>
<line x1="111.1" y1="141.8" x2="116.5" y2="141.8" class="t"/>
<line x1="111.1" y1="213.2" x2="116.5" y2="213.2" class="t"/>
<line x1="111.1" y1="284.8" x2="116.5" y2="284.8" class="t"/>
<line x1="111.1" y1="356.2" x2="116.5" y2="356.2" class="t"/>
<line x1="111.1" y1="427.8" x2="116.5" y2="427.8" class="t"/>
<line x1="111.1" y1="499.2" x2="116.5" y2="499.2" class="t"/>
<clipPath id="c2"><rect x="116.5" y="575.5" width="1346.0" height="478.70000000000005"/></clipPath>
<rect x="727.1" y="575.5" width="643.6999999999999" height="478.70000000000005" fill="#e8e8e8"/>
<line x1="116.5" y1="575.5" x2="116.5" y2="1054.2" class="g"/>
<line x1="284.8" y1="575.5" x2="284.8" y2="1054.2" class="g"/>
<line x1="453.1" y1="575.5" x2="453.1" y2="1054.2" class="g"/>
<line x1="621.3" y1="575.5" x2="621.3" y2="1054.2" class="g"/>
<line x1="789.6" y1="575.5" x2="789.6" y2="1054.2" class="g"/>
<line x1="957.9" y1="575.5" x2="957.9" y2="1054.2" class="g"/>
<line x1="1126.2" y1="575.5" x2="1126.2" y2="1054.2" class="g"/>
<line x1="1294.5" y1="575.5" x2="1294.5" y2="1054.2" class="g"/>
<line x1="116.5" y1="628.5" x2="1462.5" y2="628.5" class="g"/>
<line x1="116.5" y1="729.9" x2="1462.5" y2="729.9" class="g"/>
<line x1="116.5" y1="831.3" x2="1462.5" y2="831.3" class="g"/>
<line x1="116.5" y1="932.8" x2="1462.5" y2="932.8" class="g"/>
<line x1="116.5" y1="1034.2" x2="1462.5" y2="1034.2" class="g"/>
<g clip-path="url(#c2)">
<path class="b" d="M116.5 780.0V925.6M118.5 782.0V931.4M120.5 789.8V934.7M122.5 792.5V942.3M124.5 796.2V942.3M126.5 793.4V945.5M128.5 785.3V943.0M130.5 784.5V947.7M132.5 786.7V939.1M134.5 786.2V939.2M136.5 784.4V942.3M138.5 782.8V946.3M140.5 779.9V948.5M142.5 781.4V944.0M144.5 786.0V936.8M146.5 796.5V944.1M148.5 807.5V948.2M150.5 815.8V949.1M152.5 813.4V951.5M154.5 800.4V943.7M156.5 790.7V941.1M158.5 781.9V939.6M160.5 771.4V945.8M162.5 774.6V939.7M164.5 776.2V946.0M166.5 775.5V932.7M168.5 769.2V926.8M170.5 773.3V919.9M172.5 773.8V913.9M174.5 776.1V911.8M176.5 783.1V909.6M178.5 784.1V922.9M180.5 785.6V925.9M182.5 789.7V939.0M184.5 790.5V949.0M186.5 797.7V954.3M188.5 787.4V953.4M190.5 785.6V954.0M192.5 774.9V943.3M194.5 773.5V933.9M196.5 776.9V930.9M198.5 781.6V934.7M200.5 784.0V936.4M202.5 782.7V944.4M204.5 782.5V944.4M206.5 783.9V949.4M208.5 784.2V951.9M210.5 777.9V952.7M212.5 772.2V954.1M214.5 768.5V946.0M216.5 771.9V943.6M218.5 770.3V944.9M220.5 766.5V939.3M222.5 771.3V945.3M224.5 775.3V947.2M226.5 769.4V950.2M228.5 769.5V954.4M230.5 772.4V953.5M232.5 780.2V959.6M234.5 781.2V955.5M236.5 782.4V953.5M238.5 778.5V951.9M240.5 781.8V948.1M242.5 779.6V949.4M244.5 775.2V951.8M246.5 780.4V957.0M248.5 785.9V956.5M250.5 803.7V957.7M252.5 816.5V962.7M254.5 829.6V961.8M256.5 830.6V957.2M258.5 813.8V958.8M260.5 802.9V956.2M262.5 780.3V953.5M264.5 779.1V954.7M266.5 773.3V949.3M268.5 772.1V942.0M270.5 773.0V929.9M272.5 772.0V917.9M274.5 771.5V911.1M276.5 775.3V913.4M278.5 773.1V920.9M280.5 780.2V931.3M282.5 778.6V939.2M284.5 777.5V949.8M286.5 798.9V952.8M288.5 827.2V959.0M290.5 853.4V966.3M292.5 864.2V976.2M294.5 859.4V978.2M296.5 849.5V977.0M298.5 823.1V972.4M300.5 771.8V966.3M302.5 771.2V959.5M304.5 770.8V955.5M306.5 766.4V956.4M308.5 766.7V954.4M310.5 771.8V950.8M312.5 767.4V952.9M314.5 770.6V958.1M316.5 768.7V957.6M318.5 774.5V962.7M320.5 777.6V967.1M322.5 773.9V965.2M324.5 774.1V965.9M326.5 809.0V966.2M328.5 830.4V965.1M330.5 782.1V965.7M332.5 820.5V970.3M334.5 817.1V975.0M336.5 799.9V972.5M338.5 809.3V975.2M340.5 842.2V972.7M342.5 872.7V969.8M344.5 847.2V963.2M346.5 823.7V961.0M348.5 801.4V962.8M350.5 795.2V957.8M352.5 790.1V959.8M354.5 793.3V956.3M356.5 798.7V955.5M358.5 809.8V955.3M360.5 818.6V959.9M362.5 823.9V959.4M364.5 840.1V961.2M366.5 851.6V964.3M368.5 863.2V963.0M370.5 877.4V964.0M372.5 842.4V959.5M374.5 799.3V954.4M376.5 784.4V953.8M378.5 780.9V949.4M380.5 779.2V947.9M382.5 777.4V941.5M384.5 777.7V943.3M386.5 775.2V942.8M388.5 774.1V941.4M390.5 766.3V938.3M392.5 769.9V938.0M394.5 768.0V933.3M396.5 775.1V936.4M398.5 775.8V937.4M400.5 775.1V934.4M402.5 774.7V938.1M404.5 777.9V925.8M406.5 784.6V919.3M408.5 784.7V923.1M410.5 786.7V917.0M412.5 799.9V925.1M414.5 810.0V933.4M416.5 808.0V932.6M418.5 796.6V931.2M420.5 786.3V930.4M422.5 783.1V923.8M424.5 784.7V944.6M426.5 776.5V951.7M428.5 776.5V946.1M430.5 774.7V943.7M432.5 772.6V946.5M434.5 773.7V948.6M436.5 772.1V944.5M438.5 767.7V938.5M440.5 766.6V945.1M442.5 769.0V959.1M444.5 769.7V967.3"/>
<path class="b" d="M447.0 789.4V999.9M449.0 842.7V1003.3M451.0 874.8V1004.5M453.0 901.6V1008.4M455.0 909.6V1012.2M457.0 917.0V1015.7M459.0 929.3V1013.1M461.0 937.3V1019.5M463.0 946.3V1017.2M465.0 960.1V1018.2M467.0 980.4V1019.2M469.0 985.7V1015.0M471.0 993.6V1023.0M473.0 994.2V1015.7M475.0 999.1V1021.3M477.0 998.7V1019.2M479.0 1004.5V1020.6M481.0 1005.1V1024.2M483.0 1003.7V1021.1M485.0 1009.0V1022.1M487.0 1013.4V1024.6M489.0 1017.3V1026.2M491.0 1018.7V1026.2M493.0 1017.5V1026.8M495.0 1019.9V1024.1M497.0 1023.7V1025.2M499.0 1023.1V1028.0M501.0 1024.3V1029.9M503.0 1024.2V1029.5M505.0 1022.6V1029.6M507.0 1024.7V1030.3M509.0 1025.4V1030.3M511.0 1027.0V1029.0M513.0 1025.3V1029.0M515.0 1027.8V1030.0M517.0 1025.1V1028.6M519.0 1024.5V1028.6M521.0 1025.7V1027.0M523.0 1023.6V1029.8M525.0 1025.4V1028.8M527.0 1025.8V1029.7M529.0 1023.8V1025.0M531.0 1024.4V1028.4M533.0 1026.2V1028.0M535.0 1025.0V1028.3M537.0 1028.3V1030.1M539.0 1024.5V1030.6M541.0 1025.6V1030.5M543.0 1024.9V1029.1M545.0 1023.5V1027.4M547.0 1023.9V1031.2M549.0 1023.7V1029.6M551.0 1024.8V1031.0M553.0 1024.2V1028.6M555.0 1025.3V1028.1M557.0 1025.5V1027.6M559.0 1027.9V1030.7M561.0 1024.7V1029.0M563.0 1026.3V1030.6M565.0 1027.2V1028.0M567.0 1024.8V1030.2M569.0 1028.1V1028.2M571.0 1025.0V1029.8M573.0 1026.7V1028.9M575.0 1026.1V1030.4M577.0 1026.1V1031.7M579.0 1029.1V1030.6M581.0 1025.9V1030.5M583.0 1026.6V1028.9M585.0 1028.2V1030.6M587.0 1030.7V1032.2M589.0 1030.6V1031.1M591.0 1030.4V1031.7M593.0 1032.6V1032.7M595.0 1030.4V1032.2M597.0 1029.8V1031.9M599.0 1031.4V1031.5M601.0 1030.4V1032.1M603.0 1032.1V1032.2M605.0 1031.0V1032.3M607.0 1031.6V1031.7M609.0 1031.3V1031.9M611.0 1031.3V1033.0M613.0 1031.0V1031.2M615.0 1030.3V1031.7M617.0 1030.2V1030.8M619.0 1030.9V1031.6M621.0 1029.9V1030.9M623.0 1030.6V1031.6M625.0 1030.9V1031.4M627.0 1030.6V1030.7M629.0 1030.2V1030.7M631.0 1029.9V1030.7M633.0 1027.6V1029.8M635.0 1029.2V1030.8M637.0 1027.5V1030.0M639.0 1027.2V1027.3M641.0 1025.7V1029.2M643.0 1024.4V1027.8M645.0 1024.0V1027.7M647.0 1022.2V1026.3M649.0 1023.5V1027.7M651.0 1022.7V1024.7M653.0 1021.1V1025.6M655.0 1022.2V1026.2M657.0 1027.8V1027.9M659.0 1026.6V1030.0M661.0 1027.2V1028.0M663.0 1027.1V1027.8M665.0 1028.9V1029.0M667.0 1029.1V1030.0M669.0 1030.5V1030.6M671.0 1028.3V1031.0M673.0 1028.9V1029.9M675.0 1028.8V1029.4M677.0 1030.2V1030.3M679.0 1025.9V1030.0M681.0 1020.3V1026.3M683.0 1018.9V1030.3M685.0 1011.4V1027.4M687.0 1012.5V1024.9M689.0 1008.4V1024.4M691.0 1005.1V1026.7M693.0 1006.3V1025.7M695.0 1008.1V1025.9M697.0 1014.0V1023.5M699.0 1021.2V1027.3M701.0 1020.7V1027.7M703.0 1020.0V1027.5M705.0 1018.1V1026.8M707.0 1020.5V1025.5M709.0 1017.5V1027.3M711.0 1020.5V1023.8M713.0 1017.8V1021.6M715.0 1017.2V1021.2M717.0 1012.7V1021.2M719.0 1009.4V1021.4M721.0 1010.6V1015.3M723.0 1006.3V1018.8M725.0 1007.2V1018.2M727.0 1005.9V1017.6M729.0 1004.9V1018.9M731.0 1003.9V1013.3M733.0 1011.9V1018.0M735.0 1006.9V1015.7M737.0 1005.9V1016.4M739.0 1008.6V1016.1M741.0 1004.6V1016.8M743.0 1003.2V1013.2M745.0 999.0V1010.1M747.0 996.7V1011.3M749.0 987.1V1008.4M751.0 986.2V1005.0M753.0 989.6V1006.5M755.0 986.7V1010.0M757.0 989.2V1006.3M759.0 995.1V1009.6M761.0 991.4V1009.6M763.0 976.5V1008.3M765.0 943.5V1009.5M767.0 909.3V1003.1M769.0 887.0V1004.7M771.0 881.9V998.6M773.0 855.1V994.0M775.0 798.8V993.8M777.0 766.3V998.1M779.0 769.9V993.7M781.0 839.6V996.3M783.0 881.1V1001.8M785.0 886.5V1002.5M787.0 934.6V1002.4M789.0 946.9V1005.1M791.0 966.9V1005.5"/>
<path class="b" d="M836.2 915.8V1009.6M838.2 901.8V1008.3M840.2 898.8V1004.4M842.2 899.9V1004.8M844.2 888.8V995.4M846.2 869.1V993.8M848.2 850.9V986.5M850.2 847.9V982.3M852.2 843.6V985.9M854.2 847.6V989.5M856.2 841.6V989.9M858.2 857.1V989.6M860.2 865.6V995.3M862.2 869.4V998.9M864.2 876.3V999.5M866.2 867.4V996.2M868.2 869.6V994.6M870.2 875.1V994.0M872.2 877.6V992.4M874.2 889.1V989.4M876.2 894.7V990.1M878.2 900.2V996.9M880.2 898.4V1001.1M882.2 908.6V1002.0M884.2 908.7V1003.7M886.2 909.4V1004.4M888.2 910.0V1003.9M890.2 913.5V1001.3M892.2 910.7V997.9M894.2 911.7V997.8M896.2 908.5V993.9M898.2 912.5V991.1M900.2 910.2V996.1M902.2 909.5V1001.5M904.2 909.6V1002.2M906.2 916.5V1003.9M908.2 910.2V1006.4M910.2 909.1V999.5M912.2 903.5V1003.5M914.2 900.0V1002.8M916.2 897.7V1000.2M918.2 892.7V1005.1M920.2 889.9V1003.7M922.2 903.8V1004.1M924.2 909.5V1007.1M926.2 912.4V1008.4M928.2 918.3V1015.8M930.2 937.7V1013.7M932.2 945.1V1013.9M934.2 938.1V1016.9M936.2 954.6V1015.4M938.2 960.3V1010.5M940.2 952.5V1012.8M942.2 938.0V1015.9M944.2 944.5V1016.9M946.2 948.2V1018.4M948.2 949.1V1013.7M950.2 959.9V1015.3M952.2 968.9V1015.9M954.2 968.5V1021.7M956.2 969.7V1015.2M958.2 965.3V1017.5M960.2 962.8V1018.3"/>
<path class="b" d="M964.0 973.5V1020.3M966.0 983.2V1019.9M968.0 982.0V1019.4M970.0 980.6V1022.4M972.0 979.5V1019.9M974.0 976.9V1021.7M976.0 973.7V1024.2M978.0 974.4V1022.3M980.0 969.2V1023.2M982.0 969.3V1027.2M984.0 971.2V1024.4M986.0 976.8V1026.6M988.0 987.0V1022.6M990.0 986.0V1023.6M992.0 996.4V1025.2M994.0 1007.2V1024.2M996.0 1008.5V1025.8M998.0 1009.7V1024.9M1000.0 1002.6V1023.6M1002.0 1003.5V1024.7M1004.0 993.2V1025.2M1006.0 992.5V1024.3M1008.0 991.5V1025.5M1010.0 995.2V1020.2M1012.0 998.8V1024.2M1014.0 994.1V1027.0M1016.0 984.1V1026.2M1018.0 987.3V1029.5M1020.0 994.1V1028.1M1022.0 1001.4V1028.9M1024.0 1001.3V1027.5M1026.0 976.2V1027.2M1028.0 973.8V1025.3M1030.0 974.8V1023.4M1032.0 978.4V1027.8M1034.0 982.1V1026.2M1036.0 986.2V1022.3M1038.0 993.9V1024.3M1040.0 1005.5V1027.9M1042.0 1007.2V1026.1M1044.0 1011.8V1028.0M1046.0 1015.2V1025.7M1048.0 1014.3V1028.8M1050.0 1019.1V1027.6M1052.0 1018.7V1028.3M1054.0 1019.5V1028.7M1056.0 1014.5V1027.2M1058.0 1004.6V1027.7M1060.0 996.1V1026.7M1062.0 993.9V1027.1M1064.0 1003.8V1030.1M1066.0 1006.5V1030.1M1068.0 1013.0V1027.0M1070.0 1008.7V1029.0M1072.0 1007.2V1025.9M1074.0 1014.3V1028.0M1076.0 1012.3V1026.9M1078.0 1014.8V1028.2M1080.0 1014.6V1028.8M1082.0 1014.0V1030.1M1084.0 1018.7V1027.4M1086.0 1023.7V1027.6M1088.0 1020.9V1028.5M1090.0 1017.7V1028.4M1092.0 1017.9V1029.2M1094.0 1020.1V1028.3M1096.0 1021.2V1026.8M1098.0 1024.5V1025.6M1100.0 1023.3V1028.5M1102.0 1018.5V1026.7M1104.0 1014.6V1028.5M1106.0 1008.9V1029.1M1108.0 1005.6V1027.3M1110.0 1003.0V1022.0M1112.0 1010.1V1027.6M1114.0 1015.3V1028.1M1116.0 1021.1V1031.2M1118.0 1019.6V1028.4M1120.0 1022.6V1029.8M1122.0 1024.7V1029.1M1124.0 1022.6V1028.8M1126.0 1022.5V1030.6M1128.0 1021.0V1029.4M1130.0 1018.7V1027.7M1132.0 1014.7V1029.3M1134.0 1013.3V1028.7M1136.0 1016.1V1028.5M1138.0 1023.0V1030.7M1140.0 1023.1V1026.0M1142.0 1024.6V1031.2M1144.0 1024.7V1026.2M1146.0 1026.9V1027.3M1148.0 1023.6V1029.0M1150.0 1024.5V1030.0M1152.0 1022.4V1028.7M1154.0 1025.1V1027.9M1156.0 1020.7V1029.4M1158.0 1021.7V1026.3M1160.0 1023.2V1031.9M1162.0 1020.1V1029.7M1164.0 1022.5V1025.7M1166.0 1017.0V1029.6M1168.0 1014.9V1029.9M1170.0 1020.2V1031.5M1172.0 1022.5V1027.8M1174.0 1021.3V1032.1M1176.0 1022.8V1030.7M1178.0 1025.5V1031.8M1180.0 1026.5V1029.4M1182.0 1026.9V1031.0M1184.0 1026.0V1027.5M1186.0 1022.9V1031.4M1188.0 1022.3V1026.1M1190.0 1021.8V1032.5M1192.0 1022.5V1028.4M1194.0 1023.1V1030.4M1196.0 1023.6V1030.2M1198.0 1024.8V1031.7M1200.0 1021.6V1030.4M1202.0 1022.1V1028.9M1204.0 1020.0V1028.2M1206.0 1023.5V1027.3M1208.0 1026.0V1030.2M1210.0 1023.6V1029.9M1212.0 1017.9V1029.8M1214.0 1016.9V1029.7M1216.0 1014.6V1030.6M1218.0 1012.7V1030.9M1220.0 1011.9V1030.7M1222.0 1013.0V1030.1M1224.0 1012.5V1031.2M1226.0 1004.2V1029.0M1228.0 1006.8V1028.4M1230.0 1012.3V1027.1M1232.0 1012.8V1026.9M1234.0 1010.7V1026.3M1236.0 1012.0V1024.1M1238.0 1007.9V1029.5M1240.0 1007.6V1026.1M1242.0 997.0V1028.9M1244.0 991.2V1024.4M1246.0 1001.1V1028.6M1248.0 1005.5V1024.7M1250.0 1003.7V1028.1M1252.0 1000.3V1025.8M1254.0 1001.3V1024.2M1256.0 1001.8V1026.0M1258.0 1009.0V1023.7M1260.0 1009.1V1025.8M1262.0 1005.4V1028.6M1264.0 1004.6V1028.6M1266.0 1007.3V1026.0M1268.0 992.7V1025.4M1270.0 984.5V1024.0M1272.0 978.3V1027.8M1274.0 996.0V1022.5M1276.0 994.2V1019.8M1278.0 989.3V1024.9M1280.0 988.6V1019.2M1282.0 986.0V1024.9M1284.0 985.2V1023.5M1286.0 987.3V1022.9M1288.0 995.8V1022.1M1290.0 995.0V1023.4"/>
<path class="b" d="M1292.0 991.7V1023.5M1294.0 991.5V1023.0M1296.0 986.2V1022.7M1298.0 989.6V1025.3M1300.0 987.8V1020.6M1302.0 987.2V1025.6M1304.0 991.7V1023.8M1306.0 986.2V1019.9M1308.0 972.9V1020.0M1310.0 967.2V1019.2M1312.0 961.8V1019.8M1314.0 966.4V1021.6M1316.0 966.3V1020.4M1318.0 966.6V1019.2M1320.0 970.0V1022.5M1322.0 971.3V1017.5M1324.0 960.9V1020.1M1326.0 956.0V1017.9M1328.0 955.1V1016.9M1330.0 949.8V1012.0M1332.0 950.1V1014.7M1334.0 951.8V1012.5M1336.0 951.2V1012.0M1338.0 941.5V1014.7M1340.0 943.6V1008.6M1342.0 942.9V1012.7M1344.0 940.6V1012.1M1346.0 937.1V1011.8M1348.0 937.3V1012.0M1350.0 930.7V1010.9M1352.0 928.7V1007.7M1354.0 933.4V1009.2M1356.0 931.2V1011.9M1358.0 932.0V1009.1M1360.0 924.0V1007.4M1362.0 921.8V1012.2M1364.0 923.8V1011.4M1366.0 919.5V1009.6M1368.0 920.9V1005.9M1370.0 925.2V1007.2M1372.0 934.4V1006.1M1374.0 936.7V1003.3M1376.0 922.4V1005.6M1378.0 914.2V1005.7M1380.0 906.8V1001.5M1382.0 901.7V1006.6M1384.0 906.6V1001.6M1386.0 909.2V999.4M1388.0 910.5V1000.1M1390.0 912.2V1000.4M1392.0 901.6V995.1M1394.0 888.8V989.9M1396.0 886.4V988.0M1398.0 883.0V986.6M1400.0 890.3V988.2M1402.0 880.5V989.8M1404.0 866.5V988.7M1406.0 870.7V991.4M1408.0 857.2V990.9M1410.0 848.9V989.3M1412.0 831.2V989.8M1414.0 827.3V984.4M1416.0 812.1V974.1M1418.0 805.3V972.8M1420.0 804.6V976.6M1422.0 807.4V972.9M1424.0 818.0V981.9M1426.0 816.2V985.3M1428.0 822.9V990.4M1430.0 840.4V991.3M1432.0 850.6V993.3M1434.0 842.7V991.2M1436.0 835.0V988.4M1438.0 824.8V988.5M1440.0 810.6V980.0M1442.0 805.3V984.2M1444.0 792.2V978.8M1446.0 787.4V973.1M1448.0 786.8V967.4M1450.0 784.4V967.4M1452.0 784.0V966.5M1454.0 787.9V963.9M1456.0 782.6V967.6M1458.0 788.0V967.2M1460.0 792.4V973.1M1462.0 800.0V967.2"/>
<path class="b" d="M117.6 662.5h0M116.7 695.1h0M117.3 720.7h0M116.6 706.6h0M117.7 725.0h0M117.5 725.3h0M115.8 716.1h0M118.2 702.9h0M118.4 734.0h0M118.0 705.1h0M116.6 708.6h0M118.3 709.6h0M118.2 732.3h0M118.5 716.3h0M131.1 617.7h0M131.3 634.2h0M130.4 631.1h0M131.7 629.8h0M130.9 630.6h0M132.5 631.5h0M132.1 634.8h0M131.6 689.7h0M130.9 670.0h0M129.9 668.7h0M129.4 668.1h0M132.0 674.3h0M129.5 683.6h0M131.1 670.3h0M129.3 679.8h0M131.0 666.4h0M129.4 681.9h0M129.9 687.2h0M130.9 681.6h0M132.2 674.0h0M130.5 675.7h0M131.9 680.1h0M131.6 693.8h0M131.5 680.0h0M132.2 683.1h0M131.6 693.2h0M131.0 670.2h0M129.9 677.0h0M129.9 687.4h0M130.7 685.3h0M131.4 676.6h0M133.6 685.7h0M133.0 694.1h0M132.6 671.6h0M133.4 678.7h0M131.6 677.2h0M131.9 664.4h0M131.4 679.8h0M132.0 666.8h0M131.0 665.7h0M131.5 677.1h0M132.1 678.8h0M130.9 675.4h0M132.2 664.1h0M131.3 693.2h0M131.4 674.3h0M132.0 686.3h0M130.4 687.9h0M131.1 667.6h0M131.7 674.8h0M133.5 675.3h0M132.3 677.0h0M132.5 693.0h0M133.1 681.7h0M130.5 673.8h0M131.4 663.6h0M130.9 768.3h0M129.4 739.2h0M130.4 751.8h0M130.1 743.9h0M130.4 765.2h0M132.0 715.5h0M130.0 711.4h0M132.3 731.8h0M129.8 703.1h0M129.4 755.8h0M131.7 726.2h0M131.7 749.3h0M132.0 703.2h0M131.8 721.8h0M132.0 730.7h0M130.0 731.1h0M130.8 705.8h0M129.7 698.0h0M131.0 761.9h0M130.9 761.0h0M131.9 731.3h0M131.3 702.5h0M132.7 765.5h0M132.4 733.5h0M133.5 760.8h0M130.6 740.2h0M131.0 761.6h0M130.9 712.7h0M132.3 733.8h0M131.9 729.8h0M132.7 705.0h0M131.4 735.8h0M133.4 758.7h0M133.6 765.6h0M131.7 699.5h0M131.2 729.0h0M133.3 751.7h0M132.0 704.9h0M144.2 635.0h0M143.5 681.9h0M143.5 653.1h0M144.5 668.3h0M142.9 656.1h0M142.1 685.4h0M142.3 671.7h0M143.4 676.8h0M142.7 683.2h0M142.8 681.5h0M142.3 651.0h0M143.3 652.1h0M143.2 684.9h0M142.1 675.6h0M143.8 668.2h0M143.9 652.9h0M143.1 665.7h0M144.2 679.8h0M142.4 653.7h0M142.9 711.0h0M145.1 739.5h0M144.8 755.8h0M144.6 714.5h0M143.5 745.7h0M143.9 757.1h0M142.7 714.2h0M144.0 714.7h0M144.8 738.9h0M142.1 708.9h0M142.9 756.0h0M144.8 721.3h0M144.6 713.8h0M143.8 752.3h0M142.0 738.2h0M144.0 738.1h0M143.7 746.1h0M142.7 714.0h0M142.3 740.3h0M142.8 713.6h0M143.8 747.3h0M145.1 762.4h0M142.8 765.6h0M144.8 765.4h0M143.4 762.6h0M160.9 686.3h0M158.3 688.7h0M158.7 686.5h0M160.0 682.4h0M159.3 665.3h0M159.6 676.4h0M159.2 695.5h0M158.6 688.3h0M159.3 674.2h0M158.4 684.7h0M160.6 693.4h0M159.8 678.0h0M161.8 696.1h0M159.8 700.0h0M161.0 667.3h0M161.7 665.5h0M160.0 690.2h0M161.1 681.2h0M160.1 670.6h0M161.1 694.2h0M158.0 750.0h0M158.5 720.0h0M159.8 704.8h0M160.7 749.0h0M160.6 747.5h0M159.4 740.5h0M159.2 725.2h0M159.3 778.7h0M158.8 702.5h0M159.7 718.4h0M159.2 743.8h0M160.1 777.9h0M157.8 709.4h0M159.6 759.4h0M159.3 755.5h0M159.2 705.2h0M159.6 770.4h0M158.1 705.9h0M159.4 776.0h0M160.0 715.7h0M160.5 777.7h0M160.3 754.9h0M159.2 709.4h0M158.8 768.3h0M160.5 714.0h0M157.7 759.7h0M159.5 707.5h0M159.7 780.0h0M158.0 773.7h0M158.3 749.2h0M158.2 729.3h0M157.9 740.1h0M159.8 755.8h0M161.4 776.0h0M161.7 708.4h0M162.0 746.5h0M159.2 742.4h0M159.5 759.7h0M160.7 782.5h0M160.5 775.8h0M161.1 728.9h0M160.4 760.1h0M160.3 724.7h0M159.7 760.5h0M160.5 715.2h0M159.2 755.9h0M162.1 724.4h0M161.4 724.1h0M159.2 727.2h0M161.7 741.9h0M159.1 765.6h0M160.9 759.6h0M161.1 741.6h0M159.5 744.8h0M159.4 759.0h0M161.7 727.5h0M160.6 748.6h0M160.5 760.2h0M160.7 733.6h0M160.1 704.1h0M162.1 705.5h0M161.1 776.3h0M161.7 715.2h0M161.5 725.4h0M160.9 755.4h0M159.8 762.7h0M169.9 637.6h0M169.6 644.7h0M168.7 656.0h0M167.3 652.9h0M168.2 653.5h0M170.1 656.7h0M171.6 654.3h0M170.1 656.7h0M168.2 686.2h0M167.6 697.3h0M166.7 679.9h0M167.1 705.9h0M168.9 722.8h0M166.9 724.9h0M166.3 696.1h0M166.2 686.3h0M169.1 695.3h0M167.2 711.7h0M169.0 681.0h0M168.7 666.9h0M166.2 717.6h0M168.1 723.6h0M167.3 688.1h0M167.7 702.0h0M168.9 718.4h0M166.0 684.2h0M168.1 712.8h0M166.2 704.9h0M168.9 668.4h0M167.5 686.5h0M166.6 725.1h0M166.2 703.7h0M168.4 699.0h0M168.4 673.5h0M168.6 724.8h0M169.0 713.5h0M167.7 708.8h0M168.6 715.6h0M168.1 703.3h0M167.1 674.8h0M168.7 684.1h0M166.9 712.9h0M166.2 726.4h0M167.0 667.5h0M169.0 668.4h0M167.2 686.2h0M167.7 717.6h0M167.4 703.4h0M169.1 692.6h0M167.7 681.1h0M166.4 693.8h0M167.6 672.8h0M167.4 714.0h0M169.0 667.3h0M168.8 672.2h0M168.1 666.4h0M166.8 672.8h0M170.3 690.2h0M169.2 691.1h0M169.6 689.0h0M171.0 681.3h0M168.3 675.6h0M169.0 698.2h0M168.0 709.1h0M169.1 706.3h0M168.9 722.1h0M168.9 690.9h0M168.8 697.3h0M169.2 705.9h0M168.8 708.3h0M169.7 692.4h0M170.0 709.0h0M168.2 690.7h0M168.4 670.7h0M168.5 675.2h0M169.0 705.4h0M168.7 720.9h0M168.5 679.1h0M170.1 672.7h0M168.7 700.1h0M170.1 714.8h0M169.9 690.6h0M169.3 705.0h0M169.1 669.4h0M169.1 723.3h0M168.2 703.9h0M170.7 712.5h0M169.1 687.1h0M168.7 696.0h0M168.3 676.8h0M169.5 707.0h0M171.0 724.0h0M170.9 718.8h0M168.0 716.5h0M171.0 671.7h0M169.9 718.8h0M169.3 702.7h0M168.4 690.4h0M168.8 698.2h0M170.7 671.3h0M170.7 699.9h0M169.8 682.1h0M170.6 681.0h0M170.0 676.8h0M169.0 698.6h0M169.5 668.6h0M172.5 696.6h0M170.4 676.4h0M172.4 682.9h0M171.9 678.2h0M170.1 665.6h0M171.4 708.3h0M171.3 670.7h0M171.1 723.0h0M171.2 698.8h0M170.0 695.5h0M171.7 719.3h0M170.7 685.5h0M172.8 675.4h0M171.0 716.7h0M171.6 701.7h0M169.9 676.2h0M170.4 710.0h0M169.9 699.3h0M170.4 664.9h0M171.8 704.9h0M171.9 726.2h0M169.9 696.5h0M171.4 724.1h0M170.0 717.8h0M171.4 716.3h0M171.1 677.3h0M171.7 668.3h0M172.1 677.4h0M172.0 674.5h0M172.1 702.6h0M170.8 723.6h0M171.1 706.7h0M172.5 720.0h0M171.8 711.8h0M172.7 680.1h0M172.9 724.8h0M172.5 684.9h0M172.5 706.5h0M171.3 714.2h0M172.4 688.5h0M171.6 704.9h0M169.9 718.8h0M171.3 664.4h0M172.5 669.7h0M172.7 669.1h0M170.3 677.8h0M172.0 711.2h0M171.7 689.5h0M172.9 698.5h0M169.5 663.6h0M167.7 755.7h0M167.3 753.1h0M166.3 766.1h0M169.0 766.2h0M167.7 770.2h0M166.3 746.9h0M167.7 732.0h0M168.8 777.0h0M168.4 737.2h0M167.5 772.8h0M166.6 775.7h0M167.6 745.9h0M167.4 768.2h0M168.8 744.0h0M167.3 749.1h0M167.5 739.5h0M167.1 767.0h0M167.6 764.5h0M171.0 727.4h0M169.7 743.2h0M168.6 781.5h0M168.6 730.4h0M170.6 735.5h0M168.0 756.3h0M169.5 742.2h0M168.9 736.7h0M169.3 778.4h0M169.8 740.0h0M169.6 733.2h0M168.2 763.7h0M168.9 758.0h0M169.9 769.2h0M169.9 778.6h0M168.5 737.2h0M170.5 766.9h0M169.2 730.3h0M171.3 742.9h0M171.6 776.5h0M172.3 769.2h0M171.8 742.6h0M171.4 748.1h0M172.0 757.0h0M172.5 736.3h0M170.8 735.9h0M173.0 775.2h0M172.9 747.7h0M172.9 728.9h0M169.9 738.2h0M170.3 770.2h0M169.9 769.7h0M171.0 733.8h0M171.3 731.6h0M172.2 746.5h0M172.9 754.9h0M184.8 730.8h0M184.0 743.0h0M185.7 781.5h0M184.5 771.8h0M183.8 761.0h0M183.4 762.3h0M183.8 773.2h0M184.6 777.4h0M183.1 779.1h0M184.4 779.6h0M192.2 682.5h0M192.7 684.5h0M193.3 685.3h0M192.4 667.0h0M191.5 686.3h0M193.2 682.5h0M192.5 685.1h0M193.0 677.6h0M191.7 686.2h0M193.3 678.7h0M193.3 681.2h0M193.2 669.1h0M193.6 690.8h0M194.8 690.3h0M194.3 671.0h0M195.5 662.8h0M192.8 682.5h0M194.1 678.9h0M192.4 754.3h0M193.4 775.7h0M194.1 700.6h0M192.4 773.5h0M194.2 757.9h0M191.7 773.2h0M192.2 769.2h0M193.6 766.0h0M194.3 735.9h0M194.6 766.2h0M193.3 780.1h0M193.6 760.0h0M193.0 730.0h0M192.1 739.7h0M194.1 717.5h0M193.7 770.0h0M193.1 755.9h0M193.6 745.5h0M192.9 694.8h0M192.1 781.1h0M191.7 736.1h0M194.1 717.0h0M194.0 697.1h0M194.2 765.7h0M194.4 717.2h0M192.9 727.5h0M193.2 779.4h0M191.8 755.2h0M192.3 694.6h0M194.1 703.6h0M194.5 716.5h0M192.0 755.0h0M192.5 757.9h0M191.7 741.4h0M194.0 768.8h0M193.6 746.2h0M191.8 724.6h0M194.9 723.3h0M192.9 744.6h0M194.0 715.7h0M192.6 695.4h0M192.9 734.5h0M192.9 773.8h0M195.0 761.3h0M194.2 722.4h0M194.5 783.1h0M195.6 728.8h0M195.5 717.4h0M193.8 721.9h0M194.6 722.4h0M194.7 773.3h0M195.7 710.5h0M194.1 758.9h0M192.8 770.3h0M195.0 747.8h0M194.6 763.8h0M194.0 699.7h0M194.4 718.2h0M193.9 729.7h0M194.4 742.4h0M193.4 774.0h0M193.1 718.8h0M195.2 704.2h0M192.9 776.6h0M195.4 726.4h0M195.6 771.6h0M193.5 783.1h0M193.3 700.1h0M192.5 739.2h0M194.0 716.9h0M193.0 755.3h0M193.5 705.2h0M192.9 702.3h0M195.0 703.4h0M201.9 729.7h0M204.4 727.7h0M202.7 723.6h0M202.0 728.1h0M204.8 707.6h0M204.7 712.2h0M201.9 726.3h0M203.8 708.9h0M203.9 710.2h0M202.5 724.2h0M202.4 719.0h0M203.8 729.4h0M203.7 724.7h0M204.6 736.0h0M203.4 772.6h0M203.3 762.9h0M203.4 771.3h0M203.4 747.0h0M201.8 743.7h0M204.5 759.4h0M202.4 769.5h0M203.6 758.8h0M203.2 762.4h0M203.9 758.8h0M203.4 777.7h0M203.9 772.8h0M202.6 738.9h0M209.4 650.6h0M209.2 651.3h0M210.6 653.4h0M210.5 650.8h0M209.9 649.3h0M210.4 668.7h0M210.3 695.8h0M209.5 703.9h0M210.8 703.1h0M208.7 697.4h0M209.6 752.0h0M209.7 725.0h0M211.1 747.4h0M210.7 758.5h0M209.4 714.7h0M208.9 704.7h0M208.8 724.4h0M208.7 732.5h0M209.6 742.9h0M210.5 718.9h0M208.3 723.7h0M210.7 753.9h0M209.2 756.2h0M210.5 719.9h0M211.4 713.0h0M210.0 742.9h0M213.4 606.1h0M215.6 683.7h0M214.3 625.5h0M215.6 611.5h0M215.1 751.4h0M213.0 751.8h0M212.6 645.7h0M212.7 710.5h0M213.0 634.6h0M215.0 787.5h0M215.6 655.0h0M212.9 628.6h0M215.0 674.9h0M215.0 615.9h0M215.0 708.9h0M212.6 665.6h0M214.8 616.0h0M214.9 701.2h0M213.3 636.8h0M215.2 639.5h0M213.0 742.2h0M212.6 746.9h0M213.3 692.7h0M214.8 755.0h0M213.1 738.1h0M214.5 604.2h0M212.5 740.4h0M215.3 770.4h0M214.1 670.8h0M215.4 731.3h0M214.1 731.0h0M214.0 755.9h0M214.2 602.2h0M213.5 681.7h0M213.2 677.6h0M214.8 660.4h0M213.9 780.3h0M212.9 771.9h0M214.8 703.0h0M213.7 758.5h0M215.5 630.4h0M214.5 722.6h0M212.8 667.6h0M213.8 714.4h0M214.6 781.2h0M214.3 753.1h0M212.9 752.6h0M214.3 803.4h0M213.1 720.1h0M214.7 614.3h0M214.6 747.0h0M214.0 648.5h0M214.5 755.7h0M212.7 785.3h0M212.5 757.2h0M214.2 725.9h0M213.8 610.8h0M215.2 734.8h0M214.1 611.4h0M212.8 761.4h0M215.5 781.7h0M213.1 666.8h0M213.2 625.7h0M214.7 682.8h0M214.2 791.0h0M213.8 794.4h0M212.5 732.6h0M212.5 682.7h0M215.0 622.9h0M213.4 619.2h0M214.1 705.2h0M212.8 601.6h0M213.8 736.6h0M214.0 614.6h0M215.7 673.1h0M213.0 605.3h0M214.2 610.9h0M214.9 795.9h0M214.2 618.7h0M215.6 670.1h0M214.4 743.0h0M213.9 648.9h0M213.7 705.3h0M212.7 713.1h0M215.6 683.2h0M214.1 678.7h0M215.1 752.7h0M213.7 749.1h0M213.1 744.0h0M212.5 724.2h0M213.0 635.5h0M214.8 668.8h0M215.3 599.6h0M215.5 614.4h0M214.4 793.5h0M215.5 770.9h0M215.2 688.8h0M215.0 602.6h0M214.9 730.7h0M212.7 626.5h0M214.4 704.6h0M213.0 738.9h0M215.6 713.9h0M215.1 648.1h0M214.6 796.0h0M213.8 687.3h0M212.9 693.0h0M213.4 610.9h0M215.3 631.5h0M215.3 670.9h0M215.3 712.9h0M214.7 782.6h0M213.2 689.0h0M213.5 713.1h0M212.6 768.3h0M213.5 728.3h0M214.2 683.0h0M215.6 800.5h0M215.5 669.9h0M214.1 794.9h0M213.1 713.0h0M214.0 760.2h0M215.4 754.5h0M214.7 725.5h0M212.9 709.9h0M212.7 691.2h0M215.6 633.0h0M212.9 674.7h0M212.6 686.2h0M213.2 722.1h0M214.5 640.7h0M212.5 788.6h0M214.3 744.7h0M213.8 697.0h0M213.6 597.6h0M213.5 704.6h0M213.5 802.9h0M215.0 771.9h0M214.0 761.3h0M215.2 699.6h0M213.2 619.8h0M214.0 598.0h0M215.5 690.0h0M213.8 789.7h0M212.8 698.9h0M214.1 752.6h0M215.3 630.3h0M213.1 604.2h0M215.6 695.0h0M213.3 624.3h0M213.5 760.5h0M212.5 789.4h0M213.4 645.0h0M212.8 772.5h0M215.3 736.1h0M215.0 798.8h0M214.0 605.9h0M212.8 640.9h0M214.8 646.1h0M212.9 715.4h0M212.7 655.0h0M217.2 788.8h0M217.9 694.0h0M215.4 799.6h0M215.4 648.4h0M216.7 726.5h0M217.3 703.6h0M215.8 705.9h0M217.8 735.0h0M216.3 605.7h0M217.2 624.4h0M217.5 685.4h0M217.9 735.2h0M216.7 716.4h0M217.4 798.8h0M215.1 665.9h0M215.0 787.8h0M217.8 788.2h0M217.8 733.5h0M217.2 722.1h0M215.5 719.8h0M217.2 611.7h0M215.2 689.6h0M215.6 712.1h0M217.6 650.1h0M217.2 724.4h0M216.2 765.9h0M216.2 689.6h0M217.3 670.0h0M215.7 780.0h0M215.5 743.9h0M217.0 596.9h0M215.8 757.5h0M217.1 803.1h0M217.2 662.3h0M215.2 771.5h0M216.2 785.8h0M216.0 652.6h0M216.5 705.7h0M215.0 656.8h0M217.1 727.1h0M216.1 740.5h0M214.8 774.5h0M214.8 622.3h0M216.5 711.1h0M216.5 642.8h0M214.9 596.0h0M217.6 796.3h0M216.9 609.8h0M216.5 701.4h0M216.8 770.9h0M217.0 791.8h0M215.2 786.5h0M215.8 767.1h0M217.3 787.6h0M217.2 797.2h0M216.5 676.9h0M215.0 758.8h0M216.6 707.9h0M215.9 745.3h0M217.1 721.9h0M217.0 675.0h0M216.0 784.0h0M216.3 705.2h0M215.6 770.5h0M216.0 655.1h0M215.3 731.6h0M216.4 799.7h0M216.1 747.9h0M216.0 601.0h0M215.1 714.7h0M216.7 800.0h0M214.9 691.2h0M215.9 646.8h0M215.3 731.0h0M215.7 696.6h0M217.0 713.3h0M217.2 703.5h0M215.1 725.4h0M216.3 732.5h0M217.8 753.9h0M217.5 668.7h0M216.9 643.3h0M217.4 596.4h0M216.2 688.5h0M216.0 699.2h0M217.0 643.3h0M215.0 726.3h0M217.8 651.8h0M215.7 654.4h0M216.0 716.0h0M217.9 793.2h0M215.5 622.3h0M216.2 631.0h0M216.9 654.6h0M215.0 780.3h0M215.1 600.8h0M215.2 660.0h0M215.9 685.5h0M217.9 747.2h0M216.1 799.5h0M215.2 729.6h0M217.6 722.8h0M215.2 780.2h0M217.7 630.0h0M217.2 741.0h0M216.8 609.3h0M217.1 600.1h0M215.8 761.3h0M217.1 595.9h0M216.8 803.8h0M215.8 671.7h0M217.9 764.9h0M215.5 671.5h0M216.2 803.4h0M215.8 687.7h0M217.9 746.7h0M217.5 693.3h0M216.1 678.9h0M217.9 762.9h0M217.0 753.0h0M217.7 768.1h0M216.5 794.4h0M214.8 676.3h0M215.9 705.4h0M218.0 595.4h0M217.8 659.5h0M215.9 598.6h0M216.9 759.0h0M216.3 735.9h0M217.4 614.4h0M216.3 754.3h0M217.4 712.7h0M216.3 698.6h0M217.1 696.5h0M215.9 748.9h0M216.0 757.5h0M216.0 736.0h0M217.8 783.1h0M216.0 757.7h0M216.2 668.7h0M214.9 721.6h0M217.8 709.2h0M217.6 608.7h0M218.0 714.8h0M217.1 746.3h0M216.1 752.6h0M217.5 619.9h0M217.1 778.5h0M216.4 640.7h0M216.0 702.8h0M216.2 697.5h0M216.8 800.1h0M217.7 799.2h0M217.3 632.3h0M216.7 674.9h0M217.2 712.9h0M217.0 658.1h0M217.3 672.5h0M216.8 698.4h0M215.7 803.5h0M217.7 596.3h0M219.2 704.9h0M220.0 768.8h0M220.3 675.9h0M219.4 676.9h0M218.3 769.1h0M218.3 683.0h0M218.4 666.8h0M217.3 772.4h0M219.6 801.9h0M219.2 712.2h0M219.6 657.9h0M218.3 777.9h0M217.8 699.6h0M219.8 647.7h0M218.5 729.4h0M217.7 729.0h0M218.3 596.1h0M217.7 715.4h0M218.2 708.5h0M219.5 650.1h0M219.5 670.7h0M218.3 751.9h0M219.8 601.9h0M219.0 710.5h0M218.9 738.5h0M217.1 784.8h0M219.1 797.6h0M220.0 680.4h0M219.0 782.3h0M219.1 597.3h0M219.0 681.4h0M217.5 768.7h0M218.1 771.7h0M217.2 647.8h0M218.0 617.6h0M220.1 705.8h0M218.0 631.2h0M219.2 673.2h0M219.3 669.2h0M217.3 626.7h0M219.4 716.4h0M217.3 623.2h0M217.3 735.0h0M219.3 788.7h0M218.4 628.8h0M217.4 606.9h0M219.9 668.8h0M219.5 785.3h0M219.0 728.4h0M219.2 702.0h0M218.4 699.0h0M218.1 770.1h0M219.3 680.1h0M218.2 796.7h0M218.4 685.8h0M218.3 639.2h0M217.7 760.2h0M218.0 695.0h0M219.6 716.1h0M218.7 619.4h0M219.2 634.5h0M217.8 736.9h0M218.1 643.5h0M220.0 663.9h0M219.6 777.9h0M218.6 677.6h0M218.6 637.3h0M217.4 793.9h0M217.7 677.7h0M218.1 771.8h0M217.3 697.1h0M218.8 739.5h0M219.4 762.6h0M218.0 750.7h0M219.0 647.7h0M220.1 605.6h0M218.7 745.8h0M217.4 670.8h0M219.6 711.1h0M217.4 619.8h0M218.6 738.5h0M218.4 760.6h0M219.9 800.5h0M218.8 662.4h0M218.6 717.9h0M219.4 766.1h0M217.9 766.3h0M218.9 700.7h0M217.2 717.2h0M218.5 765.0h0M219.9 628.5h0M219.5 711.5h0M219.1 749.8h0M217.3 786.2h0M217.6 664.9h0M217.8 728.2h0M217.6 601.2h0M218.8 631.7h0M218.6 690.4h0M218.8 597.8h0M217.4 648.2h0M217.6 607.1h0M217.6 679.0h0M217.6 692.1h0M219.9 748.8h0M217.3 662.9h0M217.4 796.9h0M219.5 731.1h0M220.0 696.2h0M219.4 626.1h0M220.0 784.8h0M218.5 772.7h0M219.8 702.2h0M217.9 674.6h0M217.8 601.8h0M220.1 624.6h0M218.2 659.9h0M219.3 798.9h0M217.5 685.9h0M218.0 671.6h0M218.5 793.4h0M218.0 798.5h0M220.0 605.2h0M219.6 611.0h0M218.0 719.7h0M218.5 769.5h0M218.9 800.7h0M220.1 792.4h0M219.3 673.9h0M219.2 747.4h0M219.3 600.1h0M217.7 754.4h0M217.3 615.2h0M217.5 709.0h0M218.4 772.4h0M219.5 803.2h0M217.7 684.8h0M219.1 684.4h0M220.0 775.2h0M217.2 663.1h0M219.3 734.1h0M219.7 730.5h0M219.1 764.9h0M217.5 766.9h0M219.2 792.9h0M217.7 615.0h0M218.1 729.3h0M218.0 791.1h0M218.7 696.8h0M218.1 791.7h0M219.4 781.6h0M220.1 714.2h0M219.5 779.9h0M217.3 709.3h0M219.2 641.4h0M219.2 619.7h0M218.4 667.8h0M219.8 767.2h0M218.5 751.5h0M220.3 707.3h0M219.1 788.7h0M216.4 595.3h0M228.4 636.2h0M225.8 630.1h0M226.1 742.0h0M227.7 759.2h0M228.4 651.9h0M227.6 803.9h0M228.0 800.9h0M228.1 708.1h0M227.7 792.9h0M226.7 637.0h0M226.6 750.2h0M226.9 652.2h0M227.0 647.5h0M227.8 639.8h0M228.5 660.6h0M227.5 641.3h0M226.1 739.2h0M227.2 736.2h0M226.1 734.1h0M228.1 708.8h0M226.3 734.5h0M228.3 682.7h0M227.0 631.5h0M226.8 715.4h0M225.8 622.3h0M226.9 775.4h0M226.9 675.0h0M225.7 631.3h0M227.9 773.0h0M226.5 657.7h0M226.5 635.8h0M227.9 716.8h0M228.2 714.1h0M227.3 803.9h0M225.9 629.7h0M225.9 744.5h0M225.6 785.8h0M228.7 631.9h0M227.2 696.0h0M225.8 730.5h0M226.7 683.0h0M228.0 756.4h0M226.0 748.5h0M228.4 706.0h0M226.6 653.6h0M228.7 734.1h0M227.7 626.4h0M227.2 705.9h0M225.8 775.1h0M226.5 730.9h0M227.8 759.6h0M226.0 697.6h0M227.7 761.3h0M227.9 724.6h0M226.3 794.9h0M228.1 747.6h0M228.4 670.3h0M228.5 679.0h0M228.6 728.0h0M228.0 783.1h0M226.9 689.4h0M228.0 728.9h0M228.3 697.7h0M227.1 661.3h0M226.0 648.2h0M225.6 674.8h0M227.5 725.7h0M228.0 694.0h0M227.7 721.3h0M226.5 637.3h0M226.0 625.6h0M225.9 776.8h0M226.7 730.5h0M228.3 744.5h0M228.6 773.1h0M226.7 798.0h0M227.9 802.0h0M226.5 672.5h0M228.2 717.3h0M228.3 639.9h0M227.4 744.1h0M226.7 696.0h0M227.8 695.8h0M227.8 702.5h0M225.7 781.6h0M228.5 625.2h0M228.1 657.1h0M226.2 695.6h0M226.8 624.0h0M225.6 731.2h0M226.4 623.9h0M227.9 782.5h0M226.8 668.6h0M227.7 697.8h0M226.6 673.8h0M226.2 713.7h0M227.9 700.1h0M225.6 713.8h0M227.3 685.4h0M226.7 664.0h0M226.6 723.8h0M228.3 655.1h0M228.4 633.7h0M227.2 639.1h0M226.8 721.2h0M228.3 735.9h0M225.7 680.0h0M228.3 658.2h0M227.9 731.0h0M226.5 692.8h0M227.3 747.7h0M226.0 788.4h0M227.7 684.4h0M227.0 787.2h0M225.8 765.4h0M226.5 738.5h0M226.4 748.3h0M226.3 655.9h0M227.7 753.8h0M226.8 788.3h0M228.1 633.7h0M227.8 668.5h0M226.9 711.0h0M226.2 627.4h0M226.9 758.2h0M228.1 782.6h0M228.6 719.2h0M226.8 622.2h0M225.6 719.1h0M225.9 780.7h0M226.3 727.6h0M227.0 691.4h0M226.0 674.6h0M227.5 743.5h0M228.6 636.5h0M226.2 641.2h0M226.6 673.1h0M228.4 711.2h0M227.3 640.2h0M226.3 735.6h0M226.9 686.6h0M229.4 783.6h0M227.1 709.3h0M229.5 687.0h0M228.2 701.0h0M227.1 738.3h0M229.1 740.0h0M228.3 642.3h0M227.8 777.9h0M228.0 718.5h0M228.2 722.6h0M229.9 684.6h0M230.1 748.1h0M228.4 682.8h0M229.7 688.5h0M229.1 688.8h0M228.7 654.0h0M229.9 671.0h0M230.0 688.6h0M228.0 725.2h0M229.9 722.3h0M229.6 748.3h0M228.9 725.1h0M229.6 647.3h0M229.0 738.6h0M229.4 677.2h0M228.0 717.9h0M229.4 802.7h0M229.6 745.6h0M228.2 748.8h0M229.8 796.0h0M228.3 744.2h0M227.1 713.1h0M229.6 784.0h0M228.4 730.2h0M227.0 768.4h0M227.7 694.8h0M228.1 732.7h0M229.8 732.5h0M227.3 696.7h0M229.6 624.2h0M228.3 707.2h0M227.3 627.2h0M229.8 621.9h0M228.0 630.4h0M228.8 708.1h0M229.0 662.3h0M230.1 738.4h0M227.9 638.9h0M227.9 640.5h0M227.0 660.7h0M227.8 769.0h0M229.5 757.6h0M227.0 767.0h0M229.7 728.8h0M228.9 737.1h0M229.6 699.4h0M228.1 719.1h0M228.4 712.2h0M229.1 655.9h0M229.0 774.0h0M228.2 623.7h0M227.3 761.6h0M229.1 714.0h0M228.0 719.2h0M229.2 624.9h0M228.9 652.1h0M229.2 717.4h0M230.0 642.2h0M229.7 758.2h0M229.2 655.4h0M229.2 690.8h0M228.2 749.1h0M228.3 794.6h0M229.2 707.0h0M229.8 649.4h0M229.8 682.4h0M227.3 648.2h0M227.7 729.5h0M227.6 702.0h0M229.3 753.9h0M227.4 746.9h0M228.8 630.4h0M229.2 636.6h0M229.9 721.6h0M229.0 771.0h0M228.6 772.7h0M227.1 674.8h0M229.1 750.1h0M228.6 737.1h0M229.9 704.8h0M227.4 690.4h0M229.4 795.3h0M230.1 785.3h0M227.4 701.4h0M228.5 711.7h0M229.4 692.5h0M230.0 667.4h0M227.8 660.5h0M227.7 773.1h0M227.8 754.0h0M228.4 696.4h0M229.6 666.7h0M229.9 793.4h0M227.0 650.8h0M229.3 702.1h0M230.0 721.6h0M229.1 801.9h0M228.2 669.4h0M228.2 633.7h0M227.9 758.8h0M228.7 655.5h0M229.0 785.2h0M228.3 641.8h0M229.5 663.6h0M228.3 698.1h0M227.9 781.9h0M230.1 703.6h0M228.7 677.7h0M228.0 740.1h0M228.3 736.5h0M228.7 773.4h0M228.8 754.3h0M228.2 748.9h0M228.1 648.7h0M227.0 681.1h0M228.6 762.1h0M229.2 709.4h0M227.3 633.9h0M227.1 752.6h0M228.6 780.3h0M229.7 798.2h0M228.0 696.2h0M229.4 700.9h0M229.2 706.0h0M229.3 802.6h0M229.3 715.5h0M228.8 711.9h0M229.9 698.5h0M228.7 801.8h0M227.3 723.7h0M229.9 724.9h0M227.8 621.8h0M237.6 711.9h0M237.4 712.0h0M237.1 712.4h0M235.3 719.5h0M238.1 720.4h0M237.4 711.9h0M238.8 716.3h0M236.6 710.9h0M237.2 752.5h0M237.6 759.5h0M236.3 772.7h0M235.6 767.1h0M237.2 767.9h0M237.3 752.7h0M238.3 748.7h0M238.1 765.4h0M235.8 770.3h0M237.1 772.9h0M237.4 758.5h0M238.6 774.0h0M239.5 751.9h0M237.8 780.1h0M239.6 780.8h0M237.0 757.1h0M238.0 753.0h0M237.2 748.9h0M236.5 772.9h0M237.7 768.0h0M237.2 772.0h0M237.1 762.5h0M244.0 628.2h0M242.2 635.0h0M242.4 646.0h0M241.7 638.4h0M244.1 635.9h0M243.9 643.9h0M243.3 645.6h0M242.9 628.9h0M244.3 640.5h0M244.8 635.0h0M244.5 632.2h0M243.0 636.0h0M241.9 683.6h0M243.7 684.8h0M242.7 667.7h0M241.7 656.9h0M242.5 679.9h0M242.4 673.6h0M241.8 659.7h0M242.7 683.0h0M244.1 654.4h0M242.0 654.5h0M243.1 654.6h0M241.4 683.7h0M243.5 690.6h0M242.6 686.2h0M241.6 667.7h0M244.1 659.6h0M244.1 660.6h0M244.2 686.3h0M242.6 653.8h0M242.3 686.3h0M242.6 658.7h0M244.3 672.3h0M243.3 657.2h0M243.1 676.9h0M245.3 684.1h0M242.9 666.9h0M243.5 674.0h0M244.8 652.2h0M243.4 673.5h0M244.8 658.8h0M243.6 690.2h0M243.2 674.7h0M244.4 669.1h0M244.5 661.6h0M242.7 672.7h0M243.8 652.8h0M244.3 654.2h0M244.5 675.1h0M244.5 688.8h0M242.9 683.4h0M244.2 772.4h0M243.9 747.2h0M242.7 743.5h0M242.8 708.5h0M243.8 758.1h0M242.9 774.3h0M242.5 778.9h0M242.6 695.8h0M243.7 742.6h0M241.3 715.1h0M241.9 758.9h0M243.1 770.5h0M242.9 706.3h0M242.0 763.4h0M241.4 779.8h0M243.2 707.4h0M243.2 754.8h0M241.9 776.9h0M243.0 698.3h0M242.5 725.6h0M244.1 729.6h0M243.5 719.7h0M242.2 745.0h0M242.1 775.9h0M243.1 721.1h0M244.7 757.0h0M242.9 726.9h0M243.6 747.5h0M244.6 743.5h0M242.7 694.3h0M245.3 767.6h0M243.2 702.0h0M245.2 732.4h0M245.6 721.8h0M245.4 702.3h0M244.4 699.2h0M244.8 781.3h0M243.6 776.1h0M245.4 779.8h0M245.0 718.7h0M243.2 776.4h0M245.0 729.2h0M245.5 745.6h0M244.0 733.0h0M243.4 709.1h0M243.4 772.6h0M245.1 774.5h0M243.5 745.3h0M256.1 754.3h0M256.3 771.6h0M258.2 800.7h0M256.0 803.4h0M256.5 802.9h0M258.0 791.3h0M257.3 800.5h0M255.5 789.6h0M264.9 654.5h0M265.9 654.8h0M264.8 658.3h0M265.3 674.3h0M264.1 649.4h0M264.2 665.0h0M266.6 665.2h0M268.5 662.7h0M267.3 664.7h0M269.7 673.2h0M269.5 672.5h0M267.7 677.0h0M265.4 746.5h0M264.6 777.2h0M265.5 706.4h0M267.3 746.6h0M264.1 720.3h0M266.9 726.8h0M265.8 689.9h0M266.8 753.6h0M266.0 719.2h0M267.2 798.2h0M265.2 749.2h0M266.4 760.0h0M266.3 763.8h0M266.4 726.4h0M264.8 722.3h0M265.9 690.4h0M265.0 699.3h0M265.3 715.4h0M267.2 730.5h0M265.8 744.3h0M265.8 728.4h0M265.8 780.7h0M265.2 742.6h0M264.8 701.2h0M265.0 689.1h0M265.4 683.0h0M264.5 750.2h0M265.5 773.3h0M265.5 756.6h0M266.3 778.2h0M265.8 693.1h0M266.5 711.3h0M264.8 724.7h0M267.2 682.1h0M264.9 692.9h0M264.3 795.4h0M265.5 729.7h0M266.6 763.8h0M265.1 801.0h0M264.8 688.5h0M265.0 678.5h0M267.0 756.2h0M264.9 690.4h0M266.0 790.2h0M264.3 728.3h0M264.8 684.9h0M264.3 755.7h0M266.7 741.3h0M265.0 678.1h0M266.0 730.1h0M266.3 770.8h0M265.2 732.7h0M265.6 757.0h0M265.8 795.2h0M266.2 751.8h0M268.1 738.8h0M268.5 761.7h0M267.5 804.0h0M269.7 740.3h0M268.3 780.7h0M267.1 716.3h0M267.9 730.4h0M267.4 732.5h0M268.4 738.5h0M268.7 690.7h0M267.2 767.5h0M266.7 709.3h0M268.7 737.4h0M268.5 729.9h0M266.7 754.3h0M268.2 684.6h0M268.8 794.7h0M267.4 734.1h0M268.6 694.5h0M267.8 774.4h0M267.5 688.6h0M269.0 767.2h0M269.4 728.4h0M266.6 727.1h0M269.4 703.7h0M266.8 767.0h0M267.8 714.0h0M266.6 738.6h0M268.3 794.3h0M266.7 711.2h0M269.6 750.0h0M269.3 768.6h0M268.7 788.2h0M267.6 685.0h0M267.9 751.3h0M266.8 705.3h0M268.7 787.2h0M268.1 715.6h0M267.0 788.1h0M267.3 757.3h0M269.1 792.2h0M267.8 797.6h0M267.6 742.0h0M269.6 722.2h0M269.7 800.4h0M268.1 792.6h0M269.5 761.3h0M269.5 732.3h0M267.5 778.6h0M268.8 723.3h0M267.4 698.6h0M266.9 702.3h0M269.8 792.6h0M268.2 781.5h0M268.8 772.1h0M270.7 634.0h0M269.8 631.1h0M270.1 633.1h0M269.8 636.0h0M271.8 632.1h0M270.9 649.3h0M271.1 675.8h0M278.5 692.1h0M277.8 714.5h0M279.2 762.4h0M277.3 788.4h0M278.4 762.0h0M277.3 723.6h0M278.7 783.1h0M278.4 759.1h0M277.6 765.7h0M278.9 729.6h0M277.9 785.6h0M279.2 785.4h0M279.1 779.0h0M276.7 801.4h0M278.0 799.5h0M278.9 786.1h0M278.4 730.7h0M278.9 729.9h0M277.7 750.3h0M279.1 744.9h0M277.5 774.9h0M277.1 783.1h0M278.5 788.0h0M278.5 785.1h0M278.8 803.0h0M278.4 760.5h0M277.5 768.9h0M279.1 747.6h0M279.6 789.3h0M278.2 778.6h0M278.8 754.9h0M279.6 775.6h0M277.8 783.6h0M276.7 745.4h0M277.9 786.3h0M276.7 754.8h0M279.4 763.0h0M278.9 745.3h0M303.0 757.5h0M301.7 726.0h0M302.7 741.2h0M302.5 797.8h0M303.8 679.2h0M302.0 731.5h0M301.4 736.4h0M303.7 647.1h0M303.4 700.3h0M302.4 652.1h0M303.4 656.5h0M302.1 726.2h0M301.6 685.0h0M303.1 651.3h0M301.2 671.0h0M302.3 685.3h0M302.1 801.9h0M304.0 688.6h0M302.3 750.2h0M301.6 687.6h0M302.4 640.1h0M301.2 734.6h0M301.4 702.8h0M302.0 727.1h0M303.4 739.5h0M302.1 688.9h0M301.6 625.8h0M303.5 730.9h0M304.0 637.4h0M302.0 787.6h0M303.0 715.0h0M302.1 674.3h0M302.4 750.3h0M302.7 695.2h0M302.4 633.1h0M301.4 667.6h0M303.1 712.1h0M302.5 712.4h0M302.2 740.3h0M301.6 800.6h0M302.7 612.2h0M302.1 745.2h0M302.0 687.8h0M303.4 657.6h0M301.8 777.7h0M302.3 719.9h0M303.2 636.0h0M304.0 713.5h0M303.8 786.7h0M301.2 661.3h0M301.2 767.4h0M301.4 743.6h0M301.1 747.1h0M303.7 627.5h0M302.3 710.4h0M303.4 798.8h0M303.1 654.3h0M302.4 685.2h0M301.6 671.2h0M301.8 669.2h0M303.7 647.1h0M302.7 683.9h0M303.0 767.6h0M303.9 640.9h0M303.6 791.0h0M303.5 674.4h0M301.0 734.8h0M303.1 683.7h0M303.9 716.0h0M303.6 763.6h0M302.0 800.4h0M300.9 786.3h0M301.2 765.2h0M302.3 707.3h0M302.9 624.5h0M301.6 763.1h0M303.3 658.0h0M300.9 712.9h0M303.9 669.9h0M301.8 664.0h0M303.7 697.9h0M302.1 767.3h0M301.0 739.5h0M302.1 623.1h0M301.3 733.3h0M303.6 618.9h0M301.1 646.6h0M301.1 627.2h0M302.7 665.9h0M301.8 737.7h0M301.9 710.3h0M301.2 722.8h0M300.9 731.4h0M301.5 789.2h0M301.5 717.9h0M301.7 696.6h0M303.4 734.7h0M304.0 774.1h0M302.6 698.7h0M301.8 678.6h0M304.0 708.9h0M303.3 621.3h0M302.8 673.1h0M303.2 662.0h0M301.9 706.6h0M300.9 697.3h0M303.8 629.6h0M302.2 626.5h0M301.0 740.2h0M301.5 790.8h0M302.3 796.9h0M302.8 724.1h0M302.5 627.8h0M303.4 755.7h0M303.1 752.8h0M302.2 635.4h0M301.0 709.2h0M301.2 758.9h0M301.7 719.8h0M303.9 642.1h0M303.2 730.7h0M302.7 728.0h0M301.1 779.5h0M301.6 683.9h0M302.1 726.1h0M301.6 788.8h0M303.8 662.7h0M302.3 750.2h0M303.2 682.9h0M303.2 639.3h0M303.5 654.5h0M303.8 624.9h0M301.0 777.4h0M303.8 641.5h0M301.8 769.2h0M302.7 765.6h0M303.1 658.4h0M301.3 690.9h0M303.2 775.4h0M302.2 657.8h0M302.1 742.8h0M302.6 660.4h0M301.2 794.6h0M302.4 659.3h0M304.1 801.2h0M302.9 612.2h0M301.5 637.3h0M302.5 636.8h0M304.0 802.9h0M303.8 681.7h0M302.6 744.0h0M303.2 785.0h0M302.8 800.0h0M304.0 784.8h0M302.9 710.3h0M304.8 705.1h0M305.5 718.3h0M305.2 714.0h0M304.7 636.4h0M305.2 726.7h0M303.8 675.6h0M303.2 767.9h0M305.0 682.5h0M303.9 736.1h0M304.8 613.6h0M303.1 690.9h0M302.8 685.3h0M304.9 773.4h0M304.5 797.6h0M303.7 641.8h0M302.3 803.3h0M302.8 676.8h0M303.2 643.6h0M302.6 730.4h0M303.7 778.5h0M302.7 644.1h0M303.5 712.2h0M302.7 707.6h0M304.0 679.3h0M303.9 626.9h0M304.2 773.3h0M304.4 635.6h0M302.8 626.6h0M304.0 612.4h0M303.2 645.0h0M305.2 633.9h0M304.5 638.7h0M303.8 766.7h0M303.4 723.4h0M304.5 769.1h0M304.6 625.6h0M303.9 637.8h0M303.9 646.1h0M304.7 737.4h0M302.5 673.6h0M305.3 697.8h0M304.3 717.4h0M304.4 758.8h0M305.4 794.3h0M304.9 753.6h0M303.2 638.0h0M304.2 748.2h0M304.8 777.5h0M302.9 674.7h0M302.7 737.9h0M303.2 706.4h0M304.4 688.2h0M304.3 733.2h0M305.2 622.3h0M305.2 747.0h0M304.4 729.2h0M304.7 782.6h0M302.5 733.4h0M304.6 615.2h0M303.6 774.6h0M303.7 651.3h0M304.8 773.5h0M303.0 635.8h0M304.7 650.8h0M305.2 659.1h0M303.0 690.3h0M302.8 691.0h0M302.4 780.8h0M303.5 691.2h0M303.0 618.0h0M305.1 802.1h0M305.1 692.0h0M305.1 786.4h0M304.1 751.2h0M304.6 709.6h0M305.4 727.0h0M305.2 645.5h0M303.8 756.8h0M303.3 774.8h0M304.2 686.3h0M303.1 798.4h0M304.4 774.6h0M303.3 788.7h0M305.2 739.0h0M304.6 781.7h0M304.4 773.2h0M303.0 717.6h0M305.5 710.9h0M302.5 793.7h0M303.1 669.4h0M302.9 773.6h0M303.0 758.8h0M305.4 676.4h0M304.2 634.8h0M304.8 663.8h0M304.5 623.6h0M305.4 660.4h0M304.5 674.3h0M305.3 616.1h0M305.3 733.2h0M302.5 754.6h0M303.6 754.6h0M305.2 649.4h0M303.5 739.1h0M304.4 624.5h0M303.1 622.1h0M302.9 619.9h0M303.2 755.3h0M303.2 801.5h0M304.7 765.3h0M304.3 735.2h0M305.0 637.7h0M304.0 789.2h0M302.6 646.8h0M305.4 660.1h0M303.2 672.0h0M302.4 712.3h0M304.8 763.4h0M302.4 670.1h0M304.9 784.8h0M303.0 758.5h0M304.4 795.3h0M305.5 616.7h0M302.9 745.8h0M304.2 783.0h0M302.4 733.8h0M304.9 651.9h0M303.0 613.2h0M304.2 624.0h0M304.8 637.2h0M304.8 698.0h0M305.4 787.4h0M303.5 647.7h0M303.4 764.3h0M303.4 792.2h0M303.2 731.9h0M303.2 750.6h0M304.6 692.3h0M302.8 770.9h0M303.0 644.1h0M304.5 759.1h0M304.9 749.4h0M303.9 655.8h0M303.5 611.5h0M303.2 726.9h0M303.2 610.6h0M309.4 650.4h0M310.9 631.4h0M310.9 619.5h0M308.9 629.1h0M310.8 613.2h0M310.9 651.9h0M310.9 654.1h0M311.4 649.6h0M310.4 639.7h0M309.5 616.2h0M309.1 612.1h0M309.7 628.7h0M311.4 637.9h0M311.6 622.0h0M309.4 652.6h0M309.4 639.4h0M309.4 676.5h0M308.8 695.5h0M311.3 671.1h0M311.5 785.8h0M308.8 677.7h0M309.9 784.7h0M311.0 714.8h0M309.8 740.1h0M309.1 688.1h0M311.6 764.9h0M309.5 672.9h0M309.6 739.3h0M310.3 734.4h0M309.1 703.7h0M311.3 724.8h0M310.5 686.5h0M310.6 778.3h0M311.7 715.0h0M311.9 774.3h0M310.3 708.6h0M311.4 729.1h0M310.5 752.3h0M311.6 737.9h0M309.2 715.9h0M309.5 691.7h0M311.9 680.7h0M311.3 743.4h0M310.4 729.7h0M311.6 698.4h0M310.0 725.0h0M311.5 769.0h0M310.3 803.8h0M311.4 725.5h0M309.4 725.7h0M309.7 732.9h0M311.2 702.8h0M310.7 715.3h0M309.1 709.0h0M311.2 774.3h0M310.7 763.9h0M310.3 691.4h0M311.2 781.4h0M310.8 748.3h0M308.9 690.9h0M308.8 783.2h0M310.0 702.3h0M311.0 763.3h0M311.7 786.0h0M309.5 704.7h0M309.8 684.3h0M311.8 681.7h0M310.3 746.1h0M311.7 675.5h0M311.2 701.1h0M309.6 695.6h0M310.5 686.4h0M310.6 706.5h0M309.5 765.3h0M310.4 685.6h0M310.2 722.2h0M309.3 717.9h0M311.1 684.4h0M310.9 754.2h0M310.4 754.8h0M311.7 694.5h0M310.2 740.4h0M309.9 703.3h0M310.0 801.6h0M309.1 777.4h0M309.6 749.4h0M309.7 699.6h0M316.6 694.7h0M317.3 696.7h0M317.3 650.9h0M317.1 702.0h0M315.4 694.4h0M316.6 785.0h0M316.2 753.8h0M317.6 751.7h0M317.6 757.2h0M315.5 686.2h0M317.2 783.0h0M315.9 784.0h0M317.6 697.8h0M315.1 659.5h0M315.5 654.0h0M315.8 698.6h0M314.6 706.3h0M316.2 684.8h0M316.1 632.6h0M316.6 787.0h0M317.3 794.4h0M314.6 712.4h0M316.4 633.6h0M315.6 775.6h0M317.0 646.7h0M316.0 720.6h0M316.3 646.0h0M316.8 726.9h0M314.8 786.4h0M315.6 773.5h0M315.6 698.2h0M315.9 769.3h0M316.0 635.7h0M314.6 649.7h0M315.8 632.0h0M314.5 704.5h0M317.4 647.6h0M317.7 721.4h0M317.6 721.2h0M315.8 748.2h0M315.0 631.9h0M316.7 766.5h0M315.1 676.7h0M317.5 738.9h0M317.7 667.8h0M315.2 719.7h0M316.8 655.9h0M315.2 791.1h0M315.0 666.0h0M315.3 660.6h0M315.3 698.5h0M315.3 743.0h0M315.9 671.1h0M314.7 653.5h0M314.5 639.2h0M314.7 745.1h0M317.4 709.8h0M315.5 734.2h0M315.9 695.7h0M314.7 681.0h0M315.0 651.2h0M315.6 660.5h0M316.5 641.4h0M316.2 659.0h0M316.1 748.5h0M317.0 757.2h0M315.2 704.0h0M316.8 630.5h0M315.5 689.5h0M315.1 638.0h0M316.0 784.5h0M317.2 776.5h0M315.3 667.8h0M315.3 783.6h0M317.5 731.3h0M315.9 707.3h0M317.3 796.5h0M316.8 790.9h0M316.1 663.4h0M318.9 626.7h0M318.8 721.3h0M316.7 796.5h0M316.9 798.8h0M316.9 655.3h0M319.0 803.4h0M317.5 686.7h0M318.6 772.2h0M317.1 785.6h0M317.6 664.9h0M318.0 792.2h0M316.6 781.0h0M318.9 714.8h0M318.5 726.3h0M317.4 769.3h0M318.2 747.8h0M317.7 702.5h0M318.8 769.7h0M317.2 801.8h0M317.8 745.4h0M316.8 777.3h0M316.8 707.5h0M318.3 768.5h0M316.3 624.0h0M317.9 648.5h0M317.1 763.4h0M317.9 637.2h0M317.4 734.2h0M317.1 671.9h0M318.6 664.9h0M318.3 692.0h0M316.7 722.4h0M318.1 673.5h0M318.9 779.4h0M316.8 650.7h0M316.6 640.8h0M318.3 692.9h0M317.9 789.0h0M317.2 649.2h0M316.9 648.8h0M317.6 727.0h0M316.9 654.0h0M318.0 785.3h0M317.0 731.9h0M318.4 677.0h0M318.1 625.5h0M318.0 796.2h0M316.1 631.5h0M316.6 765.2h0M318.1 699.3h0M316.9 745.2h0M318.9 746.6h0M317.3 707.7h0M318.8 747.2h0M319.0 747.4h0M319.1 764.6h0M318.1 668.2h0M316.4 660.8h0M319.0 684.7h0M317.0 676.2h0M319.1 790.9h0M317.1 760.2h0M316.2 772.1h0M316.2 624.6h0M316.8 683.5h0M317.4 778.6h0M317.6 777.2h0M317.1 690.3h0M317.4 631.4h0M319.1 795.3h0M316.3 791.8h0M318.7 703.0h0M316.2 650.7h0M316.3 660.1h0M318.3 757.1h0M316.2 802.1h0M318.5 750.3h0M328.8 627.5h0M331.0 648.8h0M329.1 624.6h0M329.1 640.2h0M329.0 634.4h0M330.1 625.2h0M331.2 637.2h0M329.6 622.9h0M330.3 624.7h0M329.6 627.2h0M330.6 648.5h0M330.4 640.5h0M330.7 628.1h0M330.7 655.4h0M331.2 676.3h0M329.2 689.2h0M331.2 705.1h0M329.1 680.2h0M329.2 697.2h0M331.7 697.5h0M329.9 673.0h0M329.0 682.0h0M331.5 701.7h0M330.3 695.6h0M331.3 707.3h0M329.6 721.0h0M331.4 680.7h0M331.3 702.5h0M331.0 679.2h0M328.9 677.7h0M329.7 677.9h0M330.6 756.5h0M329.9 799.1h0M329.8 769.8h0M329.4 753.9h0M329.3 723.1h0M331.1 781.6h0M329.9 778.6h0M329.1 756.2h0M331.7 742.4h0M329.8 770.6h0M330.1 766.3h0M329.8 746.6h0M331.4 757.7h0M329.4 795.3h0M329.2 759.8h0M328.9 800.3h0M328.5 761.9h0M330.0 760.2h0M329.0 723.8h0M330.0 763.4h0M328.7 747.4h0M329.6 749.1h0M330.4 731.1h0M330.2 740.6h0M328.6 780.5h0M330.5 763.2h0M330.7 795.6h0M330.6 791.0h0M331.1 740.9h0M330.1 784.3h0M328.7 798.1h0M329.7 796.7h0M331.1 766.9h0M330.1 736.3h0M328.6 723.9h0M329.2 800.6h0M328.9 757.5h0M330.1 798.7h0M329.4 792.4h0M329.3 760.4h0M354.2 775.2h0M353.8 773.5h0M355.0 745.5h0M352.5 714.5h0M355.1 783.5h0M352.7 802.6h0M353.4 812.8h0M354.0 773.2h0M354.8 778.2h0M353.0 808.1h0M353.0 807.4h0M352.5 785.2h0M352.9 780.3h0M354.1 818.3h0M355.0 753.7h0M354.3 724.8h0M352.0 781.5h0M352.3 761.4h0M352.3 818.8h0M353.7 780.1h0M354.9 725.8h0M353.9 773.5h0M352.4 740.5h0M352.1 747.1h0M353.5 733.9h0M354.4 754.0h0M352.6 727.6h0M354.1 768.1h0M352.6 745.9h0M389.5 641.0h0M390.9 688.4h0M389.4 662.5h0M389.0 756.7h0M391.5 624.9h0M389.4 788.2h0M389.8 670.5h0M390.9 656.9h0M390.6 782.8h0M391.0 692.2h0M388.9 792.3h0M388.9 742.3h0M390.9 801.6h0M390.7 694.1h0M388.5 672.4h0M388.6 713.5h0M391.1 702.9h0M389.2 725.3h0M390.1 657.3h0M391.2 712.7h0M389.8 649.7h0M389.5 701.2h0M389.6 652.4h0M389.0 718.9h0M390.0 677.5h0M389.9 793.0h0M388.4 682.3h0M389.4 714.3h0M389.9 639.3h0M389.5 732.6h0M390.4 754.8h0M388.5 629.4h0M390.3 715.7h0M389.1 721.6h0M390.6 681.9h0M390.0 691.7h0M390.4 660.3h0M388.3 707.1h0M390.9 758.4h0M391.4 801.8h0M389.8 748.7h0M390.6 667.3h0M389.4 695.8h0M390.3 639.5h0M390.8 750.2h0M389.0 646.2h0M388.8 736.5h0M391.3 783.0h0M389.2 735.4h0M390.8 722.6h0M390.4 682.0h0M391.2 729.8h0M390.5 762.4h0M391.2 719.3h0M390.5 730.1h0M388.7 675.6h0M389.1 721.7h0M389.0 798.5h0M389.4 784.7h0M390.2 653.5h0M391.5 677.8h0M388.7 732.9h0M388.7 675.5h0M390.0 709.7h0M390.5 676.6h0M391.0 700.7h0M389.2 744.3h0M388.4 772.5h0M388.4 661.6h0M390.1 795.1h0M391.5 774.6h0M391.2 634.8h0M390.6 621.6h0M389.6 765.6h0M390.8 783.7h0M389.2 710.5h0M388.6 647.4h0M390.0 718.7h0M390.0 652.7h0M389.3 632.5h0M388.8 742.5h0M388.8 715.2h0M389.0 782.2h0M391.3 791.4h0M389.2 797.6h0M388.6 744.8h0M390.6 799.0h0M388.8 624.6h0M389.5 637.4h0M390.9 792.5h0M390.9 678.5h0M390.1 619.7h0M388.6 690.3h0M390.4 789.2h0M390.4 803.4h0M388.7 733.5h0M391.2 706.5h0M390.4 721.9h0M389.5 703.4h0M389.0 619.9h0M388.6 652.4h0M390.8 627.8h0M390.6 803.3h0M389.0 772.6h0M389.6 776.1h0M389.1 777.1h0M390.0 673.5h0M389.2 659.4h0M390.9 753.2h0M390.4 801.0h0M389.8 683.1h0M390.2 726.9h0M390.2 788.8h0M389.9 797.0h0M388.4 700.9h0M389.9 678.1h0M389.7 619.9h0M389.2 639.3h0M391.3 782.6h0M390.2 639.0h0M388.5 708.4h0M390.0 673.2h0M390.2 697.0h0M390.3 630.0h0M388.9 731.7h0M391.3 723.4h0M390.3 783.9h0M390.7 714.8h0M390.6 702.3h0M390.1 687.2h0M390.2 754.5h0M389.6 730.1h0M390.4 683.0h0M389.7 700.9h0M389.3 688.3h0M391.1 734.4h0M390.4 654.1h0M390.4 716.8h0M389.6 741.4h0M389.5 619.7h0M390.4 714.9h0M390.4 790.5h0M389.5 739.5h0M388.8 765.8h0M392.2 782.8h0M392.9 702.3h0M393.9 718.9h0M390.9 640.2h0M391.4 728.6h0M393.9 660.1h0M391.6 716.4h0M391.4 685.7h0M391.1 664.7h0M393.0 799.8h0M391.0 684.8h0M393.5 799.6h0M393.5 635.4h0M393.8 720.5h0M392.1 699.8h0M392.5 619.3h0M393.5 662.2h0M393.5 659.4h0M393.3 679.9h0M393.7 750.9h0M391.8 724.9h0M391.4 666.7h0M391.6 636.9h0M393.3 676.8h0M392.3 619.0h0M391.2 712.4h0M391.3 747.0h0M391.2 756.3h0M391.7 781.5h0M391.2 635.3h0M391.1 655.8h0M393.8 676.3h0M391.9 687.6h0M390.9 758.1h0M393.5 634.0h0M391.2 678.7h0M393.0 652.0h0M391.9 800.0h0M392.1 750.4h0M391.7 655.7h0M391.5 681.0h0M391.0 765.7h0M393.0 689.8h0M393.8 623.9h0M392.8 732.4h0M391.3 653.6h0M393.8 775.0h0M393.3 620.5h0M390.9 655.0h0M391.0 729.0h0M393.4 774.5h0M391.1 671.1h0M393.1 713.4h0M392.9 624.8h0M391.9 640.7h0M390.9 648.5h0M391.6 717.4h0M393.6 787.6h0M392.3 753.1h0M391.7 738.3h0M392.4 705.2h0M392.1 696.2h0M393.8 776.6h0M393.4 754.9h0M390.9 674.6h0M392.3 659.2h0M393.0 760.3h0M393.2 788.3h0M390.8 673.4h0M391.7 707.6h0M393.6 779.9h0M393.1 718.1h0M392.3 753.3h0M393.7 700.1h0M392.5 766.4h0M391.1 801.7h0M392.4 761.2h0M391.1 677.7h0M393.4 726.1h0M393.5 650.5h0M391.3 801.7h0M392.2 720.7h0M391.1 680.3h0M393.7 667.6h0M393.7 774.4h0M392.3 710.7h0M392.0 629.2h0M393.8 726.2h0M392.8 629.7h0M393.8 626.4h0M392.9 655.4h0M391.3 736.0h0M392.0 703.8h0M391.9 651.0h0M392.9 629.5h0M392.4 798.8h0M392.3 692.2h0M393.0 644.6h0M391.0 746.6h0M391.1 688.2h0M390.7 748.4h0M390.9 780.0h0M391.3 773.5h0M392.9 716.3h0M393.5 792.8h0M393.0 646.1h0M391.2 697.9h0M393.7 703.9h0M392.9 621.3h0M393.5 718.8h0M391.5 706.3h0M391.0 776.4h0M391.6 746.1h0M391.2 627.7h0M391.2 776.2h0M391.1 789.0h0M390.8 790.8h0M392.4 740.6h0M393.6 729.0h0M393.8 660.0h0M393.3 724.0h0M393.9 664.4h0M392.2 752.1h0M393.5 658.2h0M393.8 722.2h0M393.1 782.5h0M391.2 752.3h0M393.0 772.5h0M390.9 635.9h0M391.4 636.6h0M393.1 760.2h0M391.8 747.3h0M391.2 792.6h0M392.1 660.2h0M393.0 666.3h0M393.0 773.3h0M392.5 678.0h0M392.4 676.4h0M391.2 716.7h0M393.3 775.3h0M391.0 762.7h0M393.1 661.3h0M392.6 768.3h0M392.0 791.7h0M394.5 660.0h0M394.2 673.9h0M394.0 763.6h0M394.9 750.6h0M394.6 621.7h0M395.1 779.4h0M395.0 776.4h0M393.1 803.2h0M393.6 697.0h0M393.9 758.8h0M395.1 741.7h0M395.0 620.9h0M393.8 679.1h0M395.0 738.1h0M395.3 657.6h0M393.2 631.7h0M396.0 783.2h0M396.2 794.3h0M394.8 755.9h0M394.7 716.5h0M396.1 793.6h0M393.6 699.0h0M394.4 718.0h0M395.9 768.6h0M393.3 733.3h0M393.4 717.4h0M395.6 717.8h0M394.5 743.2h0M396.0 647.2h0M394.6 780.2h0M395.2 627.5h0M394.3 692.5h0M393.9 688.3h0M395.1 643.9h0M394.4 714.4h0M394.6 757.6h0M393.9 647.9h0M395.1 721.9h0M395.4 735.9h0M395.5 684.4h0M393.8 726.4h0M395.0 641.1h0M396.0 775.7h0M395.6 770.0h0M393.8 727.7h0M395.8 673.0h0M394.5 668.7h0M393.1 720.1h0M393.6 638.5h0M395.5 766.2h0M393.5 634.0h0M393.5 801.7h0M394.9 766.9h0M395.4 780.3h0M395.5 635.8h0M393.1 751.1h0M393.9 793.4h0M394.7 704.3h0M394.8 721.3h0M395.7 630.0h0M393.3 715.3h0M393.6 711.4h0M395.3 698.2h0M393.5 758.3h0M396.1 671.3h0M393.6 734.9h0M393.8 731.4h0M395.1 631.5h0M393.4 638.6h0M396.1 744.2h0M395.4 630.5h0M393.2 644.3h0M393.1 620.8h0M395.9 754.0h0M393.5 620.1h0M394.3 626.5h0M393.6 677.8h0M393.3 769.8h0M393.5 735.6h0M393.4 739.6h0M396.2 654.4h0M394.4 667.4h0M396.2 740.9h0M393.4 720.1h0M395.2 742.4h0M394.2 726.7h0M393.2 770.6h0M394.7 719.6h0M395.5 788.9h0M394.2 662.4h0M394.2 728.9h0M396.2 629.4h0M393.4 702.4h0M393.0 646.2h0M393.4 787.6h0M396.0 722.8h0M394.9 760.9h0M395.2 670.8h0M393.7 768.2h0M394.3 660.3h0M395.8 729.3h0M393.9 727.9h0M393.5 753.0h0M393.0 637.7h0M394.8 725.2h0M394.8 704.3h0M393.7 652.7h0M394.3 726.8h0M395.9 710.8h0M395.4 704.9h0M394.6 629.0h0M393.6 627.7h0M394.2 652.9h0M396.0 647.4h0M394.0 673.7h0M394.2 631.0h0M394.7 763.9h0M395.0 784.4h0M394.4 737.8h0M394.4 773.5h0M393.7 643.7h0M393.2 766.4h0M395.0 651.3h0M394.5 745.0h0M394.3 739.4h0M393.1 727.7h0M396.1 694.6h0M394.1 725.0h0M396.1 733.9h0M394.3 704.5h0M395.7 770.9h0M395.1 659.9h0M394.1 673.4h0M394.2 767.4h0M394.6 788.2h0M393.4 779.4h0M393.1 693.1h0M395.8 777.7h0M394.5 708.3h0M394.2 798.7h0M393.4 674.8h0M395.6 789.1h0M395.3 716.0h0M395.1 773.6h0M392.3 617.7h0M381.8 718.4h0M381.3 774.4h0M381.8 741.8h0M380.5 724.4h0M382.9 760.3h0M381.9 718.8h0M379.9 747.4h0M380.7 722.3h0M380.2 761.2h0M381.7 737.8h0M382.9 765.8h0M380.4 771.9h0M381.7 751.5h0M381.7 751.0h0M380.5 738.5h0M382.5 759.4h0M381.9 760.5h0M380.6 780.7h0M382.4 752.6h0M379.8 758.3h0M383.8 747.9h0M382.5 725.3h0M382.7 782.5h0M383.1 750.3h0M382.7 772.8h0M383.5 776.4h0M383.2 739.9h0M381.4 732.5h0M381.4 746.0h0M383.9 732.4h0M381.8 781.6h0M382.3 722.6h0M381.7 743.5h0M381.7 769.6h0M382.1 750.0h0M381.6 757.9h0M383.9 746.7h0M381.8 711.7h0M383.9 715.7h0M382.0 759.6h0M404.0 691.1h0M402.7 704.4h0M403.1 711.2h0M401.3 703.1h0M404.2 704.5h0M403.6 713.3h0M404.6 702.9h0M405.5 704.7h0M405.1 713.5h0M403.6 786.0h0M402.4 790.5h0M401.2 781.5h0M402.6 779.3h0M403.7 802.9h0M403.4 759.6h0M403.1 770.4h0M401.9 723.3h0M403.4 743.7h0M403.2 797.4h0M403.2 784.5h0M402.0 734.6h0M403.6 770.1h0M403.4 756.8h0M402.2 749.9h0M402.5 736.4h0M401.5 769.9h0M401.2 798.5h0M402.3 782.3h0M402.1 799.1h0M403.4 724.8h0M403.8 753.5h0M402.6 777.0h0M403.3 776.5h0M401.8 749.5h0M403.0 775.9h0M401.7 726.5h0M401.4 757.8h0M402.4 765.4h0M403.6 746.8h0M401.4 782.8h0M404.3 771.3h0M404.3 772.1h0M403.3 741.6h0M403.4 749.3h0M403.4 735.7h0M405.2 763.5h0M402.7 785.6h0M404.6 785.2h0M402.6 744.4h0M403.0 792.8h0M403.6 743.4h0M405.6 787.6h0M405.3 797.3h0M404.1 791.6h0M403.4 727.2h0M403.0 734.1h0M403.6 733.6h0M403.6 726.8h0M403.4 792.4h0M405.3 764.1h0M404.9 723.9h0M402.7 766.9h0M405.2 795.3h0M405.7 730.9h0M404.6 769.7h0M402.7 740.0h0M404.9 780.2h0M402.7 737.4h0M403.6 769.5h0M405.4 750.8h0M403.0 768.8h0M404.9 779.6h0M405.7 769.0h0M404.7 761.5h0M403.6 727.2h0M398.3 694.1h0M397.3 702.7h0M397.1 710.1h0M398.8 692.2h0M398.0 682.9h0M399.3 714.9h0M397.5 697.2h0M399.7 712.5h0M398.3 685.2h0M399.2 704.2h0M399.6 690.2h0M399.5 706.7h0M399.1 720.5h0M399.1 709.2h0M399.4 693.0h0M400.1 714.9h0M401.1 693.3h0M401.3 703.0h0M400.5 708.5h0M401.4 696.0h0M400.4 701.5h0M399.9 698.3h0M399.4 689.1h0M400.6 698.8h0M398.8 688.4h0M399.7 708.1h0M397.0 794.6h0M399.6 758.7h0M398.1 784.2h0M398.2 764.7h0M397.2 723.1h0M399.7 741.3h0M397.9 738.3h0M399.2 768.1h0M397.9 775.5h0M397.0 750.5h0M398.2 787.4h0M397.6 746.4h0M397.4 762.9h0M397.3 749.2h0M398.6 738.2h0M397.3 749.4h0M397.1 793.7h0M397.9 756.3h0M397.9 727.4h0M399.1 758.6h0M398.2 743.8h0M399.0 796.1h0M397.6 759.0h0M399.9 786.7h0M399.7 742.2h0M398.5 753.1h0M397.7 724.8h0M397.6 742.3h0M400.0 790.0h0M399.5 748.7h0M398.8 747.2h0M399.9 738.5h0M398.8 764.7h0M399.9 787.4h0M400.5 762.6h0M400.0 761.3h0M398.7 747.0h0M401.3 740.9h0M398.3 770.8h0M400.1 737.9h0M401.4 764.3h0M398.4 796.3h0M401.3 788.4h0M401.2 783.5h0M400.2 753.7h0M400.7 778.5h0M400.8 781.1h0M400.7 750.2h0M401.3 771.3h0M400.2 749.1h0M400.6 792.8h0M398.7 779.5h0M399.2 735.3h0M398.3 775.8h0M398.6 776.4h0M399.1 738.4h0M400.5 767.4h0M398.9 799.8h0M400.9 729.6h0M401.1 770.7h0M398.6 781.0h0M398.9 752.2h0M399.1 759.4h0M401.1 792.9h0M401.4 738.1h0M399.4 801.1h0M404.7 691.1h0M405.0 713.9h0M404.7 706.7h0M403.8 711.7h0M403.0 708.1h0M405.2 704.2h0M414.2 730.8h0M414.2 752.2h0M413.8 752.3h0M415.0 746.0h0M413.5 747.7h0M414.4 768.5h0M426.9 675.1h0M425.5 682.7h0M426.0 673.0h0M425.0 661.3h0M427.1 679.2h0M424.7 679.1h0M426.6 692.9h0M425.2 664.8h0M426.5 657.7h0M426.7 664.6h0M426.5 683.5h0M424.8 677.7h0M426.0 657.8h0M425.7 656.9h0M424.5 685.6h0M425.8 672.9h0M424.7 710.0h0M424.6 733.4h0M424.8 710.0h0M426.9 750.0h0M425.9 708.0h0M424.2 723.2h0M426.1 715.1h0M427.1 703.3h0M425.2 716.8h0M424.5 750.6h0M425.6 708.9h0M425.1 718.2h0M427.1 732.0h0M424.2 723.4h0M426.8 721.3h0M424.3 724.3h0M424.8 715.0h0M425.1 720.1h0M426.4 736.5h0M424.5 704.6h0M426.9 744.2h0M424.6 742.5h0M424.3 798.7h0M424.8 797.5h0M426.8 808.3h0M426.4 783.9h0M426.9 815.2h0M426.0 795.7h0M426.3 776.7h0M425.5 762.5h0M424.4 758.8h0M425.4 797.1h0M427.1 766.9h0M425.8 772.3h0M424.7 785.4h0M426.5 818.4h0M425.0 811.8h0M427.0 813.0h0M424.6 815.0h0M424.3 763.5h0M426.3 759.1h0M425.6 756.6h0M426.4 776.5h0M426.4 756.3h0M425.0 816.1h0M426.4 779.7h0M426.8 773.3h0M424.8 818.6h0M424.5 784.1h0M425.3 789.8h0M426.4 817.0h0M426.7 818.3h0M425.3 807.4h0M424.4 796.9h0M427.0 776.1h0M424.6 817.5h0M431.9 682.7h0M432.5 687.6h0M433.4 673.7h0M433.1 681.0h0M433.7 691.5h0M432.5 683.5h0M431.3 693.5h0M433.2 665.3h0M433.0 690.4h0M431.2 694.5h0M432.6 697.6h0M432.4 700.1h0M430.8 697.1h0M432.4 670.0h0M431.8 689.4h0M433.4 710.7h0M433.4 710.6h0M432.8 729.4h0M431.3 771.4h0M431.4 740.6h0M431.5 764.4h0M431.5 765.7h0M432.8 716.3h0M433.6 732.8h0M431.4 749.5h0M433.5 786.0h0M432.9 745.4h0M433.8 740.9h0M430.7 737.3h0M432.3 702.7h0M431.5 775.1h0M431.9 750.6h0M431.2 744.6h0M432.7 765.8h0M433.4 705.4h0M432.1 732.5h0M432.7 727.7h0M432.4 749.6h0M432.2 749.8h0M433.7 712.4h0M431.6 751.9h0M431.5 801.0h0M431.9 794.5h0M432.4 715.9h0M431.2 735.0h0M433.6 817.7h0M433.2 757.3h0M431.6 780.4h0M432.4 717.4h0M433.0 724.5h0M431.3 771.6h0M433.7 792.8h0M433.7 758.2h0M430.6 754.7h0M431.7 756.2h0M432.3 809.2h0M431.1 814.3h0M430.6 747.0h0M432.9 708.3h0M431.3 706.1h0M433.5 752.9h0M430.6 729.8h0M432.8 784.0h0M433.6 718.4h0M433.6 803.2h0M432.3 798.3h0M431.0 784.0h0M431.7 777.3h0M431.6 741.4h0M433.2 711.7h0M430.6 791.4h0M430.7 762.1h0M441.2 719.9h0M441.7 810.3h0M441.5 715.2h0M440.7 798.0h0M441.4 667.3h0M441.9 763.7h0M441.7 788.8h0M442.1 628.8h0M441.1 620.1h0M442.5 715.1h0M441.2 647.9h0M442.1 714.8h0M442.8 706.1h0M440.7 632.0h0M443.2 615.5h0M441.2 754.2h0M441.6 673.3h0M442.0 802.1h0M440.9 756.7h0M441.4 610.4h0M442.1 740.9h0M443.3 791.1h0M443.9 745.9h0M443.5 810.2h0M441.9 620.8h0M442.6 633.0h0M441.0 711.2h0M442.1 618.7h0M442.0 737.3h0M442.7 704.0h0M442.9 753.2h0M441.2 691.7h0M440.8 790.6h0M441.3 646.1h0M442.7 730.6h0M442.3 623.1h0M442.9 726.4h0M443.0 617.5h0M441.9 660.2h0M443.4 628.5h0M443.3 735.8h0M441.0 713.3h0M440.9 688.7h0M443.2 622.9h0M441.9 601.4h0M443.1 610.5h0M440.8 816.8h0M443.8 680.5h0M441.7 656.0h0M443.6 816.1h0M442.8 685.4h0M441.8 774.1h0M441.9 601.9h0M443.7 752.0h0M442.0 697.4h0M442.6 684.2h0M443.6 606.2h0M440.8 808.9h0M441.7 602.7h0M443.1 633.1h0M442.4 790.6h0M441.4 806.7h0M441.9 644.0h0M441.3 699.5h0M443.1 801.7h0M441.4 664.1h0M441.9 663.1h0M443.1 743.7h0M440.9 808.0h0M441.9 643.9h0M442.1 808.4h0M443.3 757.8h0M441.9 701.6h0M442.7 770.2h0M441.5 817.3h0M442.2 808.7h0M442.7 790.3h0M443.4 724.0h0M441.6 618.9h0M443.3 707.4h0M443.2 641.9h0M441.8 620.6h0M442.9 702.2h0M443.4 715.1h0M441.9 752.0h0M441.9 714.7h0M441.6 791.1h0M441.4 640.7h0M443.3 655.9h0M441.4 750.7h0M443.5 692.7h0M441.4 810.4h0M440.8 806.6h0M441.7 818.6h0M440.8 808.9h0M443.6 751.1h0M442.5 779.7h0M441.4 635.3h0M443.4 806.5h0M441.8 649.5h0M441.6 734.7h0M443.4 647.8h0M442.7 625.6h0M442.2 689.6h0M443.0 790.9h0M440.7 769.8h0M443.2 777.6h0M441.4 601.5h0M443.4 760.3h0M443.5 718.7h0M441.5 620.5h0M443.2 779.8h0M442.5 649.9h0M443.0 696.7h0M441.7 688.0h0M442.9 767.1h0M442.9 680.1h0M442.3 658.4h0M441.8 642.2h0M440.9 692.4h0M441.8 669.2h0M442.3 672.5h0M443.4 797.0h0M441.1 665.7h0M443.5 620.5h0M443.0 766.6h0M441.9 798.8h0M441.0 638.6h0M443.1 688.3h0M442.1 619.9h0M441.3 619.1h0M442.7 721.8h0M441.7 806.4h0M440.9 651.9h0M440.8 642.2h0M441.0 601.7h0M442.1 718.1h0M442.2 798.6h0M441.1 620.3h0M443.8 753.7h0M441.4 764.4h0M442.1 676.5h0M441.6 695.6h0M440.7 635.0h0M443.8 792.8h0M441.9 814.1h0M441.3 750.9h0M440.7 625.9h0M443.2 673.8h0M441.4 716.1h0M442.4 706.1h0M442.1 643.9h0M442.1 803.4h0M443.0 816.7h0M443.6 629.4h0M442.1 752.0h0M442.8 642.5h0M442.1 642.8h0M442.0 634.3h0M442.6 811.7h0M442.6 712.9h0M442.6 743.8h0M441.3 663.4h0M443.6 733.3h0M442.2 791.0h0M442.5 665.6h0M442.3 611.6h0M443.8 771.8h0M442.8 621.2h0M444.1 705.7h0M442.5 811.0h0M443.7 629.4h0M442.2 773.9h0M444.4 684.1h0M442.7 692.8h0M444.6 616.9h0M443.8 712.3h0M444.6 750.0h0M443.3 688.8h0M442.4 801.3h0M443.6 770.3h0M442.9 717.3h0M443.1 806.4h0M442.3 671.1h0M444.8 795.3h0M442.6 612.4h0M442.2 664.1h0M444.8 709.6h0M443.7 758.0h0M443.1 814.3h0M443.0 670.5h0M443.6 732.5h0M443.7 628.5h0M444.9 811.5h0M444.9 737.0h0M443.7 707.2h0M442.8 752.8h0M443.7 730.4h0M443.7 666.2h0M444.2 640.1h0M443.5 626.3h0M443.8 613.5h0M444.8 622.5h0M444.7 605.3h0M445.2 666.4h0M442.6 672.9h0M442.9 747.0h0M443.6 778.2h0M444.0 659.6h0M443.0 649.9h0M442.9 619.2h0M442.6 649.0h0M443.6 691.9h0M443.9 730.7h0M444.1 749.8h0M444.9 703.8h0M443.0 632.2h0M445.0 604.0h0M443.4 792.8h0M443.9 784.7h0M445.0 803.8h0M443.0 673.5h0M445.2 691.8h0M443.3 703.2h0M443.3 606.6h0M443.5 802.6h0M445.0 774.3h0M444.5 805.2h0M443.1 709.4h0M444.7 805.9h0M442.3 763.0h0M444.3 742.4h0M443.2 630.7h0M442.9 700.3h0M442.6 624.7h0M442.2 700.8h0M443.5 773.9h0M442.9 662.0h0M444.0 670.2h0M443.5 756.9h0M444.0 756.9h0M444.4 777.8h0M442.2 767.8h0M442.5 677.8h0M442.6 781.9h0M443.2 802.3h0M444.3 634.5h0M443.3 641.7h0M444.1 696.8h0M444.2 714.0h0M445.2 773.7h0M443.5 736.4h0M443.2 709.3h0M443.9 782.7h0M444.7 752.9h0M445.0 752.8h0M444.3 700.1h0M443.7 793.9h0M443.0 779.9h0M444.8 636.0h0M445.2 721.3h0M442.9 731.6h0M445.0 627.8h0M442.6 656.4h0M444.4 716.2h0M442.3 726.2h0M444.3 771.4h0M445.1 672.1h0M444.6 709.0h0M443.1 621.2h0M444.3 765.8h0M444.3 754.0h0M444.9 607.4h0M442.9 610.5h0M443.7 667.2h0M443.5 622.2h0M443.2 631.8h0M442.5 676.3h0M442.2 776.0h0M445.0 645.1h0M445.1 689.5h0M443.8 668.3h0M443.4 716.0h0M443.4 816.6h0M443.7 774.7h0M444.8 677.3h0M442.2 802.3h0M444.5 731.6h0M443.4 711.7h0M442.6 757.8h0M442.8 704.7h0M444.6 789.4h0M444.6 687.6h0M444.2 719.4h0M444.6 653.4h0M445.3 742.5h0M443.4 658.4h0M442.9 770.9h0M444.8 767.8h0M444.4 637.5h0M443.0 664.6h0M444.6 678.0h0M443.3 740.2h0M444.7 749.8h0M444.9 644.1h0M444.2 714.7h0M442.8 788.5h0M444.4 703.1h0M443.4 604.9h0M443.6 719.2h0M444.8 711.1h0M444.4 626.2h0M442.4 662.8h0M442.5 701.9h0M442.7 701.2h0M442.6 698.1h0M442.8 818.0h0M444.1 697.9h0M442.5 748.0h0M443.3 785.8h0M443.5 619.4h0M443.3 736.7h0M443.1 759.7h0M445.1 778.8h0M442.3 779.0h0M443.8 692.7h0M442.7 684.7h0M442.5 729.3h0M443.5 637.8h0M443.3 818.2h0M444.3 811.4h0M445.0 742.0h0M444.5 728.1h0M444.7 704.1h0M442.1 791.7h0M442.2 804.6h0M443.0 601.4h0M437.5 659.0h0M438.7 661.1h0M440.0 649.8h0M440.2 651.8h0M439.1 654.3h0M439.7 655.4h0M439.0 653.8h0M438.4 651.5h0M776.3 702.5h0M776.1 723.7h0M775.7 725.0h0M778.3 723.4h0M776.8 722.9h0M775.5 741.2h0M777.6 741.9h0M778.3 741.1h0M776.8 739.2h0M776.8 754.5h0M775.2 768.0h0M776.7 765.4h0M777.9 789.9h0M775.4 764.4h0M776.4 765.7h0M777.7 810.2h0M777.1 762.9h0M775.9 770.2h0M776.0 777.7h0M775.9 776.3h0M777.1 778.8h0M777.5 790.4h0M775.3 775.4h0M776.2 790.9h0M776.5 771.8h0M777.1 810.8h0M775.3 798.6h0M777.4 789.4h0M777.6 806.4h0M778.4 763.3h0M777.7 761.5h0M778.2 785.6h0M777.6 810.8h0M777.3 765.0h0M776.6 766.9h0M776.2 819.5h0M776.9 816.0h0M776.0 817.8h0M776.1 848.8h0M778.0 839.8h0M777.8 842.4h0M776.0 855.8h0M778.4 822.0h0M776.2 855.1h0M775.5 855.5h0M778.0 823.9h0M778.0 818.3h0M777.7 823.7h0M776.8 819.4h0M777.0 839.6h0M775.3 852.7h0M777.9 845.7h0M776.0 837.2h0M776.6 849.7h0M777.7 825.4h0M777.8 848.2h0M775.3 836.0h0M777.0 814.7h0M777.2 815.3h0M777.7 819.6h0M777.4 814.5h0M778.4 823.7h0M776.9 835.1h0M776.1 852.0h0M776.2 857.6h0M776.1 815.3h0M777.1 830.2h0M778.1 816.6h0M777.6 848.8h0M775.4 858.3h0M777.9 844.7h0M776.5 821.7h0M778.2 822.6h0M777.9 834.9h0M777.1 825.0h0M776.3 847.4h0M775.5 825.7h0M776.8 813.6h0M767.3 828.1h0M767.1 822.4h0M766.4 824.0h0M766.5 827.6h0M767.2 822.6h0M768.3 832.8h0M768.7 849.8h0M767.1 855.0h0M768.1 853.9h0M852.5 703.3h0M851.7 705.0h0M851.1 708.8h0M849.6 696.9h0M851.1 705.7h0M852.7 707.9h0M850.2 699.0h0M849.7 738.3h0M849.8 724.8h0M851.0 730.4h0M851.8 727.5h0M852.3 743.6h0M852.0 737.5h0M851.9 744.6h0M851.4 731.0h0M850.4 745.4h0M849.6 732.1h0M850.0 739.1h0M850.2 734.6h0M852.4 725.2h0M852.7 788.9h0M851.5 831.5h0M851.7 805.0h0M850.2 839.1h0M850.5 810.9h0M850.3 774.0h0M852.6 836.8h0M850.2 799.7h0M850.6 773.0h0M852.4 793.3h0M851.2 809.4h0M850.2 819.9h0M851.0 793.2h0M850.6 761.3h0M851.5 814.2h0M849.8 782.3h0M850.1 814.1h0M852.7 754.9h0M852.6 830.8h0M852.1 787.7h0M851.6 843.4h0M850.5 758.0h0M851.0 793.6h0M850.2 814.3h0M849.7 777.7h0M850.0 796.5h0M849.7 778.9h0M850.3 842.4h0M851.4 807.5h0M851.3 758.8h0M850.4 838.2h0M851.9 820.3h0M850.7 813.0h0M851.7 807.9h0M852.0 800.1h0M852.0 832.7h0M850.1 799.8h0M850.5 772.6h0M849.8 813.2h0M850.1 786.9h0M850.2 810.4h0M849.8 840.4h0M852.0 791.7h0M850.8 841.5h0M852.4 852.9h0M850.7 813.2h0M851.8 774.6h0M851.7 760.8h0M850.2 778.4h0M850.8 818.8h0M850.1 760.4h0M850.8 836.9h0M851.6 835.9h0M850.7 754.8h0M850.4 817.1h0M852.8 768.4h0M851.7 788.4h0M852.8 800.6h0M849.7 778.2h0M851.8 822.3h0M849.9 841.7h0M851.1 772.9h0M850.0 783.6h0M849.7 769.2h0M850.0 799.2h0M849.9 757.5h0M851.7 827.9h0M852.2 790.5h0M850.9 759.2h0M849.8 851.9h0M851.1 770.1h0M849.8 791.1h0M852.1 842.1h0M850.9 815.7h0M851.2 812.6h0M850.6 813.9h0M851.3 839.6h0M851.5 779.2h0M851.2 835.7h0M851.3 788.4h0M850.2 826.5h0M850.9 847.0h0M851.3 798.2h0M850.1 833.8h0M851.2 773.7h0M851.0 756.2h0M850.2 767.9h0M852.5 792.6h0M850.5 818.4h0M851.2 821.1h0M851.0 754.7h0M852.2 827.8h0M849.6 855.3h0M850.8 808.1h0M852.2 801.0h0M851.3 800.1h0M852.4 833.7h0M851.2 754.5h0M858.4 697.4h0M858.4 706.6h0M857.9 720.9h0M858.2 745.3h0M859.2 776.5h0M857.2 778.0h0M859.5 777.7h0M858.3 775.9h0M857.9 800.6h0M858.4 791.8h0M859.8 792.7h0M859.6 800.7h0M857.1 803.4h0M857.9 802.4h0M858.7 820.9h0M857.4 828.0h0M857.3 857.6h0M858.0 811.8h0M859.3 849.9h0M858.0 830.8h0M859.3 814.7h0M857.4 846.4h0M859.6 841.9h0M857.5 826.0h0M858.7 845.7h0M856.7 827.8h0M859.0 824.1h0M858.3 817.1h0M857.8 847.1h0M858.9 813.9h0M858.7 842.7h0M857.9 854.1h0M858.2 833.7h0M857.8 851.4h0M857.9 819.9h0M859.1 849.8h0M867.1 764.7h0M867.9 790.2h0M867.0 858.4h0M868.1 851.0h0M866.6 844.6h0M868.7 821.8h0M868.5 834.1h0M868.6 853.5h0M868.2 849.0h0M868.9 852.2h0M868.7 855.9h0M868.8 833.7h0M866.5 825.2h0M867.7 853.9h0M867.0 857.1h0M866.4 824.2h0M868.5 854.5h0M868.0 837.7h0M874.0 794.4h0M871.6 795.1h0M872.5 795.7h0M872.6 794.3h0M873.3 833.6h0M873.5 818.6h0M872.3 825.6h0M873.4 853.8h0M873.5 845.5h0M872.1 830.4h0M873.7 835.3h0M873.2 818.1h0M874.0 833.0h0M873.9 844.5h0M872.5 829.9h0M871.7 821.8h0M871.7 825.0h0M872.8 840.4h0M873.4 845.9h0M872.7 857.4h0M872.7 839.9h0M872.1 833.1h0M872.1 824.8h0M872.4 834.6h0M873.1 836.5h0M872.9 858.2h0M872.0 858.4h0M838.7 823.8h0M838.4 848.5h0M837.7 845.4h0M837.2 858.4h0M838.5 854.0h0M837.9 842.6h0M838.0 857.5h0M838.3 848.4h0M838.7 850.5h0M837.3 847.2h0M839.0 834.6h0M838.6 834.0h0M846.9 827.5h0M844.7 827.8h0M845.6 826.8h0M846.8 829.8h0M847.6 830.9h0M844.6 829.2h0M846.1 825.8h0M845.6 854.0h0M845.1 853.1h0M845.3 850.0h0M847.5 854.1h0M846.1 849.6h0M846.9 853.5h0M923.8 802.6h0M924.0 804.4h0M925.0 803.4h0M926.1 803.8h0M923.7 802.5h0M925.8 802.9h0M924.6 800.4h0M925.0 816.7h0M923.5 834.2h0M925.5 835.0h0M923.5 836.8h0M925.7 837.2h0M924.6 834.0h0M924.1 856.5h0M923.8 856.6h0M923.4 858.0h0M923.9 851.2h0M925.4 856.6h0M924.7 852.9h0M915.1 824.8h0M913.9 839.2h0M916.9 840.2h0M915.3 838.3h0M915.0 839.2h0M914.5 858.2h0M916.0 853.9h0M914.8 856.4h0M916.0 850.4h0M884.0 849.3h0M1413.8 774.5h0M1416.3 782.6h0M1416.6 728.6h0M1415.9 768.0h0M1414.0 692.9h0M1414.0 672.3h0M1416.0 752.9h0M1414.9 792.0h0M1416.5 707.9h0M1416.8 769.7h0M1416.8 656.8h0M1416.3 715.1h0M1415.4 685.5h0M1416.0 764.1h0M1414.0 755.8h0M1413.9 787.6h0M1415.5 773.8h0M1414.4 745.2h0M1416.1 769.3h0M1416.7 691.4h0M1416.5 715.5h0M1414.9 689.0h0M1413.8 686.1h0M1414.2 676.0h0M1415.3 730.1h0M1416.6 670.7h0M1415.4 747.1h0M1415.0 695.0h0M1415.1 786.9h0M1416.7 728.1h0M1416.4 713.1h0M1416.0 665.3h0M1414.6 672.9h0M1416.5 667.8h0M1416.3 784.4h0M1414.1 727.5h0M1416.6 730.6h0M1413.7 759.6h0M1416.7 798.0h0M1413.8 740.4h0M1415.7 758.5h0M1415.1 656.1h0M1413.9 658.0h0M1416.2 753.5h0M1414.2 702.4h0M1414.4 695.0h0M1414.6 735.8h0M1413.8 826.5h0M1415.7 806.6h0M1414.0 812.9h0M1414.6 811.1h0M1414.5 823.2h0M1415.9 818.5h0M1413.9 812.0h0M1414.1 815.5h0M1416.7 806.9h0M1416.8 805.0h0M1413.8 804.5h0M1416.4 800.7h0M1414.6 826.0h0M1414.8 809.9h0M1414.7 818.3h0M1415.8 813.5h0M1414.1 807.9h0M1415.8 818.9h0M1415.1 799.9h0M1415.6 824.6h0M1416.8 819.6h0M1415.0 805.8h0M1416.6 804.2h0M1416.5 817.0h0M1414.8 819.0h0M1414.6 820.6h0M1415.7 814.6h0M1415.3 799.8h0M1422.7 743.5h0M1423.6 741.3h0M1422.2 728.6h0M1422.2 718.4h0M1424.4 728.8h0M1423.3 704.1h0M1423.7 728.2h0M1424.6 763.8h0M1423.0 734.4h0M1424.0 671.2h0M1424.1 688.1h0M1424.6 731.0h0M1423.4 671.6h0M1423.0 699.8h0M1424.5 691.5h0M1423.6 711.3h0M1423.6 677.5h0M1422.3 729.1h0M1422.7 699.6h0M1422.1 721.0h0M1423.1 764.2h0M1422.0 758.4h0M1424.7 740.9h0M1423.1 709.7h0M1422.8 728.0h0M1424.8 690.3h0M1423.5 730.1h0M1424.4 711.7h0M1422.8 739.8h0M1423.2 697.0h0M1423.2 769.4h0M1424.0 773.1h0M1422.9 786.9h0M1422.7 779.6h0M1424.7 780.4h0M1423.6 794.6h0M1424.9 786.0h0M1422.4 803.7h0M1421.9 808.9h0M1424.2 828.7h0M1423.2 779.4h0M1424.3 823.3h0M1423.7 815.5h0M1423.9 778.3h0M1422.3 802.4h0M1423.5 769.5h0M1422.9 823.8h0M1422.2 806.2h0M1424.7 821.4h0M1424.2 784.9h0M1423.2 812.6h0M1422.0 821.5h0M1422.2 784.1h0M1424.2 818.1h0M1424.0 780.3h0M1423.7 798.2h0M1423.7 792.2h0M1422.9 801.3h0M1422.4 789.0h0M1424.5 805.7h0M1423.7 780.3h0M1422.4 790.5h0M1422.0 769.8h0M1422.3 812.9h0M1423.5 783.7h0M1423.7 778.3h0M1422.6 795.8h0M1423.9 808.7h0M1422.9 825.9h0M1423.9 814.9h0M1422.0 802.0h0M1423.2 785.3h0M1422.2 768.8h0M1422.2 817.9h0M1422.6 801.3h0M1423.1 799.1h0M1423.3 782.7h0M1424.9 783.4h0M1422.3 794.9h0M1422.4 812.8h0M1424.3 812.9h0M1423.5 824.2h0M1424.4 813.1h0M1423.8 817.4h0M1424.2 822.4h0M1423.0 790.0h0M1424.8 818.9h0M1424.8 789.7h0M1424.1 816.0h0M1423.5 765.9h0M1439.6 726.0h0M1440.9 718.5h0M1439.4 745.4h0M1441.3 696.1h0M1439.2 703.0h0M1438.9 756.0h0M1439.3 736.3h0M1440.5 807.1h0M1440.2 750.2h0M1441.4 676.2h0M1438.7 820.4h0M1441.2 761.3h0M1441.7 805.2h0M1441.5 814.2h0M1441.9 696.2h0M1440.7 826.7h0M1439.5 810.0h0M1439.0 740.6h0M1441.9 746.7h0M1440.1 783.2h0M1439.4 722.4h0M1439.6 740.3h0M1440.5 749.5h0M1440.6 736.5h0M1440.3 737.8h0M1441.4 749.0h0M1440.5 812.7h0M1439.6 791.4h0M1439.7 698.7h0M1441.1 695.0h0M1440.7 816.0h0M1439.1 707.4h0M1440.5 793.4h0M1441.9 696.0h0M1441.8 790.6h0M1441.2 826.5h0M1441.7 818.0h0M1439.8 698.2h0M1440.7 757.0h0M1439.5 696.9h0M1441.8 793.6h0M1441.7 747.4h0M1441.6 809.6h0M1439.9 702.8h0M1441.3 776.7h0M1439.1 802.9h0M1438.8 778.8h0M1438.8 721.7h0M1439.1 752.9h0M1440.0 776.0h0M1439.7 799.4h0M1439.1 827.6h0M1440.3 686.1h0M1441.4 751.6h0M1439.3 677.4h0M1440.1 711.5h0M1440.8 801.2h0M1439.9 710.2h0M1440.5 792.8h0M1439.8 690.1h0M1440.1 677.1h0M1439.6 709.4h0M1441.4 726.2h0M1439.0 686.3h0M1440.0 693.8h0M1441.7 741.1h0M1439.5 786.5h0M1440.4 693.8h0M1451.4 759.0h0M1451.9 751.4h0M1453.7 773.0h0M1453.3 685.2h0M1451.9 731.9h0M1453.6 723.7h0M1452.5 719.6h0M1450.8 721.1h0M1451.0 750.7h0M1450.7 766.5h0M1451.5 729.3h0M1452.7 742.4h0M1453.3 749.4h0M1451.1 776.4h0M1452.2 691.4h0M1452.0 769.7h0M1452.4 688.9h0M1450.9 701.0h0M1452.1 756.2h0M1451.0 760.1h0M1451.1 703.5h0M1452.1 760.5h0M1450.9 733.6h0M1451.9 715.0h0M1451.4 744.6h0M1451.7 776.0h0M1452.2 723.3h0M1450.9 704.1h0M1453.6 670.1h0M1452.7 775.5h0M1451.3 680.6h0M1450.8 701.5h0M1451.6 704.0h0M1453.4 702.2h0M1453.9 728.3h0M1450.9 700.1h0M1453.0 751.1h0M1451.9 757.3h0M1451.0 757.0h0M1452.9 746.6h0M1452.7 729.1h0M1452.1 717.7h0M1452.6 718.9h0M1451.8 760.5h0M1451.9 728.1h0M1452.9 684.9h0M1455.0 666.4h0M1452.7 671.2h0M1453.5 749.2h0M1453.7 699.2h0M1454.2 770.0h0M1455.2 706.1h0M1452.4 693.0h0M1454.7 748.0h0M1453.4 754.9h0M1452.8 742.1h0M1455.2 695.7h0M1455.2 761.1h0M1454.4 727.5h0M1453.4 706.3h0M1454.5 769.6h0M1452.6 771.0h0M1455.1 712.0h0M1454.8 769.6h0M1453.0 764.9h0M1452.5 745.7h0M1452.2 717.0h0M1452.8 714.2h0M1454.3 711.6h0M1455.0 741.4h0M1453.1 770.3h0M1453.5 703.1h0M1454.8 694.1h0M1454.3 754.6h0M1453.1 738.3h0M1454.6 696.8h0M1455.3 676.0h0M1452.8 681.9h0M1455.1 750.9h0M1455.2 683.2h0M1452.5 722.8h0M1452.9 726.9h0M1454.2 738.3h0M1455.1 759.3h0M1454.3 762.3h0M1454.9 747.4h0M1453.7 759.5h0M1455.2 771.1h0M1452.8 687.8h0M1453.9 734.5h0M1453.7 713.0h0M1453.5 689.0h0M1453.1 808.2h0M1451.0 814.0h0M1452.2 788.5h0M1451.6 817.4h0M1451.4 815.6h0M1453.4 793.3h0M1453.4 787.8h0M1450.8 806.0h0M1452.4 801.9h0M1451.9 784.2h0M1452.2 802.7h0M1451.9 825.0h0M1451.6 823.7h0M1451.2 816.0h0M1453.1 807.7h0M1450.9 820.2h0M1451.2 815.9h0M1451.7 827.3h0M1451.2 821.5h0M1452.4 828.4h0M1453.6 789.1h0M1453.0 818.3h0M1451.4 799.7h0M1453.4 810.4h0M1453.0 815.6h0M1452.2 781.0h0M1452.4 792.7h0M1452.6 812.0h0M1451.7 777.9h0M1452.0 792.4h0M1451.3 792.4h0M1452.3 789.2h0M1451.4 823.0h0M1452.8 827.1h0M1453.5 823.7h0M1453.6 816.4h0M1452.7 787.7h0M1451.2 796.3h0M1452.8 791.9h0M1451.0 784.6h0M1454.8 821.2h0M1452.8 779.4h0M1453.8 777.9h0M1452.6 828.2h0M1453.6 807.4h0M1454.0 815.1h0M1452.5 815.3h0M1454.7 827.9h0M1452.2 783.3h0M1454.6 819.4h0M1455.1 797.3h0M1453.8 810.2h0M1453.7 779.9h0M1453.5 797.2h0M1454.9 795.4h0M1452.5 796.7h0M1454.8 790.6h0M1453.3 804.3h0M1455.3 822.7h0M1452.6 799.1h0M1452.5 794.2h0M1454.4 822.6h0M1454.2 794.3h0M1455.3 821.2h0M1453.6 786.7h0M1453.6 810.9h0M1453.6 804.9h0M1454.0 798.8h0M1453.1 798.0h0M1454.6 799.1h0M1453.7 785.7h0M1455.1 789.7h0M1453.3 778.2h0M1454.4 827.2h0M1454.5 789.9h0M1452.4 803.5h0M1452.3 783.1h0M1453.5 792.4h0M1455.0 827.6h0M1454.3 806.0h0M1453.0 777.8h0M1461.3 816.7h0M1460.8 808.5h0M1459.4 803.5h0M1460.0 805.1h0M1460.6 806.1h0M1459.7 797.7h0M1461.3 816.2h0M1460.1 822.1h0M1458.8 816.8h0M1460.9 826.6h0M1459.1 822.3h0M1459.7 809.9h0M1461.2 823.9h0M1461.8 801.6h0M1397.2 826.1h0M1398.1 827.4h0M1396.9 828.9h0M1398.3 825.3h0M1411.8 826.2h0M1410.0 808.0h0M1409.6 820.0h0M1409.7 807.2h0M1412.6 808.9h0M1411.2 824.3h0M1411.5 818.1h0M1412.1 822.4h0M1412.5 827.9h0M1412.5 808.7h0M1409.8 805.9h0M1409.6 818.3h0M1412.6 825.2h0M1410.3 822.9h0M1409.6 814.5h0M837.1 874.6h0M835.7 892.7h0M836.4 904.6h0M835.7 897.6h0M840.2 850.8h0M839.2 867.0h0M840.4 857.7h0M839.8 871.9h0M840.1 854.4h0M839.3 857.1h0M840.0 886.0h0M844.3 866.2h0M843.0 844.4h0M843.6 878.0h0M842.8 874.9h0M844.3 855.4h0M844.2 858.3h0M843.6 886.4h0M846.1 836.2h0M847.7 825.5h0M846.3 841.2h0M847.2 847.0h0M857.8 818.3h0M855.9 792.7h0M856.0 808.1h0M856.0 812.1h0M860.6 799.1h0M861.0 809.1h0M861.2 806.5h0M860.5 815.1h0M859.8 826.3h0M862.7 802.4h0M863.3 834.9h0M863.7 791.5h0M863.3 820.9h0M864.3 795.2h0M867.7 811.3h0M867.1 813.0h0M867.0 844.6h0M867.9 840.6h0M867.6 828.5h0M866.4 791.6h0M871.2 829.9h0M870.8 808.3h0M870.0 844.7h0M870.6 790.8h0M870.2 810.5h0M869.6 848.1h0M874.7 866.3h0M872.9 833.1h0M873.1 858.8h0M874.5 864.1h0M874.5 808.3h0M872.9 806.0h0M874.6 867.5h0M873.9 817.8h0M874.6 808.3h0M876.9 856.3h0M878.3 871.5h0M877.8 885.7h0M880.9 894.5h0M881.2 892.2h0M881.6 859.5h0M881.2 865.1h0M883.7 865.7h0M885.1 851.5h0M884.0 854.9h0M885.1 873.6h0M884.5 874.8h0M888.0 889.0h0M887.3 898.3h0M891.3 904.6h0M890.5 903.5h0M894.8 892.2h0M894.1 892.0h0M893.5 876.0h0M897.3 868.3h0M896.8 893.7h0M898.2 889.4h0M897.1 894.0h0M901.8 894.6h0M900.6 892.9h0M900.9 883.6h0M903.8 905.2h0M908.2 903.5h0M907.2 882.3h0M907.9 875.8h0M910.9 874.5h0M911.3 895.8h0M911.5 880.1h0M911.5 888.7h0M911.0 843.4h0M912.3 889.1h0M914.0 831.3h0M914.1 850.1h0M914.0 828.2h0M918.1 842.1h0M917.6 859.0h0M917.5 842.0h0M917.6 852.8h0M921.1 848.5h0M921.2 845.9h0M920.5 860.2h0M925.4 845.1h0M923.9 835.2h0M925.7 843.7h0M924.3 857.4h0M116.9 773.6h0M116.8 769.7h0M116.2 770.3h0M117.2 761.3h0M116.8 762.3h0M118.0 752.0h0M121.7 778.0h0M121.6 783.7h0M122.7 783.5h0M120.6 768.3h0M122.0 781.8h0M123.6 781.6h0M124.1 787.5h0M124.1 787.8h0M124.4 785.8h0M126.0 777.0h0M128.8 741.1h0M129.1 763.2h0M129.7 735.9h0M129.2 758.1h0M129.5 705.3h0M129.7 776.6h0M129.3 766.6h0M129.9 734.8h0M131.2 780.6h0M131.0 777.3h0M130.2 703.3h0M128.8 727.7h0M130.8 773.6h0M129.1 735.0h0M129.0 769.8h0M130.5 725.1h0M130.3 764.4h0M129.5 752.8h0M136.0 758.7h0M136.1 759.4h0M136.5 758.5h0M137.5 765.2h0M136.4 774.6h0M135.3 771.2h0M139.9 769.3h0M139.3 774.4h0M145.1 762.6h0M144.5 739.4h0M145.1 739.3h0M145.3 743.2h0M143.9 763.8h0M145.3 752.7h0M143.3 749.7h0M145.6 752.4h0M144.8 771.1h0M144.7 764.7h0M144.2 725.8h0M144.5 770.8h0M143.4 702.5h0M143.9 763.6h0M145.3 751.7h0M144.8 744.4h0M144.7 768.2h0M144.2 727.2h0M146.8 717.7h0M148.3 778.0h0M147.4 689.4h0M146.7 788.9h0M146.1 748.1h0M147.1 740.6h0M147.2 775.5h0M148.2 650.0h0M146.7 677.5h0M147.1 772.4h0M146.4 654.0h0M148.1 786.2h0M147.2 789.1h0M147.4 643.0h0M146.7 789.1h0M147.6 691.8h0M147.1 785.5h0M146.3 739.2h0M146.7 782.2h0M148.4 751.4h0M148.2 761.2h0M147.1 788.8h0M146.0 780.5h0M147.7 765.8h0M146.6 718.3h0M147.7 696.2h0M147.7 668.6h0M147.9 785.2h0M148.2 649.3h0M146.2 709.4h0M147.2 668.3h0M148.3 696.0h0M145.9 774.5h0M148.2 653.2h0M147.1 785.5h0M151.3 812.4h0M152.8 809.9h0M151.0 793.1h0M152.7 777.2h0M152.8 798.0h0M152.1 808.3h0M150.9 769.2h0M152.5 786.8h0M151.0 777.4h0M150.6 802.2h0M154.9 785.6h0M155.8 749.0h0M154.6 714.8h0M155.6 775.8h0M155.7 733.3h0M155.9 785.5h0M155.2 737.2h0M155.5 780.4h0M155.6 796.4h0M155.6 773.4h0M154.6 757.0h0M155.0 781.8h0M154.3 793.5h0M154.2 751.7h0M155.0 717.8h0M154.1 781.5h0M154.7 784.8h0M154.5 793.5h0M156.1 711.9h0M156.1 718.7h0M156.2 744.5h0M159.5 755.8h0M158.2 755.4h0M159.6 765.0h0M159.2 763.9h0M158.5 759.1h0M163.1 768.1h0M162.6 755.9h0M161.6 763.6h0M162.6 754.6h0M166.0 761.6h0M166.6 649.5h0M168.3 711.2h0M167.2 756.7h0M168.1 767.1h0M167.0 650.4h0M166.3 664.2h0M168.0 661.4h0M166.0 676.5h0M167.6 745.1h0M167.2 656.2h0M167.1 684.6h0M166.6 703.1h0M168.1 755.9h0M166.7 708.0h0M166.8 745.4h0M166.3 713.8h0M166.8 724.2h0M166.8 733.5h0M168.2 767.9h0M167.8 744.5h0M166.9 632.6h0M167.6 738.6h0M167.3 633.0h0M166.2 691.9h0M167.1 743.3h0M166.9 690.8h0M168.1 675.0h0M167.2 750.9h0M166.7 764.5h0M168.0 703.9h0M168.0 756.7h0M168.0 689.4h0M167.2 766.8h0M167.9 761.1h0M170.5 762.3h0M170.8 757.1h0M173.9 763.9h0M173.2 763.4h0M174.0 767.4h0M180.2 771.7h0M178.8 757.6h0M179.2 761.9h0M179.5 750.9h0M180.3 723.7h0M180.3 757.4h0M178.4 741.9h0M180.6 720.2h0M179.6 738.1h0M180.8 711.7h0M178.4 743.2h0M178.8 748.6h0M179.8 752.5h0M178.4 768.5h0M180.0 750.3h0M180.4 748.0h0M180.8 701.9h0M181.8 757.4h0M180.8 756.5h0M181.1 772.7h0M180.4 781.5h0M182.2 767.8h0M180.6 782.0h0M183.4 785.6h0M183.4 786.2h0M184.9 769.8h0M184.1 781.3h0M184.2 776.2h0M191.0 762.1h0M188.5 771.2h0M190.9 771.9h0M190.3 739.0h0M190.3 751.5h0M189.8 756.8h0M190.5 735.8h0M190.1 702.4h0M188.8 716.5h0M190.8 773.1h0M189.6 779.6h0M189.8 770.7h0M190.8 766.6h0M190.6 778.2h0M189.5 700.6h0M190.0 718.8h0M189.8 771.8h0M189.2 777.1h0M188.9 779.3h0M189.7 709.3h0M195.3 762.4h0M193.3 768.3h0M194.1 765.6h0M193.1 761.7h0M195.0 755.0h0M193.6 757.1h0M197.2 732.9h0M196.4 725.1h0M196.5 762.5h0M196.5 732.0h0M197.4 748.1h0M197.5 736.1h0M198.6 763.7h0M196.5 753.1h0M197.4 749.3h0M196.2 771.0h0M198.0 752.3h0M197.8 760.1h0M198.0 765.0h0M200.4 768.2h0M202.4 768.2h0M201.5 752.5h0M202.0 765.9h0M201.7 775.9h0M200.7 749.0h0M201.7 775.6h0M201.4 759.6h0M206.0 768.1h0M207.5 759.9h0M206.6 716.1h0M207.3 773.8h0M205.8 655.6h0M205.2 757.3h0M205.8 679.6h0M207.4 768.3h0M206.3 707.3h0M207.7 762.0h0M207.1 751.8h0M206.2 712.6h0M206.3 656.2h0M205.8 760.5h0M206.4 776.2h0M207.1 664.0h0M206.0 751.3h0M207.3 686.4h0M205.8 755.1h0M207.3 760.1h0M206.9 735.5h0M207.3 706.9h0M205.2 726.9h0M205.8 709.2h0M206.7 677.6h0M207.0 705.3h0M207.3 678.2h0M207.3 666.4h0M207.1 760.9h0M207.1 750.8h0M209.1 773.2h0M207.8 707.6h0M208.3 751.6h0M207.1 730.2h0M206.9 700.5h0M208.7 772.6h0M208.5 760.8h0M208.1 742.9h0M209.0 746.4h0M208.8 755.4h0M209.2 740.2h0M207.6 772.9h0M206.9 775.3h0M208.0 744.3h0M207.3 769.5h0M209.2 768.6h0M207.9 742.7h0M208.0 742.0h0M214.8 752.8h0M215.4 754.9h0M215.9 683.9h0M215.7 699.2h0M216.6 669.8h0M216.1 759.1h0M216.5 665.8h0M215.4 720.7h0M215.1 761.2h0M214.5 761.1h0M215.7 691.4h0M216.2 740.5h0M216.7 745.0h0M214.9 752.2h0M216.8 753.0h0M214.9 676.0h0M214.5 669.2h0M215.6 702.3h0M215.9 752.6h0M215.7 752.8h0M215.5 695.9h0M216.7 673.4h0M214.9 755.8h0M215.3 763.9h0M215.1 761.8h0M220.1 742.5h0M219.4 752.2h0M221.4 763.5h0M220.2 763.2h0M219.8 760.5h0M219.8 761.0h0M219.8 736.8h0M225.5 760.5h0M225.4 757.3h0M223.3 760.3h0M227.0 695.0h0M226.6 750.7h0M226.4 707.6h0M224.7 756.2h0M225.3 749.4h0M225.5 733.7h0M225.4 744.2h0M225.3 761.3h0M225.3 719.7h0M226.9 694.3h0M225.4 739.3h0M226.9 721.0h0M225.2 703.3h0M224.7 757.3h0M225.3 688.4h0M226.6 744.8h0M226.5 752.3h0M225.7 765.4h0M226.7 765.2h0M226.7 752.7h0M230.8 764.4h0M234.0 768.8h0M233.2 768.4h0M237.8 754.9h0M236.4 767.8h0M237.2 766.7h0M235.8 721.8h0M237.3 758.1h0M237.5 728.1h0M237.4 771.2h0M237.8 753.3h0M237.7 769.7h0M237.1 709.8h0M236.4 771.0h0M237.8 759.3h0M236.6 770.8h0M236.9 759.3h0M235.6 729.1h0M235.7 767.7h0M237.2 750.0h0M237.4 723.4h0M239.6 698.5h0M239.8 692.0h0M239.4 750.0h0M238.9 734.1h0M239.0 685.7h0M241.0 710.0h0M240.7 666.2h0M240.7 764.3h0M239.2 776.0h0M240.4 754.6h0M239.2 630.3h0M239.4 723.4h0M238.6 683.8h0M239.4 646.8h0M240.8 765.0h0M240.7 682.9h0M239.8 652.7h0M240.7 734.0h0M239.2 724.1h0M239.7 704.1h0M240.9 676.4h0M238.8 670.4h0M239.8 714.7h0M239.4 774.8h0M240.4 776.2h0M239.1 761.5h0M239.3 655.4h0M240.3 691.0h0M238.8 700.6h0M240.8 761.2h0M239.4 739.8h0M238.7 723.9h0M240.6 686.4h0M239.4 633.7h0M241.0 690.2h0M244.3 758.2h0M243.8 768.0h0M244.8 760.1h0M243.7 758.4h0M243.0 743.1h0M243.7 768.2h0M250.2 780.8h0M249.6 783.4h0M249.7 757.6h0M248.6 780.5h0M248.8 763.1h0M249.2 758.0h0M251.4 802.7h0M252.8 782.1h0M251.6 801.0h0M252.1 790.3h0M251.3 784.5h0M251.9 782.5h0M251.3 802.2h0M251.2 795.1h0M251.2 789.9h0M252.2 789.4h0M252.9 796.0h0M251.2 801.4h0M252.2 765.6h0M251.2 792.6h0M256.8 829.3h0M256.6 828.2h0M256.7 812.2h0M256.0 812.8h0M256.5 827.3h0M257.0 791.8h0M256.9 804.3h0M257.1 788.5h0M258.9 803.1h0M257.9 795.2h0M258.1 801.6h0M257.6 784.7h0M257.2 806.3h0M261.8 756.7h0M262.6 770.2h0M261.3 769.3h0M261.9 765.7h0M263.3 774.0h0M261.7 767.2h0M261.2 773.4h0M269.8 765.8h0M271.6 764.7h0M269.5 757.0h0M273.8 758.5h0M275.2 758.4h0M276.2 756.9h0M277.2 765.1h0M280.3 705.5h0M281.3 725.4h0M280.3 760.6h0M281.1 711.7h0M281.1 760.1h0M280.1 768.9h0M279.9 742.1h0M280.6 771.5h0M280.8 738.9h0M279.3 767.0h0M280.5 770.9h0M279.6 771.1h0M280.1 747.7h0M279.5 733.1h0M280.2 746.4h0M281.5 765.7h0M283.9 687.5h0M282.3 744.0h0M283.0 666.3h0M283.4 706.6h0M283.7 718.4h0M283.5 712.6h0M282.8 774.7h0M282.8 645.9h0M282.9 688.5h0M281.8 639.9h0M282.0 752.4h0M284.1 653.0h0M282.3 762.3h0M283.1 756.5h0M282.2 685.2h0M282.7 662.0h0M282.5 722.3h0M281.6 728.7h0M284.1 773.7h0M282.5 751.6h0M282.4 629.6h0M283.8 770.6h0M283.2 737.0h0M281.9 750.4h0M283.6 759.5h0M283.3 715.4h0M283.0 681.3h0M282.1 690.7h0M282.7 763.0h0M282.1 659.1h0M283.7 671.8h0M281.8 680.3h0M283.7 767.9h0M281.6 759.4h0M283.4 708.0h0M287.4 765.7h0M287.0 799.6h0M288.5 791.9h0M287.6 795.7h0M288.3 816.6h0M288.6 816.6h0M288.9 789.1h0M288.6 786.2h0M289.1 808.5h0M288.1 791.3h0M288.9 803.4h0M288.1 788.1h0M288.7 789.5h0M293.0 852.6h0M292.0 848.1h0M294.6 842.4h0M295.5 816.8h0M296.2 817.7h0M295.1 846.8h0M295.1 840.2h0M296.6 846.9h0M295.0 836.1h0M296.4 835.2h0M299.4 754.5h0M298.7 740.3h0M299.4 766.0h0M298.7 751.1h0M298.5 762.6h0M299.6 746.0h0M303.1 748.5h0M302.0 760.4h0M301.8 745.6h0M303.5 752.0h0M307.1 760.3h0M307.5 723.2h0M308.8 742.4h0M307.2 759.7h0M307.2 730.0h0M307.2 742.7h0M308.3 728.5h0M308.7 763.4h0M307.4 700.2h0M307.4 715.0h0M309.1 704.0h0M307.7 722.3h0M307.1 749.8h0M309.0 705.8h0M309.0 722.2h0M306.8 750.5h0M310.9 686.2h0M310.5 713.7h0M312.3 728.2h0M311.4 632.2h0M310.7 675.6h0M312.2 687.2h0M312.4 761.6h0M309.9 754.0h0M310.9 764.2h0M310.5 669.4h0M311.8 627.4h0M311.9 757.0h0M311.7 750.1h0M311.9 763.1h0M311.6 733.8h0M311.1 762.0h0M310.2 728.7h0M312.4 723.6h0M312.3 763.7h0M311.9 734.9h0M311.3 654.6h0M312.3 692.0h0M311.9 720.3h0M310.7 714.4h0M310.2 615.6h0M311.8 625.3h0M312.1 753.7h0M311.7 763.6h0M311.8 623.2h0M311.6 632.7h0M312.2 671.3h0M310.8 630.6h0M310.8 753.9h0M312.2 759.7h0M312.4 722.5h0M312.1 747.4h0M313.8 764.0h0M312.3 753.1h0M311.7 744.6h0M312.7 759.5h0M313.0 741.9h0M316.4 760.3h0M315.6 761.8h0M316.2 739.8h0M315.0 760.6h0M317.2 720.6h0M316.4 741.0h0M317.5 749.0h0M317.4 719.4h0M316.7 740.4h0M315.6 723.6h0M321.5 754.2h0M320.1 759.2h0M319.1 755.6h0M319.2 771.2h0M321.3 739.6h0M319.8 745.9h0M319.5 752.8h0M320.5 756.1h0M319.4 749.8h0M324.5 746.5h0M323.0 731.3h0M324.7 764.2h0M322.7 747.9h0M323.2 752.5h0M322.7 742.6h0M323.5 746.7h0M323.1 769.2h0M324.9 742.6h0M337.8 729.2h0M336.4 791.3h0M337.5 694.9h0M335.5 742.1h0M336.6 760.6h0M335.9 755.4h0M336.0 788.0h0M337.7 786.0h0M335.7 791.9h0M335.5 690.3h0M336.2 799.1h0M336.9 753.1h0M337.6 708.9h0M337.3 799.5h0M336.8 788.2h0M335.5 715.6h0M337.6 754.9h0M336.8 770.3h0M336.1 724.3h0M337.0 795.7h0M337.6 799.4h0M336.6 762.2h0M336.6 793.7h0M336.9 766.9h0M335.9 796.6h0M337.2 755.0h0M343.2 835.7h0M342.2 802.0h0M344.0 783.6h0M343.5 843.8h0M342.4 795.9h0M342.2 736.2h0M342.0 751.7h0M342.6 729.1h0M343.6 767.9h0M343.9 772.2h0M343.0 834.0h0M343.7 786.8h0M342.8 815.9h0M342.1 781.0h0M342.9 795.6h0M342.7 770.3h0M343.7 853.1h0M342.0 828.0h0M344.3 853.8h0M342.2 801.6h0M343.3 852.7h0M342.0 812.2h0M343.2 795.2h0M342.1 788.8h0M343.5 855.1h0M343.2 855.1h0M344.1 818.7h0M342.2 797.4h0M344.0 846.8h0M343.4 838.5h0M342.7 823.9h0M343.5 821.8h0M342.7 822.7h0M344.1 822.9h0M343.8 710.5h0M347.4 782.1h0M348.1 803.8h0M347.6 790.7h0M347.3 782.6h0M349.0 792.4h0M350.5 778.3h0M351.5 770.9h0M352.7 786.0h0M352.4 778.5h0M351.7 766.5h0M355.7 792.7h0M355.6 746.8h0M355.9 772.4h0M354.4 782.7h0M356.0 756.3h0M355.1 770.9h0M354.7 767.5h0M353.9 778.2h0M355.8 769.1h0M355.5 781.7h0M355.5 759.9h0M354.9 788.9h0M358.0 713.8h0M358.3 755.7h0M358.7 730.9h0M358.9 789.0h0M359.8 695.5h0M359.4 755.8h0M359.4 689.5h0M359.6 743.2h0M359.0 802.9h0M358.9 790.1h0M358.3 804.7h0M359.7 758.4h0M360.1 678.5h0M359.7 742.5h0M357.9 775.4h0M359.3 785.2h0M357.9 751.6h0M359.3 794.5h0M358.7 686.2h0M359.9 758.2h0M359.3 722.9h0M359.7 754.6h0M357.7 783.2h0M359.3 710.6h0M360.0 803.8h0M358.7 765.9h0M357.9 805.0h0M359.4 711.2h0M358.9 750.5h0M359.6 779.6h0M357.8 678.8h0M363.1 816.9h0M362.1 798.4h0M362.5 791.3h0M364.1 796.3h0M364.5 818.5h0M363.0 776.4h0M363.9 818.4h0M364.7 801.1h0M363.7 798.4h0M362.4 807.0h0M362.6 802.5h0M362.7 795.9h0M364.3 778.3h0M362.8 782.4h0M364.0 819.5h0M364.6 803.1h0M364.4 827.5h0M366.2 838.3h0M365.9 827.2h0M366.1 838.4h0M365.9 823.3h0M364.3 831.0h0M364.8 824.6h0M364.2 830.0h0M363.8 838.2h0M364.2 835.9h0M369.9 857.6h0M369.8 823.9h0M369.2 855.6h0M369.1 860.2h0M369.0 846.9h0M368.1 865.8h0M368.8 858.9h0M368.4 857.8h0M368.9 848.9h0M368.4 855.7h0M369.1 844.7h0M374.1 783.3h0M374.2 767.2h0M373.8 785.5h0M373.8 800.2h0M373.1 796.5h0M374.7 801.9h0M373.1 763.2h0M372.4 789.8h0M373.0 772.2h0M372.9 770.7h0M378.5 743.5h0M378.2 764.3h0M379.4 760.9h0M378.0 777.2h0M377.5 746.0h0M378.1 738.9h0M377.8 732.7h0M379.4 740.9h0M378.7 767.4h0M379.7 740.7h0M379.5 754.0h0M379.7 732.2h0M381.0 772.2h0M380.9 748.4h0M380.3 770.9h0M380.6 748.8h0M380.2 772.4h0M379.9 761.0h0M383.5 768.9h0M383.7 769.0h0M384.5 763.9h0M383.6 769.0h0M382.6 766.9h0M383.7 769.9h0M383.9 760.0h0M389.7 759.6h0M389.2 755.9h0M394.4 761.0h0M399.0 770.5h0M402.1 732.8h0M402.1 760.5h0M403.3 704.2h0M403.7 726.5h0M404.3 723.1h0M402.7 766.2h0M403.3 747.6h0M402.4 745.5h0M403.5 758.8h0M403.9 770.6h0M402.8 770.2h0M402.2 710.6h0M402.3 744.0h0M403.3 769.3h0M402.8 707.8h0M402.6 706.0h0M404.0 730.0h0M405.6 770.6h0M404.3 764.5h0M404.4 726.9h0M404.8 747.5h0M404.5 731.6h0M403.9 723.7h0M403.3 714.2h0M404.6 729.6h0M403.7 724.4h0M405.3 772.2h0M404.0 757.8h0M404.9 726.9h0M404.8 768.1h0M403.4 745.9h0M409.6 770.8h0M409.3 773.0h0M409.1 739.8h0M408.8 767.1h0M408.9 769.6h0M410.6 740.9h0M410.2 778.1h0M409.9 745.0h0M408.9 742.2h0M414.1 753.7h0M411.7 791.6h0M411.8 761.2h0M413.8 737.2h0M411.9 727.2h0M411.8 777.1h0M411.9 755.6h0M412.1 794.3h0M413.9 792.3h0M413.4 735.0h0M412.7 755.8h0M412.1 790.4h0M411.8 795.2h0M413.0 786.3h0M413.1 795.5h0M412.4 772.2h0M415.7 785.9h0M417.0 798.4h0M416.2 799.5h0M415.5 795.0h0M415.7 799.8h0M419.1 757.4h0M419.4 782.2h0M419.2 785.8h0M419.5 776.3h0M420.5 782.6h0M420.9 767.7h0M420.0 774.8h0M424.8 736.4h0M423.5 696.9h0M424.0 725.0h0M423.8 771.3h0M423.7 668.7h0M424.6 773.6h0M424.4 740.7h0M424.2 773.8h0M424.3 743.6h0M424.2 740.4h0M423.1 662.5h0M423.7 777.7h0M422.9 774.3h0M425.0 702.4h0M423.3 779.1h0M423.8 767.7h0M423.0 662.2h0M424.2 750.5h0M423.7 768.5h0M424.6 709.1h0M424.6 695.0h0M423.1 756.2h0M424.5 778.9h0M424.6 694.9h0M423.9 723.6h0M424.0 778.0h0M423.6 774.8h0M424.3 699.8h0M429.4 767.7h0M428.9 727.5h0M428.7 769.3h0M429.3 695.1h0M429.5 691.9h0M428.5 771.6h0M429.3 702.7h0M428.6 742.0h0M428.4 750.8h0M428.7 754.0h0M427.8 732.0h0M429.1 766.8h0M428.7 733.7h0M428.4 739.1h0M428.2 682.9h0M428.2 738.0h0M428.2 730.8h0M427.6 748.2h0M428.6 755.2h0M429.4 729.3h0M428.3 772.1h0M432.9 752.8h0M432.1 760.2h0M432.4 768.9h0M431.9 766.4h0M431.8 767.1h0M432.8 763.2h0M433.9 741.8h0M433.2 749.7h0M434.0 763.6h0M434.6 729.9h0M433.3 727.2h0M435.5 760.7h0M433.5 764.1h0M434.3 739.7h0M435.3 712.9h0M434.3 737.6h0M435.7 747.7h0M434.4 765.0h0M434.8 722.8h0M435.2 765.5h0M435.0 707.6h0M436.6 704.1h0M436.2 693.5h0M434.9 763.6h0M436.8 711.2h0M436.8 744.3h0M436.0 741.2h0M436.6 706.1h0M435.2 711.0h0M436.8 705.7h0M436.5 697.4h0M435.5 717.8h0M437.3 661.6h0M436.5 751.8h0M436.0 697.3h0M435.7 749.3h0M436.9 759.1h0M437.4 726.5h0M437.4 755.3h0M436.2 710.9h0M435.0 761.9h0M435.1 728.9h0M435.4 712.9h0M436.5 673.0h0M437.1 764.4h0M441.4 754.8h0M442.8 756.1h0M445.7 737.3h0M445.7 754.9h0M445.7 754.8h0M445.0 755.6h0M443.8 742.2h0M444.4 762.9h0M445.2 751.4h0M446.0 722.2h0M445.4 762.0h0M443.7 762.2h0M452.0 867.9h0M451.2 865.5h0M454.7 864.7h0M454.4 897.9h0M453.5 889.7h0M453.5 882.5h0M457.0 869.8h0M456.7 887.9h0M458.5 873.4h0M457.5 881.7h0M457.3 877.2h0M457.4 916.3h0M460.1 920.9h0M461.4 900.6h0M461.2 905.6h0M461.8 878.4h0M461.3 920.4h0M461.1 928.6h0M463.1 924.5h0M464.5 893.8h0M464.1 936.2h0M464.3 911.4h0M464.6 941.7h0M463.5 903.9h0M140.6 985.8h0M149.7 981.8h0M134.5 972.6h0M164.0 980.7h0M253.7 996.4h0M266.9 983.8h0M282.2 970.6h0M297.1 1009.3h0M320.9 1002.1h0M335.2 1004.2h0M206.8 986.9h0M210.9 987.9h0M232.3 990.9h0M121.2 973.6h0M128.3 978.7h0M458.3 867.7h0M460.3 877.3h0M461.3 888.5h0M455.2 886.4h0M415.5 961.2h0M402.2 967.9h0M425.7 986.3h0M430.8 980.2h0M444.0 1006.7h0M767.6 820.2h0M767.6 830.4h0M767.6 848.7h0M767.6 853.8h0M767.6 868.1h0M838.6 824.3h0M843.0 1013.8h0M844.1 1007.7h0M857.3 996.5h0M864.4 1000.6h0M865.5 1005.7h0M915.4 825.3h0M915.4 836.5h0M915.4 840.6h0M924.6 817.1h0M924.6 836.5h0M924.6 847.7h0M884.4 848.7h0M898.1 862.0h0M899.1 871.1h0M901.1 875.2h0M892.0 879.3h0M909.3 853.8h0M909.3 858.9h0M909.3 873.2h0M907.2 899.7h0M934.3 911.9h0M877.7 862.0h0M878.7 871.1h0M878.7 879.3h0M790.1 1008.7h0M928.6 1022.0h0M887.9 1010.7h0M1028.3 939.4h0M1028.3 944.5h0M1028.3 955.7h0M1028.3 964.9h0M1242.9 974.1h0M1242.9 978.1h0M1242.9 984.3h0M1167.3 1008.7h0M1398.3 827.0h0M1398.3 838.0h0M1398.3 846.5h0M1398.3 858.4h0M1398.3 866.9h0M1379.6 884.7h0M1379.6 888.1h0M1385.6 889.8h0M1385.6 892.4h0M1349.4 911.1h0M1364.4 898.3h0M1360.1 913.6h0M1360.1 922.1h0M1311.4 947.6h0M1442.5 1003.6h0M1426.4 1007.9h0M1411.9 996.8h0M1432.3 997.7h0M1243.5 974.2h0M1243.5 978.2h0M1243.5 984.3h0M1226.5 997.3h0M1311.4 947.0h0M116.3 939.6h0M115.5 929.2h0M116.4 935.2h0M115.9 929.1h0M117.0 945.9h0M115.7 934.4h0M117.3 947.5h0M118.6 931.9h0M117.7 936.8h0M118.4 948.9h0M119.1 939.5h0M118.8 946.9h0M117.9 953.3h0M117.6 942.4h0M119.0 949.1h0M118.2 934.0h0M120.9 940.8h0M119.5 949.5h0M120.0 949.1h0M120.2 957.5h0M120.1 961.2h0M121.4 962.4h0M119.6 953.3h0M121.2 959.6h0M121.0 943.9h0M121.8 788.2h0M122.0 972.2h0M122.1 950.9h0M122.2 968.7h0M123.2 956.1h0M122.3 962.9h0M121.8 970.2h0M122.7 952.6h0M122.9 959.8h0M122.9 968.5h0M123.7 793.9h0M124.8 952.7h0M125.5 958.9h0M125.2 961.4h0M124.7 970.4h0M123.7 966.4h0M125.4 973.3h0M123.7 973.6h0M124.1 954.9h0M124.0 953.9h0M126.6 974.0h0M126.0 973.9h0M126.8 966.8h0M127.5 952.4h0M126.5 957.8h0M126.5 971.8h0M127.5 954.7h0M126.5 974.1h0M125.5 959.3h0M128.8 944.0h0M127.6 978.1h0M129.4 965.3h0M128.4 955.4h0M129.2 973.7h0M128.7 966.2h0M128.8 966.4h0M128.8 978.9h0M128.0 958.3h0M128.8 965.0h0M129.7 779.4h0M129.5 950.9h0M130.0 976.3h0M129.7 959.0h0M129.9 953.8h0M130.9 970.9h0M131.0 968.2h0M131.4 955.4h0M130.0 963.7h0M130.0 971.2h0M131.0 951.6h0M132.6 962.8h0M133.3 954.9h0M132.1 963.3h0M132.1 955.6h0M133.4 956.0h0M132.8 962.4h0M131.6 966.9h0M133.1 963.1h0M135.4 942.2h0M133.6 971.1h0M134.5 952.4h0M134.9 953.0h0M134.5 954.5h0M135.1 955.7h0M134.3 959.1h0M134.4 968.0h0M133.8 971.4h0M136.2 947.2h0M136.9 962.3h0M136.7 971.2h0M135.9 957.7h0M137.1 956.6h0M136.2 970.8h0M137.5 954.1h0M136.3 950.2h0M136.9 958.4h0M136.9 949.9h0M137.5 968.1h0M138.1 955.0h0M139.1 953.2h0M139.2 965.9h0M138.6 962.9h0M139.4 952.3h0M138.8 958.8h0M138.3 973.8h0M139.0 959.6h0M139.3 972.5h0M140.8 976.4h0M141.0 960.3h0M141.2 974.8h0M140.3 956.6h0M140.3 977.1h0M139.6 958.0h0M139.6 972.7h0M140.4 962.7h0M140.4 958.3h0M142.1 961.1h0M143.4 955.9h0M142.1 959.1h0M141.7 958.8h0M143.4 961.4h0M141.5 963.4h0M141.9 968.7h0M142.1 948.9h0M145.5 956.2h0M143.8 942.2h0M144.2 943.8h0M143.6 949.2h0M145.0 963.1h0M144.8 947.1h0M145.1 951.4h0M145.4 946.2h0M146.5 966.2h0M146.2 949.9h0M147.1 961.9h0M146.3 950.3h0M145.6 968.7h0M147.4 954.1h0M146.5 961.9h0M145.6 955.4h0M149.4 806.5h0M148.3 963.1h0M148.0 968.1h0M148.3 967.1h0M149.2 974.1h0M149.3 955.7h0M148.2 960.7h0M147.8 954.1h0M147.9 952.0h0M151.2 979.4h0M149.6 962.3h0M150.2 969.8h0M149.5 980.5h0M150.1 979.5h0M151.0 972.2h0M151.0 967.0h0M149.7 976.5h0M152.6 955.4h0M152.0 959.7h0M152.0 975.8h0M153.2 957.5h0M153.3 965.4h0M153.3 957.0h0M153.3 962.6h0M152.2 967.3h0M155.3 945.7h0M154.5 957.5h0M153.7 971.0h0M154.6 956.7h0M155.2 960.6h0M154.8 961.2h0M154.2 964.4h0M153.9 958.8h0M155.4 951.6h0M156.1 962.9h0M157.1 960.2h0M155.8 959.8h0M157.0 947.4h0M156.2 958.4h0M156.6 966.7h0M155.9 968.1h0M157.5 963.9h0M157.6 947.9h0M157.7 947.7h0M159.1 953.1h0M157.8 959.1h0M159.5 959.4h0M157.8 969.2h0M157.7 962.1h0M158.1 966.5h0M160.8 964.2h0M159.7 964.5h0M160.0 955.4h0M159.7 951.1h0M161.2 952.7h0M160.7 969.8h0M160.2 955.0h0M159.8 970.8h0M161.4 950.2h0M161.7 772.2h0M162.6 965.4h0M162.2 960.6h0M162.3 975.2h0M162.7 952.1h0M162.1 958.8h0M162.8 975.4h0M163.3 961.2h0M161.9 953.9h0M161.7 976.3h0M165.4 771.4h0M165.0 968.4h0M163.6 956.3h0M164.6 957.8h0M165.0 956.5h0M163.9 961.2h0M163.8 963.2h0M165.5 968.1h0M163.9 954.6h0M164.0 964.3h0M164.5 951.7h0M167.3 936.5h0M166.0 960.6h0M166.1 945.4h0M167.0 952.9h0M166.0 943.1h0M167.1 941.0h0M166.7 964.8h0M166.4 954.9h0M166.2 948.0h0M166.0 940.8h0M168.3 932.8h0M167.5 956.3h0M169.4 955.8h0M169.5 954.2h0M168.5 956.0h0M167.9 951.5h0M167.8 951.6h0M169.0 952.7h0M169.1 948.0h0M169.1 939.0h0M170.3 924.7h0M169.8 935.0h0M170.5 923.9h0M171.5 941.8h0M171.5 926.1h0M171.5 928.9h0M171.1 931.9h0M170.8 935.6h0M169.8 924.7h0M172.9 930.1h0M172.1 935.2h0M172.1 920.5h0M171.9 931.4h0M172.4 925.2h0M172.8 925.0h0M172.6 938.8h0M174.3 915.8h0M173.5 919.8h0M175.1 918.2h0M174.8 924.7h0M173.7 924.9h0M175.4 935.9h0M175.4 923.8h0M174.3 928.7h0M176.3 780.7h0M176.3 919.7h0M176.7 919.3h0M176.8 938.4h0M176.6 939.0h0M176.6 929.7h0M176.1 919.3h0M176.6 927.8h0M178.5 927.2h0M178.3 931.5h0M179.2 938.6h0M179.4 941.2h0M177.7 937.7h0M179.3 938.0h0M179.4 932.3h0M178.7 927.2h0M180.6 783.9h0M179.8 944.3h0M179.9 945.2h0M181.2 954.5h0M179.8 935.9h0M180.0 947.4h0M179.8 935.9h0M181.2 934.4h0M181.6 784.5h0M183.3 968.8h0M181.8 957.9h0M181.5 962.4h0M183.1 968.0h0M181.7 960.4h0M183.1 963.9h0M182.4 967.6h0M183.3 952.7h0M184.6 954.4h0M184.2 961.0h0M183.8 966.5h0M184.8 955.7h0M184.3 974.4h0M184.3 958.3h0M184.7 958.0h0M184.0 956.8h0M184.5 956.6h0M184.9 979.6h0M186.7 955.0h0M186.3 984.0h0M185.6 967.7h0M186.6 979.4h0M185.7 978.9h0M186.1 969.4h0M186.4 960.4h0M186.5 973.4h0M186.4 979.1h0M185.9 971.8h0M186.0 970.0h0M189.0 954.7h0M187.9 983.6h0M188.6 963.7h0M188.5 960.5h0M189.1 971.9h0M189.0 963.9h0M188.5 961.3h0M188.2 970.0h0M188.2 971.7h0M188.8 978.2h0M190.8 780.2h0M190.6 984.5h0M190.9 959.5h0M191.3 983.1h0M189.7 969.7h0M189.8 971.5h0M189.9 966.0h0M191.4 981.9h0M190.7 981.4h0M191.3 983.1h0M191.9 769.5h0M192.7 971.2h0M192.7 950.1h0M192.5 951.2h0M193.1 954.6h0M192.4 962.9h0M193.3 968.2h0M192.9 958.9h0M193.4 952.4h0M192.8 950.9h0M194.3 772.1h0M195.3 957.2h0M193.9 949.4h0M194.6 940.3h0M194.9 948.3h0M194.1 945.9h0M195.3 954.0h0M195.0 949.3h0M194.5 940.0h0M197.5 949.7h0M195.8 943.2h0M195.6 947.0h0M196.8 958.4h0M195.6 945.7h0M195.5 943.3h0M196.5 938.1h0M196.5 941.6h0M195.6 950.7h0M199.4 937.5h0M198.5 955.0h0M197.7 942.8h0M199.1 959.7h0M198.9 962.3h0M199.3 948.1h0M198.4 940.0h0M198.6 959.4h0M199.1 957.6h0M199.4 944.8h0M199.7 783.2h0M200.6 939.4h0M200.2 964.3h0M201.3 943.3h0M201.4 966.5h0M200.6 964.5h0M201.4 944.1h0M200.2 965.8h0M199.6 945.7h0M200.0 951.0h0M200.2 949.6h0M202.7 779.3h0M202.4 946.6h0M203.5 970.3h0M203.3 958.9h0M203.2 957.1h0M202.1 959.4h0M203.3 954.4h0M203.4 969.4h0M202.0 971.0h0M202.9 948.0h0M202.2 961.5h0M204.2 946.8h0M203.5 972.5h0M205.1 960.6h0M204.4 954.2h0M205.5 978.8h0M205.1 970.8h0M204.3 968.4h0M204.5 953.4h0M203.7 953.0h0M205.3 965.4h0M204.5 962.2h0M206.4 962.1h0M207.3 968.5h0M206.7 975.7h0M206.8 960.5h0M206.9 969.2h0M206.3 956.8h0M206.3 964.4h0M207.1 969.4h0M205.9 970.0h0M206.6 968.7h0M207.7 978.3h0M208.0 965.4h0M209.3 974.5h0M209.1 966.8h0M208.0 958.2h0M209.3 971.8h0M209.3 977.5h0M208.0 984.8h0M207.8 984.0h0M207.9 972.8h0M211.4 967.6h0M211.1 974.7h0M209.7 987.6h0M211.1 960.0h0M210.1 981.6h0M210.9 981.4h0M210.9 967.1h0M210.5 980.7h0M209.9 973.0h0M209.6 960.5h0M213.3 958.6h0M212.7 970.4h0M212.0 975.8h0M212.6 982.5h0M212.2 972.4h0M213.4 971.2h0M211.9 960.0h0M212.9 975.1h0M213.0 968.9h0M211.9 970.0h0M215.3 948.5h0M214.5 955.3h0M214.4 954.2h0M214.5 955.8h0M214.0 955.6h0M213.6 979.3h0M215.1 965.6h0M213.8 973.2h0M214.6 960.0h0M215.3 972.3h0M213.8 966.5h0M216.9 948.6h0M216.5 953.5h0M215.7 954.3h0M215.8 966.1h0M217.5 965.0h0M216.0 949.9h0M216.5 951.3h0M217.0 969.9h0M216.1 956.6h0M216.6 962.9h0M217.3 950.8h0M218.6 769.0h0M218.5 949.1h0M218.4 959.1h0M218.6 965.9h0M219.3 957.1h0M218.6 951.6h0M219.1 948.4h0M218.6 951.4h0M217.7 965.1h0M218.5 948.8h0M217.9 962.4h0M220.7 941.4h0M221.1 948.9h0M220.0 974.9h0M221.0 967.8h0M221.4 952.1h0M219.6 972.6h0M221.0 954.0h0M219.8 958.0h0M221.3 949.3h0M220.4 974.2h0M220.8 968.1h0M223.1 975.5h0M222.2 963.8h0M223.0 977.5h0M222.1 977.0h0M222.4 961.9h0M223.3 960.7h0M223.0 962.6h0M223.3 963.1h0M222.1 972.8h0M223.7 955.2h0M224.8 960.9h0M224.3 976.2h0M224.7 970.9h0M225.3 977.1h0M225.0 952.5h0M225.4 959.1h0M224.2 953.6h0M224.7 953.0h0M223.7 953.2h0M227.3 763.8h0M227.2 970.1h0M225.6 956.9h0M226.1 972.9h0M227.0 969.6h0M226.1 967.8h0M226.3 981.3h0M226.5 966.0h0M226.6 955.4h0M225.8 970.9h0M228.1 983.2h0M228.8 984.4h0M228.5 965.8h0M229.3 979.3h0M228.1 960.3h0M228.5 959.2h0M228.1 963.8h0M229.4 974.9h0M228.5 962.0h0M228.6 968.0h0M231.3 768.9h0M231.3 964.1h0M230.7 962.2h0M229.8 963.8h0M231.2 972.1h0M229.5 974.6h0M231.5 964.7h0M230.5 981.5h0M230.1 967.7h0M230.0 960.5h0M230.2 983.5h0M232.4 960.8h0M231.6 970.5h0M232.5 985.9h0M232.8 970.6h0M232.1 973.5h0M232.4 971.5h0M232.2 969.3h0M233.2 973.9h0M233.2 984.4h0M233.4 973.9h0M233.2 963.0h0M234.8 961.3h0M234.2 977.7h0M235.1 968.2h0M233.5 985.7h0M234.6 967.3h0M234.2 967.8h0M235.2 974.9h0M234.3 982.2h0M235.5 984.3h0M233.9 963.3h0M237.5 777.0h0M236.3 960.0h0M236.0 979.2h0M237.4 968.9h0M236.4 975.7h0M237.3 985.0h0M236.6 984.5h0M236.1 961.0h0M236.1 962.4h0M236.8 961.7h0M235.5 979.2h0M237.1 980.4h0M237.6 777.3h0M239.0 956.2h0M238.9 978.6h0M238.0 971.1h0M239.5 965.9h0M237.6 972.1h0M238.6 967.2h0M238.6 974.5h0M238.9 961.4h0M238.8 969.1h0M239.3 983.5h0M239.0 964.1h0M241.1 779.9h0M240.9 976.4h0M241.0 958.9h0M240.4 976.1h0M240.1 975.3h0M240.5 956.9h0M240.2 956.5h0M241.2 979.5h0M240.3 974.3h0M240.5 958.1h0M242.1 953.1h0M241.6 974.2h0M242.8 975.9h0M241.7 961.3h0M241.8 959.1h0M241.8 967.6h0M242.2 956.7h0M241.6 957.2h0M242.7 977.7h0M242.1 962.2h0M244.7 956.1h0M245.0 979.2h0M243.6 972.5h0M244.8 981.7h0M244.2 973.0h0M243.7 959.7h0M244.4 982.0h0M245.3 967.3h0M244.2 969.7h0M244.5 967.4h0M247.0 775.7h0M247.5 962.4h0M247.2 966.3h0M247.0 983.9h0M246.5 966.2h0M246.0 973.8h0M247.5 974.1h0M246.7 974.2h0M246.0 970.4h0M245.7 981.8h0M249.4 960.9h0M247.8 969.1h0M248.8 984.3h0M247.6 984.6h0M249.2 972.1h0M248.2 964.9h0M249.2 976.9h0M247.9 966.7h0M248.6 962.9h0M247.6 977.7h0M251.3 961.5h0M250.3 979.5h0M250.3 978.2h0M250.5 982.1h0M250.3 965.4h0M251.3 965.6h0M250.4 965.9h0M250.3 982.0h0M249.9 964.9h0M250.0 973.5h0M252.7 975.6h0M253.3 969.6h0M252.9 969.1h0M253.2 977.8h0M251.8 968.1h0M252.0 979.2h0M252.1 971.5h0M252.6 984.6h0M252.8 969.2h0M254.3 826.2h0M253.8 967.2h0M255.1 978.6h0M254.8 974.3h0M254.8 972.5h0M255.4 968.3h0M255.4 989.7h0M254.4 982.5h0M255.1 981.0h0M254.5 988.2h0M253.9 973.9h0M256.7 829.8h0M257.2 975.1h0M255.7 982.7h0M256.3 980.7h0M256.0 989.2h0M256.4 979.3h0M256.8 976.4h0M257.1 974.3h0M256.0 979.5h0M256.8 969.5h0M258.7 969.6h0M258.2 964.5h0M257.6 985.6h0M258.2 966.1h0M257.6 967.9h0M258.7 974.9h0M258.9 963.9h0M258.8 975.7h0M258.8 968.3h0M260.2 961.2h0M260.9 975.6h0M259.9 970.8h0M260.4 979.1h0M260.2 973.1h0M260.7 973.7h0M260.9 981.3h0M261.2 973.9h0M261.0 979.6h0M261.4 963.1h0M262.7 954.3h0M263.0 978.6h0M263.1 971.7h0M262.4 963.5h0M262.1 972.4h0M263.4 982.8h0M261.5 972.5h0M263.0 966.1h0M262.9 971.5h0M263.1 972.4h0M265.4 962.5h0M264.4 958.9h0M265.3 958.4h0M263.6 976.1h0M264.9 964.7h0M263.9 961.7h0M264.3 964.1h0M264.0 969.2h0M265.3 963.5h0M266.5 769.0h0M265.7 967.1h0M266.7 957.4h0M267.0 956.7h0M266.0 973.7h0M267.4 981.8h0M265.8 963.5h0M266.1 966.6h0M265.8 977.1h0M266.3 967.3h0M267.5 769.0h0M268.2 964.0h0M267.7 958.1h0M268.3 945.3h0M268.1 962.6h0M267.6 970.4h0M268.0 947.4h0M267.7 949.7h0M269.5 948.8h0M269.3 952.4h0M270.7 946.9h0M270.8 935.0h0M271.3 947.5h0M270.5 951.9h0M270.1 947.8h0M269.8 938.4h0M270.1 947.3h0M271.0 938.1h0M273.3 936.7h0M273.2 940.8h0M272.8 935.1h0M272.6 922.5h0M273.3 923.3h0M272.8 927.6h0M273.1 923.3h0M271.6 925.8h0M274.3 911.7h0M275.4 920.9h0M274.8 922.6h0M273.7 932.5h0M275.1 935.4h0M273.7 935.2h0M274.8 920.2h0M274.9 940.0h0M274.8 919.5h0M277.0 924.0h0M276.2 925.8h0M276.1 920.8h0M275.5 935.1h0M276.1 929.6h0M276.0 932.7h0M276.8 928.7h0M275.8 939.3h0M277.8 771.3h0M278.4 929.9h0M279.4 943.5h0M277.7 946.1h0M278.6 927.5h0M277.8 936.7h0M279.4 936.4h0M278.4 935.8h0M278.7 932.4h0M280.3 949.4h0M281.0 937.4h0M279.6 942.1h0M279.9 943.4h0M279.5 952.1h0M280.7 955.4h0M281.0 937.6h0M280.7 944.4h0M282.5 961.1h0M283.0 963.3h0M281.6 953.7h0M281.8 966.8h0M282.1 948.7h0M282.3 961.9h0M281.8 954.6h0M283.0 964.1h0M285.1 772.3h0M285.1 975.5h0M283.6 974.5h0M284.0 969.1h0M285.1 952.6h0M285.1 973.0h0M284.6 963.9h0M284.8 953.6h0M285.1 957.7h0M286.6 796.6h0M286.6 961.2h0M286.4 958.9h0M286.5 971.4h0M286.5 958.9h0M286.2 979.1h0M287.2 963.7h0M287.1 977.4h0M285.9 968.2h0M288.8 825.9h0M288.1 979.7h0M289.3 978.4h0M288.4 982.6h0M287.7 966.8h0M287.6 969.7h0M288.8 980.5h0M289.4 966.9h0M289.3 975.4h0M290.1 994.9h0M290.5 982.0h0M291.3 979.6h0M289.7 983.7h0M291.0 980.5h0M289.6 994.1h0M291.2 990.1h0M290.6 974.4h0M292.5 998.2h0M292.3 981.6h0M293.3 980.0h0M293.3 980.0h0M291.6 982.5h0M292.6 993.6h0M292.1 990.5h0M292.3 987.1h0M294.5 984.3h0M293.5 996.5h0M294.8 989.2h0M295.4 987.3h0M295.0 993.9h0M295.2 985.4h0M293.8 988.8h0M293.9 991.1h0M297.0 979.6h0M296.0 1002.8h0M295.7 988.0h0M295.6 998.8h0M295.6 1006.1h0M297.1 1004.1h0M297.5 1001.5h0M296.9 991.6h0M295.5 996.9h0M296.8 995.9h0M297.6 821.6h0M297.6 974.7h0M297.8 996.5h0M299.2 1002.6h0M297.7 989.6h0M297.5 992.4h0M298.7 981.5h0M299.3 986.8h0M298.9 993.7h0M298.5 1000.4h0M298.8 988.2h0M301.0 767.6h0M301.3 967.7h0M301.1 979.6h0M301.5 987.1h0M301.1 990.8h0M301.0 990.3h0M301.4 984.8h0M300.5 990.8h0M300.5 987.2h0M300.8 980.0h0M300.8 993.5h0M301.6 971.8h0M302.2 965.9h0M302.6 975.3h0M303.4 966.1h0M301.8 987.3h0M302.9 976.1h0M302.0 967.4h0M302.6 970.4h0M303.1 984.4h0M301.6 973.6h0M304.1 765.6h0M305.2 972.1h0M304.9 989.7h0M305.1 963.6h0M304.4 986.2h0M304.9 965.3h0M305.5 984.1h0M304.0 984.4h0M305.4 965.5h0M304.9 985.7h0M303.7 963.0h0M307.2 971.3h0M307.3 971.2h0M306.4 970.4h0M306.8 987.7h0M305.5 970.6h0M306.0 969.8h0M305.6 969.5h0M306.2 969.5h0M306.1 981.8h0M306.7 979.6h0M308.1 955.2h0M308.1 958.4h0M308.3 982.9h0M308.0 967.5h0M308.5 979.2h0M309.2 969.9h0M307.5 960.9h0M309.1 982.6h0M309.1 977.7h0M307.7 971.0h0M308.9 961.7h0M309.7 967.0h0M310.8 972.5h0M310.5 958.8h0M310.1 961.3h0M311.3 978.8h0M310.2 960.3h0M311.4 971.6h0M311.1 983.5h0M311.0 961.6h0M309.6 976.6h0M311.8 764.4h0M312.2 956.5h0M313.3 973.1h0M312.3 971.5h0M313.3 978.0h0M313.2 962.0h0M313.3 985.3h0M313.3 963.7h0M312.2 967.6h0M313.1 966.3h0M311.8 976.5h0M312.7 966.8h0M314.7 977.3h0M314.6 967.5h0M314.3 968.5h0M314.4 987.8h0M314.3 965.0h0M314.9 966.1h0M314.9 965.6h0M314.3 972.7h0M315.5 976.3h0M313.9 976.6h0M315.7 970.4h0M317.2 978.0h0M317.2 967.2h0M316.6 974.1h0M317.4 980.3h0M317.5 991.3h0M317.4 979.7h0M316.7 986.2h0M316.1 980.0h0M316.4 967.4h0M315.5 969.9h0M317.7 977.7h0M318.1 982.5h0M317.9 967.4h0M319.3 978.3h0M319.2 972.6h0M318.2 979.0h0M318.5 977.5h0M318.7 975.4h0M319.3 989.0h0M318.7 978.4h0M318.5 970.7h0M319.5 775.6h0M321.5 981.5h0M321.3 986.9h0M320.0 977.0h0M319.5 986.1h0M320.1 991.4h0M320.5 991.7h0M319.9 995.9h0M321.5 999.2h0M320.7 982.1h0M320.6 971.4h0M322.2 972.4h0M323.3 988.4h0M323.1 979.8h0M322.5 994.7h0M323.0 991.1h0M323.2 990.0h0M323.2 973.2h0M322.7 973.1h0M322.6 980.9h0M322.1 995.7h0M323.7 998.3h0M325.1 981.8h0M325.1 971.7h0M323.9 979.6h0M324.9 991.5h0M325.0 990.6h0M325.5 991.1h0M323.6 994.3h0M324.8 972.7h0M324.2 979.0h0M325.9 985.4h0M326.3 991.4h0M326.2 996.1h0M326.3 979.6h0M327.0 994.7h0M325.6 985.7h0M326.2 973.7h0M326.2 989.0h0M326.3 978.7h0M328.7 984.7h0M327.6 988.2h0M328.7 996.3h0M328.9 983.9h0M329.2 984.6h0M328.1 982.8h0M328.1 974.1h0M328.1 979.2h0M328.7 983.5h0M330.9 974.0h0M331.0 992.4h0M329.6 980.3h0M331.2 981.0h0M330.8 977.3h0M331.3 980.6h0M330.7 973.0h0M331.0 979.0h0M330.3 985.5h0M333.4 989.3h0M332.4 1000.7h0M332.9 990.2h0M332.0 977.3h0M333.2 988.9h0M333.1 985.1h0M333.2 988.9h0M332.2 998.9h0M331.6 984.0h0M334.4 980.6h0M335.2 990.3h0M333.9 997.0h0M334.2 987.7h0M333.7 987.6h0M334.6 1000.6h0M334.8 999.4h0M334.2 978.9h0M334.1 980.8h0M335.1 996.7h0M335.5 794.0h0M336.7 977.8h0M336.2 997.8h0M337.1 998.3h0M336.7 988.6h0M335.7 987.3h0M336.7 991.6h0M336.5 979.3h0M336.3 983.0h0M336.0 992.1h0M335.6 985.4h0M338.7 984.6h0M337.7 989.7h0M339.3 986.7h0M338.7 983.5h0M337.7 999.8h0M338.2 999.1h0M338.1 988.1h0M338.4 982.9h0M340.9 839.0h0M340.3 978.8h0M340.1 995.9h0M339.6 977.6h0M341.3 979.3h0M340.9 976.2h0M339.5 976.1h0M341.0 997.0h0M340.0 995.0h0M341.1 977.9h0M341.8 995.1h0M342.1 986.7h0M343.1 983.1h0M342.1 975.5h0M342.1 981.8h0M343.2 987.2h0M342.8 991.3h0M342.8 984.3h0M345.4 842.1h0M344.4 983.9h0M343.7 985.4h0M344.3 981.8h0M343.7 990.8h0M345.4 990.5h0M344.1 992.8h0M343.8 977.2h0M344.9 988.7h0M347.1 822.9h0M346.5 989.0h0M347.0 971.5h0M345.6 984.8h0M345.8 971.9h0M346.6 977.5h0M347.3 981.6h0M346.6 979.0h0M347.4 984.2h0M347.8 964.5h0M347.7 979.7h0M349.3 977.7h0M349.2 986.8h0M348.4 985.4h0M347.6 977.1h0M348.3 989.1h0M349.2 967.0h0M348.8 983.2h0M350.6 962.5h0M351.3 983.0h0M349.6 987.4h0M351.0 974.2h0M351.0 970.8h0M350.5 966.2h0M350.3 987.8h0M350.6 965.1h0M350.5 966.9h0M351.4 984.8h0M352.2 970.7h0M351.5 972.4h0M352.7 979.4h0M353.0 969.2h0M352.5 979.5h0M351.7 974.3h0M353.1 962.7h0M353.0 967.8h0M353.0 970.7h0M354.4 792.3h0M354.3 957.3h0M353.6 980.9h0M355.0 975.1h0M353.6 962.4h0M355.0 965.2h0M353.8 963.1h0M354.4 977.7h0M353.7 972.9h0M354.3 963.1h0M356.2 975.3h0M355.9 973.6h0M356.3 981.9h0M357.0 974.1h0M355.8 976.9h0M356.1 961.1h0M356.1 972.0h0M357.0 965.8h0M359.2 959.4h0M358.5 967.0h0M359.2 971.7h0M358.8 969.8h0M358.4 983.6h0M358.9 962.7h0M358.8 966.6h0M359.3 984.5h0M357.7 964.0h0M360.5 816.5h0M361.3 981.0h0M361.4 982.4h0M360.2 968.7h0M359.6 972.6h0M359.8 974.7h0M359.8 983.1h0M359.9 968.5h0M360.5 979.6h0M362.0 977.9h0M363.4 970.0h0M362.0 983.4h0M361.9 984.0h0M362.0 970.1h0M363.3 987.3h0M362.1 982.1h0M362.8 986.0h0M364.0 989.1h0M364.6 987.7h0M364.3 970.4h0M365.3 978.6h0M363.7 983.8h0M365.5 977.3h0M364.4 984.4h0M365.4 974.6h0M366.7 985.3h0M367.0 986.7h0M365.7 976.3h0M367.0 989.2h0M366.6 974.5h0M366.1 978.6h0M367.0 973.0h0M367.6 972.2h0M368.5 987.9h0M369.2 973.5h0M368.3 977.5h0M368.7 977.8h0M369.4 969.0h0M368.7 977.0h0M370.9 874.8h0M369.8 967.6h0M371.5 969.8h0M370.6 977.0h0M371.4 981.1h0M370.0 986.2h0M371.5 986.5h0M369.5 974.0h0M372.5 836.5h0M372.6 965.0h0M373.3 982.6h0M372.0 964.8h0M371.8 977.8h0M372.8 972.8h0M372.2 964.6h0M373.5 981.3h0M371.7 972.6h0M375.5 972.9h0M374.6 965.2h0M374.0 971.2h0M375.1 963.4h0M375.4 970.3h0M374.2 966.4h0M375.1 975.2h0M375.5 972.4h0M375.5 972.1h0M376.5 968.2h0M376.0 976.8h0M376.8 969.9h0M376.9 974.2h0M375.9 967.3h0M376.7 960.8h0M376.8 956.9h0M379.4 954.0h0M377.6 958.9h0M379.3 969.3h0M379.4 974.0h0M378.3 956.3h0M378.7 978.1h0M378.3 977.1h0M378.9 956.5h0M379.1 971.1h0M379.7 961.4h0M380.2 959.6h0M381.1 958.0h0M380.3 951.4h0M380.2 958.1h0M380.7 967.0h0M381.0 972.8h0M381.3 969.5h0M380.7 974.3h0M382.7 974.5h0M382.0 948.4h0M382.1 963.9h0M382.6 963.0h0M381.5 973.4h0M382.1 948.5h0M382.2 969.2h0M383.2 957.7h0M383.1 973.8h0M383.5 956.4h0M384.3 957.8h0M384.6 946.8h0M384.7 955.2h0M385.3 969.4h0M384.6 955.1h0M385.5 972.0h0M384.0 952.5h0M385.4 949.9h0M384.0 959.1h0M386.7 772.5h0M386.0 968.8h0M385.9 945.8h0M387.0 958.3h0M387.2 957.3h0M386.5 953.3h0M387.2 956.4h0M386.4 959.1h0M387.4 953.5h0M385.6 955.6h0M387.8 945.9h0M388.0 951.2h0M388.9 955.6h0M388.4 958.0h0M388.2 965.4h0M389.2 946.9h0M387.7 955.4h0M387.6 960.6h0M388.4 964.3h0M391.0 946.3h0M390.7 966.8h0M390.6 944.9h0M390.4 946.7h0M390.0 965.2h0M390.8 967.4h0M389.8 956.7h0M391.3 951.5h0M391.3 958.1h0M391.8 939.3h0M391.9 949.1h0M392.0 946.7h0M392.6 948.8h0M392.6 965.3h0M393.0 965.5h0M392.6 953.7h0M392.6 943.1h0M391.5 947.0h0M391.6 948.9h0M395.3 764.8h0M394.4 940.6h0M393.8 951.6h0M393.8 941.1h0M394.8 960.1h0M394.7 960.4h0M394.4 952.2h0M394.5 945.7h0M395.4 942.0h0M394.0 949.3h0M397.3 769.2h0M396.8 938.9h0M397.3 951.2h0M397.3 954.4h0M396.9 955.2h0M396.3 962.5h0M396.7 963.8h0M397.2 943.8h0M396.0 957.2h0M395.8 949.5h0M397.8 941.2h0M399.3 944.9h0M398.3 954.9h0M397.9 956.7h0M397.8 958.5h0M398.8 953.4h0M399.4 948.2h0M398.8 964.9h0M398.0 943.7h0M398.2 959.6h0M400.1 937.2h0M401.1 942.0h0M399.8 964.1h0M400.9 959.5h0M401.1 960.4h0M400.2 949.8h0M401.0 962.1h0M400.4 951.6h0M399.8 955.9h0M400.7 943.9h0M403.1 773.8h0M401.5 939.6h0M403.3 959.8h0M403.3 963.4h0M402.6 945.8h0M402.8 944.9h0M403.3 946.6h0M403.1 961.3h0M402.1 965.2h0M402.7 964.5h0M402.9 962.6h0M404.3 941.2h0M404.1 952.4h0M405.5 931.2h0M403.8 950.2h0M403.7 945.1h0M404.3 949.9h0M404.7 935.0h0M404.8 949.6h0M406.7 943.1h0M406.2 943.0h0M407.4 939.0h0M407.1 928.2h0M405.6 937.8h0M407.0 942.4h0M407.5 929.8h0M408.1 928.4h0M409.2 930.8h0M408.2 927.3h0M408.9 940.9h0M409.4 928.1h0M409.1 938.3h0M409.2 945.6h0M408.1 936.7h0M410.5 930.2h0M409.8 938.5h0M409.6 936.6h0M410.5 930.3h0M411.2 943.1h0M409.9 934.6h0M410.0 933.5h0M412.6 929.2h0M413.4 930.4h0M412.4 935.8h0M412.1 938.7h0M411.7 935.0h0M413.0 949.5h0M413.3 937.6h0M412.9 930.9h0M414.8 936.5h0M414.8 951.3h0M413.9 944.8h0M414.5 955.1h0M414.4 940.8h0M414.1 949.4h0M414.9 944.6h0M414.6 949.1h0M414.2 949.4h0M416.1 943.2h0M416.8 957.0h0M416.7 950.4h0M416.5 958.7h0M417.5 940.7h0M416.8 941.4h0M417.4 947.8h0M417.5 952.9h0M417.8 793.9h0M419.3 946.3h0M419.0 944.1h0M418.3 940.3h0M417.8 946.3h0M418.9 948.0h0M419.4 939.7h0M418.9 950.2h0M418.6 942.1h0M421.2 934.4h0M420.5 944.6h0M420.6 939.8h0M421.3 950.2h0M420.8 952.2h0M421.2 932.8h0M421.3 932.9h0M420.4 940.0h0M422.3 952.7h0M422.7 942.1h0M422.6 934.0h0M421.9 936.7h0M422.7 931.9h0M422.9 932.4h0M422.9 944.3h0M423.2 937.3h0M425.3 781.2h0M424.1 947.2h0M424.0 969.0h0M423.7 959.3h0M424.4 950.7h0M424.1 956.6h0M423.5 968.7h0M423.6 948.6h0M424.2 948.0h0M425.0 953.2h0M423.7 955.2h0M427.1 952.8h0M426.9 977.1h0M426.3 969.9h0M426.5 958.4h0M425.8 967.8h0M426.0 976.4h0M426.1 962.8h0M426.5 971.3h0M426.3 977.0h0M426.3 967.5h0M427.3 957.0h0M428.1 978.3h0M427.8 972.6h0M429.4 982.3h0M428.7 964.9h0M428.7 960.2h0M427.6 971.1h0M429.3 956.0h0M428.4 955.2h0M428.0 973.6h0M430.6 946.0h0M429.9 975.6h0M430.0 973.3h0M430.8 978.0h0M431.3 956.0h0M429.9 957.5h0M431.4 975.1h0M431.3 953.2h0M430.5 964.0h0M431.3 952.5h0M431.1 954.5h0M432.6 955.3h0M432.6 955.4h0M432.7 977.3h0M432.2 975.3h0M432.3 965.5h0M432.8 968.8h0M432.5 959.6h0M432.0 972.5h0M432.9 959.2h0M433.5 949.6h0M435.4 980.9h0M434.4 956.7h0M435.1 974.7h0M433.7 977.8h0M434.7 962.1h0M434.0 962.9h0M434.2 962.3h0M434.9 978.2h0M434.6 961.6h0M434.8 961.6h0M435.9 955.0h0M436.3 959.7h0M435.9 952.6h0M436.6 964.4h0M437.3 949.1h0M436.1 948.8h0M436.6 951.7h0M435.7 950.4h0M436.5 948.7h0M436.7 948.9h0M439.4 942.2h0M437.6 957.9h0M438.4 948.6h0M438.7 961.3h0M438.1 960.7h0M438.3 962.7h0M438.0 961.4h0M437.7 948.2h0M438.9 961.6h0M438.2 956.9h0M440.1 950.8h0M440.3 977.5h0M440.5 953.0h0M440.5 961.4h0M441.0 976.0h0M440.7 958.8h0M440.1 968.3h0M441.1 963.9h0M440.2 954.3h0M440.8 959.5h0M443.4 765.0h0M441.5 965.4h0M442.5 981.2h0M442.2 981.0h0M442.9 991.7h0M441.9 967.2h0M443.2 975.2h0M441.7 968.3h0M442.3 969.7h0M442.0 989.4h0M442.3 983.0h0M442.5 982.4h0M444.4 768.6h0M443.6 1007.3h0M444.7 989.8h0M443.5 996.8h0M444.5 975.1h0M444.5 991.6h0M443.6 995.4h0M444.2 980.0h0M445.5 983.4h0M445.0 1002.0h0M445.1 994.3h0M444.1 1000.0h0M449.9 1007.1h0M451.4 1009.2h0M454.6 1014.7h0M457.4 911.0h0M458.3 922.8h0M461.1 934.9h0M460.3 1023.7h0M465.0 957.5h0M466.6 975.0h0M470.3 1025.2h0M472.4 1017.3h0M475.7 998.2h0M477.9 1020.6h0M480.4 1028.3h0M483.3 1001.2h0M483.6 1023.7h0M485.0 1005.7h0M486.4 1011.4h0M489.3 1028.0h0M495.1 1019.4h0M494.4 1026.6h0M497.1 1022.0h0M503.8 1030.4h0M528.1 1026.6h0M531.4 1022.6h0M548.2 1022.3h0M549.1 1030.3h0M551.4 1032.3h0M650.9 1021.1h0M680.1 1019.1h0M681.1 1028.9h0M689.2 1025.9h0M691.4 1003.3h0M694.4 1006.8h0M695.1 1029.5h0M698.6 1018.7h0M700.4 1019.9h0M703.6 1019.5h0M704.8 1028.5h0M713.0 1023.3h0M718.2 1022.1h0M732.0 1016.3h0M734.6 1005.4h0M737.6 1017.6h0M739.7 1016.8h0M744.5 1011.2h0M747.4 994.7h0M746.4 1014.6h0M749.9 984.6h0M751.4 981.5h0M756.5 987.9h0M757.7 1006.9h0M758.6 994.0h0M760.9 1010.7h0M762.4 970.3h0M762.9 1013.0h0M774.5 795.3h0M775.1 997.9h0M777.7 999.8h0M779.6 764.6h0M780.5 835.3h0M781.1 1001.5h0M785.1 883.1h0M784.6 1008.1h0M789.1 1008.4h0M837.2 1009.8h0M848.6 849.0h0M849.1 991.2h0M849.6 843.5h0M849.3 986.8h0M850.5 826.4h0M850.5 792.6h0M850.7 838.1h0M851.1 814.0h0M849.9 839.0h0M849.8 840.2h0M852.1 796.4h0M852.4 776.1h0M851.7 793.1h0M852.6 798.0h0M852.4 833.0h0M852.3 794.1h0M853.1 785.5h0M854.6 994.3h0M854.0 819.8h0M854.0 823.1h0M854.8 830.6h0M855.1 813.5h0M856.3 994.1h0M857.9 854.2h0M857.3 852.3h0M858.9 852.2h0M859.3 854.9h0M861.1 847.7h0M862.0 866.0h0M862.1 846.7h0M861.6 845.9h0M863.7 865.9h0M864.8 852.0h0M866.9 848.3h0M865.7 855.1h0M868.4 996.2h0M868.1 859.4h0M867.7 851.6h0M869.9 860.1h0M869.8 865.2h0M872.6 861.6h0M873.4 990.5h0M880.2 897.4h0M879.9 1004.6h0M882.7 906.3h0M884.7 903.8h0M884.8 1005.1h0M891.1 908.5h0M893.6 905.2h0M894.0 1000.8h0M900.9 907.5h0M902.6 907.8h0M903.3 908.7h0M905.4 912.2h0M911.5 902.6h0M915.1 894.1h0M913.9 889.3h0M916.4 1003.6h0M915.5 868.5h0M915.7 876.7h0M915.7 869.9h0M919.3 1007.3h0M920.6 879.5h0M922.5 1004.8h0M922.2 883.7h0M922.6 865.7h0M922.2 876.9h0M922.5 873.5h0M925.1 906.3h0M924.0 885.7h0M924.1 902.7h0M924.3 888.9h0M924.3 872.1h0M926.9 1011.5h0M926.3 893.5h0M926.6 892.8h0M927.0 900.6h0M928.4 1017.3h0M928.2 910.7h0M931.2 1017.0h0M942.7 932.8h0M945.1 941.6h0M944.9 925.4h0M945.0 921.6h0M943.3 913.7h0M946.8 943.6h0M945.9 908.3h0M945.3 924.1h0M947.1 933.6h0M947.1 930.3h0M948.2 940.4h0M949.7 958.9h0M953.0 1016.4h0M958.8 1021.0h0M964.1 970.3h0M964.0 1023.6h0M967.9 978.0h0M972.4 973.4h0M975.9 1027.5h0M983.6 1026.1h0M985.5 1032.7h0M987.3 985.7h0M991.6 995.7h0M994.6 1027.0h0M996.9 1029.3h0M1000.0 1000.3h0M1004.3 989.7h0M1004.0 1028.7h0M1007.5 987.6h0M1007.2 1028.0h0M1017.5 1032.4h0M1020.3 990.9h0M1024.5 1029.4h0M1027.4 1027.1h0M1030.2 969.5h0M1030.3 1025.3h0M1031.2 976.3h0M1034.7 1029.6h0M1039.9 1030.2h0M1041.2 1026.6h0M1046.1 1027.7h0M1048.1 1013.3h0M1054.4 1030.4h0M1056.5 1012.8h0M1057.6 1000.7h0M1063.4 998.7h0M1063.3 1032.6h0M1066.2 1004.0h0M1068.6 1029.2h0M1070.1 1005.9h0M1071.5 1029.1h0M1075.9 1009.7h0M1080.7 1014.0h0M1081.2 1012.0h0M1081.5 1033.3h0M1083.5 1017.3h0M1094.3 1018.9h0M1095.6 1028.1h0M1100.7 1030.9h0M1104.2 1011.4h0M1106.2 1032.0h0M1114.4 1011.9h0M1119.3 1020.7h0M1121.1 1031.2h0M1129.5 1016.3h0M1133.9 1012.7h0M1136.0 1012.8h0M1135.8 1030.9h0M1140.4 1026.7h0M1144.0 1023.6h0M1143.4 1028.7h0M1147.1 1029.9h0M1152.6 1021.3h0M1158.2 1021.2h0M1157.9 1029.1h0M1160.9 1022.2h0M1164.0 1028.4h0M1166.6 1030.6h0M1172.4 1028.7h0M1177.3 1033.4h0M1180.2 1025.6h0M1179.0 1030.6h0M1185.0 1032.0h0M1188.1 1028.1h0M1189.5 1033.4h0M1192.3 1030.9h0M1194.6 1022.2h0M1193.7 1032.7h0M1196.7 1021.1h0M1197.1 1033.5h0M1200.7 1032.4h0M1205.3 1028.6h0M1208.5 1032.6h0M1211.1 1014.9h0M1214.7 1015.6h0M1216.7 1012.5h0M1220.4 1031.7h0M1222.1 1011.7h0M1226.8 1032.6h0M1228.9 1032.2h0M1238.7 1004.5h0M1242.9 992.5h0M1241.3 1034.1h0M1243.1 988.6h0M1252.1 1027.9h0M1255.3 997.7h0M1258.5 1026.8h0M1262.7 1030.9h0M1266.0 1005.3h0M1266.2 1029.2h0M1268.2 1029.2h0M1270.3 981.4h0M1271.2 1032.2h0M1278.1 1027.8h0M1284.7 1026.2h0M1286.8 1025.8h0M1289.4 990.4h0M1292.6 1026.1h0M1300.6 985.6h0M1300.0 1025.1h0M1308.9 971.0h0M1310.1 964.2h0M1309.3 1024.2h0M1309.8 959.7h0M1312.5 959.9h0M1312.0 956.2h0M1313.3 963.4h0M1318.2 966.1h0M1319.0 1022.5h0M1326.0 954.8h0M1325.1 1021.4h0M1325.7 947.8h0M1328.7 951.8h0M1333.9 950.7h0M1335.9 946.2h0M1337.9 935.4h0M1337.9 1018.0h0M1340.2 937.6h0M1340.5 1012.5h0M1341.1 937.3h0M1346.7 1013.7h0M1348.6 931.2h0M1347.4 928.1h0M1350.4 929.2h0M1350.7 1011.8h0M1350.6 926.1h0M1352.6 1008.6h0M1354.8 1014.0h0M1357.9 927.8h0M1363.3 907.9h0M1363.2 906.4h0M1366.5 905.3h0M1368.8 914.6h0M1371.7 933.5h0M1376.0 916.8h0M1386.6 903.5h0M1388.1 1006.6h0M1389.2 1006.7h0M1398.5 990.0h0M1400.3 991.4h0M1401.2 878.6h0M1402.2 991.9h0M1403.5 865.1h0M1403.2 991.3h0M1406.0 994.8h0M1406.4 861.5h0M1407.9 997.2h0M1413.2 826.0h0M1413.1 816.9h0M1415.8 800.1h0M1417.4 801.2h0M1421.9 804.2h0M1424.8 810.0h0M1426.3 988.8h0M1425.3 803.1h0M1428.1 821.3h0M1430.7 835.7h0M1432.8 995.9h0M1438.9 993.2h0M1438.8 808.9h0M1438.1 810.0h0M1440.5 984.1h0M1439.7 799.1h0M1442.5 799.0h0M1443.3 791.1h0M1448.8 972.7h0M1450.9 969.0h0M1452.6 782.8h0M1451.5 971.0h0M1453.9 783.0h0M1454.3 967.3h0M1455.2 968.7h0M1457.6 972.5h0M1461.5 799.2h0"/>
<polyline class="o" points="117.1,826.9 118.6,857.4 120.6,908.4 122.2,881.9 124.7,877.8 128.3,916.5 130.4,841.1 131.4,790.2 132.4,831.0 134.9,890.1 137.5,861.5 140.6,881.9 143.0,792.2 144.6,841.1 146.7,871.7 149.1,902.3 152.2,914.5 155.2,888.0 158.3,822.8 159.9,845.2 163.4,900.2 166.0,881.9 168.1,747.4 169.5,788.2 171.1,782.0 172.6,826.9 174.2,839.1 176.2,853.4 179.3,881.9 181.3,865.6 183.8,843.2 186.4,943.0 188.5,910.4 191.5,841.1 193.6,786.1 196.6,812.6 198.7,910.4 202.1,851.3 205.8,906.4 208.8,851.3 211.9,804.5 213.9,780.0 215.4,704.6 216.6,729.0 218.0,720.9 220.1,747.4 221.7,800.4 223.5,841.1 225.8,780.0 227.8,687.3 229.2,820.8 231.3,869.7 233.3,920.6 236.4,886.0 238.4,902.3 240.4,857.4 243.5,781.0 245.5,861.5 248.6,914.5 250.6,910.4 253.7,930.8 255.7,892.1 257.1,922.7 260.8,888.0 263.9,798.3 266.9,851.3 270.0,786.1 273.0,855.4 277.1,778.0 279.6,857.4 282.8,875.8 285.3,873.8 288.3,912.5 290.4,926.7 292.8,959.3 294.4,939.0 296.5,949.2 299.5,912.5 301.6,800.4 303.2,634.3 305.2,759.6 307.3,758.6 308.9,820.8 310.7,798.3 313.8,894.1 316.5,767.8 319.9,947.1 322.6,824.8 325.0,975.7 327.1,910.4 329.7,812.6 332.1,881.9 335.2,979.7 336.6,934.9 339.3,969.5 341.3,957.3 344.4,930.8 347.4,934.9 349.5,894.1 351.5,902.3 353.5,855.4 356.6,928.8 358.6,914.5 360.7,934.9 363.1,897.2 365.8,922.7 367.8,918.6 371.3,959.3 373.9,910.4 376.0,894.1 378.0,898.2 380.0,881.9 383.1,863.6 385.1,886.0 388.2,831.0 389.6,694.4 390.8,722.9 392.3,657.7 394.3,780.0 396.3,786.1 399.4,886.0 403.1,831.0 405.5,894.1 407.6,865.6 410.4,875.2 413.4,844.6 416.5,899.7 420.6,871.1 423.6,799.8 425.7,885.4 426.7,846.7 428.7,871.1 430.8,861.0 433.2,820.2 435.9,889.5 438.3,791.7 441.0,856.9 442.6,713.2 444.6,916.0 447.1,940.4 449.1,932.3 452.2,960.8 454.2,950.6 456.2,966.9 458.3,956.7 461.3,973.0 464.4,1001.6 467.4,1009.7 469.5,1011.8 471.5,1007.7 472.8,1010.7 474.1,1013.8 475.4,1015.0 476.6,1016.1 476.7,1016.0 478.0,1014.2 479.3,1014.4 479.7,1014.9 480.6,1016.5 481.9,1016.1 483.2,1016.9 484.5,1018.9 485.8,1019.3 487.1,1020.1 487.8,1020.7 488.4,1020.9 489.7,1021.9 491.0,1023.9 492.3,1022.9 493.6,1021.7 494.9,1023.2 496.0,1023.7 496.2,1023.6 497.5,1023.8 498.8,1024.6 500.1,1024.9 501.4,1026.1 502.7,1025.4 504.0,1023.7 505.3,1025.0 506.2,1026.0 506.6,1026.0 507.9,1025.5 509.2,1025.6 510.5,1025.4 511.8,1026.0 513.1,1026.5 514.4,1025.5 515.7,1026.6 516.4,1027.6 517.0,1027.7 518.3,1026.3 519.6,1025.2 520.9,1024.7 522.2,1024.7 522.5,1024.8 523.5,1025.5 524.8,1024.8 526.1,1024.9 527.4,1025.9 528.7,1024.8 530.0,1023.9 530.6,1023.9 531.3,1024.3 532.6,1025.0 533.9,1026.1 535.2,1026.1 536.5,1025.9 536.7,1026.1 537.8,1026.8 539.1,1026.7 540.4,1026.2 541.7,1026.8 543.0,1027.0 544.3,1026.9 545.6,1026.4 546.9,1025.5 546.9,1025.5 548.2,1025.7 549.5,1025.8 550.8,1024.9 551.0,1024.9 552.1,1025.4 553.4,1025.8 554.7,1025.8 556.0,1025.9 557.3,1025.7 558.6,1026.2 559.2,1026.7 559.9,1027.0 561.2,1026.7 562.5,1026.7 563.8,1027.1 565.1,1027.3 566.4,1027.6 567.3,1027.7 567.7,1027.7 569.0,1027.8 570.3,1028.1 571.6,1027.6 572.9,1027.2 574.2,1027.5 575.5,1027.6 575.5,1027.7 576.8,1028.1 578.1,1028.5 579.4,1028.8 580.7,1029.4 582.0,1029.6 583.3,1029.5 584.6,1030.2 585.6,1030.7 585.9,1030.7 587.2,1030.6 588.5,1030.6 589.8,1030.5 591.1,1030.7 592.4,1030.9 593.7,1030.7 595.0,1031.0 596.3,1031.2 597.6,1030.9 598.9,1030.8 600.2,1030.8 601.5,1031.0 602.0,1031.2 602.8,1031.3 604.1,1031.1 605.4,1030.9 606.7,1031.2 608.0,1030.8 609.3,1030.6 610.6,1030.6 611.9,1030.6 613.2,1030.8 614.2,1030.6 614.5,1030.4 615.8,1030.0 617.1,1030.5 618.4,1030.5 619.7,1030.3 621.0,1030.5 622.3,1030.4 623.6,1030.3 624.4,1030.2 624.9,1029.9 626.2,1029.0 627.5,1029.5 628.8,1029.8 630.1,1029.3 631.4,1029.1 632.7,1028.9 634.0,1028.6 634.6,1028.6 635.3,1028.2 636.6,1027.0 637.9,1026.9 639.2,1027.1 640.5,1025.7 641.8,1024.7 643.1,1024.5 644.4,1024.2 644.8,1024.2 645.7,1024.3 647.0,1023.6 648.3,1023.2 649.6,1023.6 650.9,1022.2 651.9,1021.2 652.2,1021.5 653.5,1023.5 654.8,1025.3 656.1,1026.9 657.0,1027.7 657.4,1027.6 658.7,1027.3 660.0,1028.6 661.3,1028.7 662.6,1028.0 663.1,1028.3 663.9,1029.1 665.2,1029.6 666.5,1029.2 667.8,1028.7 669.1,1028.0 670.4,1029.3 671.2,1030.2 671.7,1030.3 673.0,1029.2 674.3,1029.7 675.6,1030.2 676.9,1029.2 677.4,1029.0 678.2,1028.0 679.5,1026.6 680.8,1026.6 682.1,1027.1 683.4,1024.5 684.7,1022.8 686.0,1022.6 686.1,1022.6 687.3,1020.4 688.6,1018.6 689.9,1017.1 691.2,1015.7 691.2,1015.7 692.5,1016.8 693.8,1015.4 694.3,1014.6 695.1,1015.9 696.4,1020.5 697.7,1023.7 698.3,1024.6 699.0,1024.8 700.3,1025.2 701.4,1025.0 701.6,1024.7 702.9,1024.1 704.2,1022.5 704.5,1022.0 705.5,1021.2 706.8,1023.4 708.1,1025.0 709.4,1024.2 710.6,1024.2 710.7,1024.0 712.0,1022.0 713.3,1020.8 714.6,1019.7 715.9,1016.8 716.7,1016.0 717.2,1016.5 718.5,1017.0 719.8,1014.7 721.1,1013.6 722.4,1013.6 722.8,1013.6 723.7,1014.3 725.0,1015.3 726.3,1014.0 727.6,1013.4 728.9,1014.3 730.2,1013.1 731.0,1012.3 731.5,1012.2 732.8,1013.2 734.1,1013.6 735.4,1013.8 736.7,1012.6 738.0,1011.2 739.1,1011.9 739.3,1012.0 740.6,1010.6 741.9,1008.3 743.2,1007.7 744.5,1006.6 745.2,1005.7 745.8,1004.5 747.1,1001.5 748.4,998.3 749.7,997.3 749.9,997.2 751.0,1000.2 752.3,1001.6 752.4,1001.6 753.6,1001.5 754.9,1001.6 756.2,1001.1 756.4,1001.1 757.5,1002.4 758.8,1003.8 760.1,1006.2 761.4,1008.8 761.5,1008.9 762.7,1002.7 764.0,997.0 764.0,996.2 765.3,976.9 766.6,956.9 767.0,950.7 767.9,965.0 769.1,983.1 769.2,980.3 770.5,956.8 771.1,946.6 771.8,950.3 773.1,955.6 773.8,958.0 774.4,935.9 775.7,894.1 775.8,891.8 777.0,865.7 777.2,861.6 778.3,895.9 778.9,912.4 779.6,934.5 780.9,970.5 780.9,970.1 782.2,952.0 783.3,936.3 783.5,939.7 784.8,963.3 786.0,985.3 786.1,985.2 787.4,983.4 788.4,981.4 788.7,980.0 790.0,974.1 832.9,1008.7 835.5,1019.9 836.5,952.8 838.1,924.5 838.6,916.9 839.4,925.3 840.7,938.1 841.0,940.9 842.0,951.5 843.0,962.5 843.3,961.5 844.6,956.6 845.9,951.4 846.1,950.7 847.2,949.7 848.1,948.5 848.5,932.5 849.8,877.8 850.8,837.6 851.1,849.1 852.4,893.8 853.2,921.6 853.7,914.5 854.9,897.9 855.0,899.0 856.3,907.8 857.3,914.3 857.6,920.1 858.9,944.4 859.4,952.2 860.2,922.1 861.0,896.3 861.5,907.6 862.8,934.3 863.4,946.2 864.1,935.4 865.4,916.0 865.9,909.3 866.7,915.7 868.0,925.1 869.3,934.6 869.5,936.1 870.6,921.1 871.9,903.8 872.0,903.0 873.2,925.8 874.5,948.3 875.2,961.1 875.8,956.9 877.1,947.1 877.7,942.4 878.4,949.8 879.7,963.5 880.1,967.9 881.0,963.0 882.3,956.2 883.2,951.8 883.6,953.3 884.8,956.5 884.9,956.0 886.2,950.1 886.9,948.0 887.5,952.5 888.8,960.1 889.9,966.7 890.1,966.5 891.4,965.1 892.7,963.4 893.0,963.2 894.0,964.3 895.3,964.2 896.0,963.9 896.6,960.5 897.9,954.5 899.2,947.3 900.1,941.5 900.5,945.5 901.8,958.8 903.1,971.9 903.2,972.3 904.4,970.1 905.7,967.3 905.8,967.1 907.0,972.4 907.2,973.6 908.3,970.1 909.6,964.6 909.9,963.0 910.9,968.2 911.9,974.1 912.2,965.2 913.5,925.1 914.4,899.2 914.8,909.5 916.1,939.8 917.4,968.3 917.4,968.5 918.7,954.3 920.0,940.4 920.1,939.7 921.3,953.5 922.5,968.1 922.6,965.8 923.9,932.9 924.6,916.4 925.2,933.7 926.5,968.2 927.6,996.0 927.8,993.8 929.1,980.7 930.3,971.3 930.4,972.5 931.7,981.4 932.1,983.8 933.0,976.5 933.7,971.5 934.3,977.2 935.6,988.7 936.9,999.7 937.2,1002.0 938.2,994.7 939.2,987.4 939.5,989.6 940.8,1001.3 940.9,1001.8 942.1,984.1 942.9,971.8 943.4,978.5 944.3,991.4 944.7,987.2 946.0,972.7 946.0,973.3 947.3,988.3 948.6,1003.4 948.6,1003.5 949.9,1005.0 951.1,1008.0 951.2,1007.9 952.5,1005.0 953.8,999.4 954.1,998.3 955.1,998.0 956.4,998.3 957.7,997.6 958.2,997.6 959.0,998.8 960.3,999.9 961.2,1001.0 961.6,1001.0 962.5,1000.9 962.9,1003.0 964.2,1006.8 965.1,1009.9 965.5,1008.2 966.8,1003.8 967.5,1000.8 968.1,1003.1 969.4,1008.4 969.6,1009.1 970.7,1006.9 972.0,1004.5 973.2,1003.3 973.3,1003.3 974.6,1001.8 975.9,1000.4 977.2,1001.2 977.3,1001.3 978.5,1003.6 979.4,1004.6 979.8,1002.4 980.8,998.0 981.1,999.4 982.4,1005.0 982.8,1007.0 983.7,1004.4 984.9,1000.3 985.0,1000.9 986.3,1006.1 987.5,1012.4 987.6,1012.2 988.9,1009.3 990.2,1005.2 990.2,1005.4 991.5,1010.5 992.6,1015.1 992.8,1015.3 994.1,1017.1 995.4,1018.7 996.7,1018.7 996.7,1018.6 998.0,1019.3 999.3,1020.3 999.7,1020.3 1000.6,1017.7 1001.9,1014.6 1002.8,1012.8 1003.2,1012.7 1004.5,1012.3 1005.2,1012.2 1005.8,1011.5 1007.1,1009.0 1007.9,1007.8 1008.4,1010.3 1009.7,1017.2 1009.9,1018.2 1011.0,1016.2 1012.3,1013.8 1013.4,1012.1 1013.6,1011.8 1014.9,1009.6 1016.0,1007.8 1016.2,1008.4 1017.5,1012.2 1018.8,1016.2 1019.1,1017.3 1020.1,1019.0 1021.4,1020.4 1022.7,1021.1 1023.6,1021.9 1024.0,1018.3 1025.3,1007.3 1026.2,999.5 1026.6,997.9 1027.9,992.5 1027.9,993.0 1029.2,1005.2 1030.3,1015.9 1030.5,1016.7 1031.8,1020.8 1033.0,1023.7 1033.1,1022.9 1034.4,1016.4 1035.4,1011.7 1035.7,1012.6 1037.0,1016.2 1038.3,1019.8 1038.5,1020.2 1039.6,1021.1 1040.9,1022.4 1041.5,1023.2 1042.2,1023.6 1043.5,1024.0 1044.6,1024.6 1044.8,1024.5 1046.1,1024.0 1047.4,1023.2 1047.6,1023.1 1048.7,1023.9 1050.0,1024.7 1051.3,1025.6 1051.7,1026.0 1052.6,1025.5 1053.9,1024.2 1054.2,1024.0 1055.2,1025.2 1055.8,1026.0 1056.5,1024.0 1057.8,1020.0 1058.8,1016.8 1059.1,1015.2 1060.4,1008.0 1060.9,1005.4 1061.7,1010.4 1062.9,1018.0 1063.0,1018.2 1064.3,1020.0 1065.6,1021.4 1066.0,1021.9 1066.9,1021.7 1068.2,1021.2 1069.5,1020.3 1070.8,1019.8 1071.1,1019.7 1072.1,1021.6 1073.4,1024.2 1074.5,1026.4 1074.7,1026.2 1076.0,1024.7 1077.2,1023.8 1077.3,1023.8 1078.6,1023.7 1079.9,1023.1 1080.2,1022.9 1081.2,1024.1 1082.5,1025.6 1083.8,1027.1 1084.7,1028.2 1085.1,1027.9 1086.4,1026.2 1087.7,1025.1 1088.4,1025.0 1089.0,1025.4 1090.3,1025.4 1091.6,1025.2 1092.5,1025.2 1092.9,1025.0 1094.2,1024.2 1094.9,1023.9 1095.5,1024.4 1096.8,1024.9 1098.1,1025.4 1099.4,1027.3 1099.6,1027.6 1100.7,1027.2 1102.0,1026.1 1102.7,1025.8 1103.3,1025.0 1104.6,1023.3 1105.7,1022.1 1105.9,1021.8 1107.2,1019.3 1108.5,1016.0 1108.8,1015.5 1109.8,1019.1 1110.8,1022.4 1111.1,1022.1 1112.4,1020.4 1112.8,1020.0 1113.7,1021.5 1115.0,1023.9 1115.9,1025.4 1116.3,1025.9 1117.6,1026.8 1118.9,1026.4 1120.0,1026.7 1120.2,1026.8 1121.5,1027.2 1122.8,1026.0 1124.1,1025.8 1125.4,1026.7 1126.7,1026.8 1128.0,1026.7 1129.2,1025.8 1129.3,1025.5 1130.6,1023.9 1131.9,1024.1 1133.2,1022.4 1134.2,1020.5 1134.5,1021.1 1135.8,1024.8 1136.9,1027.1 1137.1,1026.9 1138.4,1025.9 1139.7,1025.0 1141.0,1024.4 1141.4,1024.7 1142.3,1027.0 1143.6,1028.2 1144.9,1027.4 1145.5,1027.6 1146.2,1027.7 1147.5,1027.2 1148.8,1026.2 1150.1,1025.9 1151.4,1025.2 1152.7,1026.0 1153.6,1026.5 1154.0,1026.3 1155.3,1024.5 1156.6,1025.0 1157.9,1026.6 1158.7,1026.6 1159.2,1026.6 1160.5,1026.8 1161.8,1026.3 1163.1,1026.5 1163.8,1027.2 1164.4,1026.7 1165.7,1023.9 1166.9,1022.7 1167.0,1023.1 1168.3,1027.3 1169.6,1029.0 1169.9,1029.2 1170.9,1028.8 1172.2,1028.2 1173.5,1027.8 1174.8,1029.0 1176.0,1028.7 1176.1,1028.6 1177.4,1027.9 1178.7,1029.8 1180.0,1029.7 1181.3,1028.3 1182.6,1028.2 1183.9,1028.2 1184.2,1028.3 1185.2,1028.7 1186.5,1027.8 1187.8,1025.1 1189.1,1024.9 1189.3,1025.0 1190.4,1026.3 1191.7,1026.3 1192.3,1027.0 1193.0,1027.4 1194.3,1028.2 1195.6,1028.9 1196.9,1028.9 1198.2,1026.7 1199.5,1026.3 1200.0,1026.9 1200.8,1027.2 1202.1,1026.0 1202.7,1025.7 1203.4,1026.3 1204.7,1027.8 1205.4,1028.2 1206.0,1028.1 1207.3,1027.9 1208.2,1027.1 1208.6,1026.6 1209.9,1026.5 1211.2,1028.2 1212.2,1028.1 1212.5,1027.5 1213.8,1025.2 1215.1,1024.1 1215.6,1023.5 1216.4,1022.5 1217.7,1021.4 1218.3,1020.9 1219.0,1022.3 1220.3,1025.3 1220.4,1025.5 1221.6,1025.3 1222.4,1024.5 1222.9,1023.0 1224.2,1018.4 1224.5,1017.7 1225.5,1018.6 1226.5,1019.4 1226.8,1019.0 1228.1,1017.3 1228.5,1016.9 1229.4,1019.2 1230.7,1022.1 1231.2,1023.5 1232.0,1023.3 1233.3,1022.3 1234.6,1019.9 1234.7,1019.8 1235.9,1022.0 1237.2,1024.6 1237.4,1024.9 1238.5,1022.2 1239.8,1019.1 1240.1,1018.5 1241.1,1015.4 1242.4,1012.3 1243.2,1010.8 1243.7,1012.5 1245.0,1015.9 1246.2,1019.4 1246.3,1019.4 1247.6,1019.6 1248.9,1018.8 1248.9,1018.8 1250.2,1016.7 1251.0,1015.5 1251.5,1016.4 1252.3,1017.8 1252.8,1017.1 1254.1,1015.8 1254.1,1015.9 1255.4,1020.0 1256.4,1022.8 1256.7,1022.5 1258.0,1022.1 1259.1,1021.3 1259.3,1021.0 1260.6,1019.1 1261.4,1018.2 1261.9,1019.1 1263.2,1021.3 1263.9,1022.5 1264.5,1022.2 1265.8,1021.1 1267.1,1019.4 1267.3,1019.3 1268.4,1011.7 1269.3,1006.1 1269.7,1004.2 1270.7,999.8 1271.0,1002.3 1272.3,1011.1 1272.7,1013.6 1273.6,1017.4 1274.0,1019.1 1274.9,1017.5 1276.2,1014.9 1276.8,1013.6 1277.5,1014.0 1278.8,1015.3 1278.8,1015.3 1280.1,1014.4 1281.4,1013.0 1281.5,1012.8 1282.7,1011.9 1284.0,1010.9 1284.9,1010.2 1285.3,1011.0 1286.6,1013.7 1287.9,1016.0 1288.3,1016.8 1289.2,1015.7 1290.5,1014.5 1291.0,1013.9 1291.8,1012.7 1293.1,1010.8 1293.8,1010.0 1294.4,1009.8 1295.7,1009.3 1295.8,1009.3 1297.0,1006.4 1297.2,1006.1 1298.3,1010.2 1299.6,1014.7 1299.9,1015.6 1300.9,1013.8 1302.2,1011.2 1302.6,1010.3 1303.5,1009.4 1304.8,1008.6 1306.0,1008.0 1306.1,1007.6 1307.4,1004.2 1308.7,1000.8 1308.7,1000.7 1310.0,996.0 1311.1,992.5 1311.3,992.8 1312.6,994.9 1313.5,995.8 1313.9,995.2 1315.2,994.1 1315.5,993.9 1316.5,995.8 1317.1,996.8 1317.8,996.6 1319.1,996.1 1319.3,995.9 1320.4,999.7 1321.6,1004.2 1321.7,1003.8 1323.0,998.3 1323.6,995.4 1324.3,1004.0 1325.6,994.6 1326.9,985.7 1327.0,984.9 1328.2,990.2 1329.1,994.0 1329.5,992.0 1330.8,986.0 1331.8,981.6 1332.1,982.0 1333.4,983.8 1333.8,984.2 1334.7,985.3 1335.9,986.7 1336.0,986.9 1337.3,989.1 1337.9,990.0 1338.6,986.7 1339.9,980.8 1340.3,979.0 1341.2,981.0 1342.5,983.9 1342.7,984.3 1343.8,986.4 1345.1,987.7 1346.1,987.7 1346.4,985.3 1347.7,978.2 1349.0,971.3 1349.5,968.7 1350.3,975.2 1351.6,985.4 1352.2,989.5 1352.9,986.9 1354.2,982.9 1354.2,982.9 1355.5,981.3 1356.8,978.1 1357.6,977.0 1358.1,976.9 1359.4,976.9 1360.7,975.3 1361.0,975.0 1362.0,979.9 1362.4,981.6 1363.3,972.4 1364.6,960.2 1364.7,959.8 1365.9,967.9 1367.2,974.7 1368.5,982.0 1368.5,982.0 1369.8,982.1 1370.5,981.3 1371.1,979.9 1372.4,977.1 1373.2,975.9 1373.7,977.1 1374.6,979.2 1375.0,975.8 1376.3,966.0 1376.6,963.6 1377.6,964.3 1378.7,964.5 1378.9,964.0 1380.2,962.6 1380.7,961.8 1381.5,964.1 1382.7,967.0 1382.8,966.3 1384.1,955.1 1385.0,947.2 1385.4,950.2 1386.7,961.4 1388.0,971.5 1388.2,972.5 1389.3,962.7 1390.2,956.5 1390.6,956.9 1391.9,957.3 1393.2,955.7 1393.6,955.4 1394.5,947.1 1395.8,934.8 1397.1,921.8 1397.5,918.3 1398.4,930.6 1399.7,946.3 1400.9,962.2 1401.0,961.8 1402.3,957.6 1403.4,951.7 1403.6,951.0 1404.9,947.8 1406.0,945.8 1406.2,947.1 1406.8,949.8 1407.5,941.3 1408.8,925.9 1409.4,919.2 1410.1,923.3 1411.4,931.8 1412.7,942.5 1412.8,942.8 1414.0,880.6 1415.3,816.0 1415.3,816.3 1416.6,884.1 1417.5,930.7 1417.9,922.3 1419.2,895.6 1419.6,888.7 1420.5,898.7 1420.9,902.6 1421.8,877.9 1423.0,848.2 1423.1,852.5 1424.4,884.9 1425.7,915.9 1426.9,945.5 1427.0,944.4 1428.3,934.6 1429.6,923.9 1429.8,922.9 1430.9,931.5 1432.2,939.9 1433.2,946.6 1433.5,942.6 1434.8,927.7 1435.7,916.3 1436.1,920.7 1437.4,935.7 1437.4,933.8 1438.7,845.8 1439.4,797.0 1440.0,840.8 1441.3,937.5 1441.6,961.0 1442.6,946.8 1443.9,928.9 1444.2,925.6 1445.2,899.9 1446.5,865.7 1446.7,860.1 1447.8,880.3 1448.1,885.6 1449.1,851.6 1450.1,817.1 1450.4,828.8 1451.7,882.1 1452.3,907.6 1453.0,882.9 1454.3,836.2 1454.4,834.4 1455.6,875.5 1456.9,916.8 1458.2,904.8 1458.6,901.5 1459.5,902.5 1460.8,902.8 1462.1,902.7 1462.5,902.9"/>
</g>
<rect x="116.5" y="575.5" width="1346.0" height="478.70000000000005" fill="none" stroke="#000" stroke-width="1.15"/>
<line x1="116.5" y1="1054.2" x2="116.5" y2="1059.6000000000001" class="t"/>
<line x1="284.8" y1="1054.2" x2="284.8" y2="1059.6000000000001" class="t"/>
<line x1="453.1" y1="1054.2" x2="453.1" y2="1059.6000000000001" class="t"/>
<line x1="621.3" y1="1054.2" x2="621.3" y2="1059.6000000000001" class="t"/>
<line x1="789.6" y1="1054.2" x2="789.6" y2="1059.6000000000001" class="t"/>
<line x1="957.9" y1="1054.2" x2="957.9" y2="1059.6000000000001" class="t"/>
<line x1="1126.2" y1="1054.2" x2="1126.2" y2="1059.6000000000001" class="t"/>
<line x1="1294.5" y1="1054.2" x2="1294.5" y2="1059.6000000000001" class="t"/>
<line x1="111.1" y1="628.5" x2="116.5" y2="628.5" class="t"/>
<line x1="111.1" y1="729.9" x2="116.5" y2="729.9" class="t"/>
<line x1="111.1" y1="831.3" x2="116.5" y2="831.3" class="t"/>
<line x1="111.1" y1="932.8" x2="116.5" y2="932.8" class="t"/>
<line x1="111.1" y1="1034.2" x2="116.5" y2="1034.2" class="t"/>
<rect x="1047.3" y="48.8" width="406.3" height="78.8" rx="3.5" fill="#fff" fill-opacity="0.8" stroke="#ccc" stroke-opacity="0.8" stroke-width="1.2"/>
<circle cx="1073.3" cy="63.4" r="2.7" fill="#1f77b4"/>
<text x="1105.9" y="68.6" font-size="19.74" text-anchor="start" textLength="99.2" lengthAdjust="spacingAndGlyphs">Raw Data</text>
<line x1="1053.1" y1="101.6" x2="1092.0" y2="101.6" stroke="#ff7f0e" stroke-width="2.1"/>
<text x="1105.9" y="95.5" font-size="19.74" text-anchor="start" textLength="270.5" lengthAdjust="spacingAndGlyphs">Butterworth Filtered Data</text>
<text x="1105.9" y="116.5" font-size="19.74" text-anchor="start" textLength="338.3" lengthAdjust="spacingAndGlyphs">(N=6, Tc=3.3333 min, Type: low)</text>
<rect x="1047.3" y="585.0" width="406.3" height="78.8" rx="3.5" fill="#fff" fill-opacity="0.8" stroke="#ccc" stroke-opacity="0.8" stroke-width="1.2"/>
<circle cx="1073.3" cy="599.6" r="2.7" fill="#1f77b4"/>
<text x="1105.9" y="604.8" font-size="19.74" text-anchor="start" textLength="99.2" lengthAdjust="spacingAndGlyphs">Raw Data</text>
<line x1="1053.1" y1="637.8" x2="1092.0" y2="637.8" stroke="#ff7f0e" stroke-width="2.1"/>
<text x="1105.9" y="631.7" font-size="19.74" text-anchor="start" textLength="270.5" lengthAdjust="spacingAndGlyphs">Butterworth Filtered Data</text>
<text x="1105.9" y="652.7" font-size="19.74" text-anchor="start" textLength="338.3" lengthAdjust="spacingAndGlyphs">(N=6, Tc=3.3333 min, Type: low)</text>
<text x="116.5" y="29.9" font-size="28.25" text-anchor="start" textLength="41.9" lengthAdjust="spacingAndGlyphs">(a)</text>
<text x="784.7" y="29.8" font-size="28.41" text-anchor="middle" textLength="299.6" lengthAdjust="spacingAndGlyphs">10.0 MHz N0000095</text>
<text x="105.3" y="78.2" font-size="23.43" text-anchor="end" textLength="15.2" lengthAdjust="spacingAndGlyphs">3</text>
<text x="105.3" y="149.8" font-size="23.43" text-anchor="end" textLength="15.2" lengthAdjust="spacingAndGlyphs">2</text>
<text x="105.3" y="221.2" font-size="23.43" text-anchor="end" textLength="15.2" lengthAdjust="spacingAndGlyphs">1</text>
<text x="105.3" y="292.8" font-size="23.43" text-anchor="end" textLength="15.2" lengthAdjust="spacingAndGlyphs">0</text>
<text x="105.3" y="364.2" font-size="23.43" text-anchor="end" textLength="33.6" lengthAdjust="spacingAndGlyphs">−1</text>
<text x="105.3" y="435.8" font-size="23.43" text-anchor="end" textLength="33.6" lengthAdjust="spacingAndGlyphs">−2</text>
<text x="105.3" y="507.2" font-size="23.43" text-anchor="end" textLength="33.6" lengthAdjust="spacingAndGlyphs">−3</text>
<text transform="translate(60.7 278.4) rotate(-90)" font-size="23.75" text-anchor="middle" textLength="226.0" lengthAdjust="spacingAndGlyphs">Doppler Shift [Hz]</text>
<text x="116.5" y="566.9" font-size="28.25" text-anchor="start" textLength="43.0" lengthAdjust="spacingAndGlyphs">(b)</text>
<text x="105.3" y="636.5" font-size="23.43" text-anchor="end" textLength="38.8" lengthAdjust="spacingAndGlyphs">0.8</text>
<text x="105.3" y="737.9" font-size="23.43" text-anchor="end" textLength="38.8" lengthAdjust="spacingAndGlyphs">0.6</text>
<text x="105.3" y="839.3" font-size="23.43" text-anchor="end" textLength="38.8" lengthAdjust="spacingAndGlyphs">0.4</text>
<text x="105.3" y="940.8" font-size="23.43" text-anchor="end" textLength="38.8" lengthAdjust="spacingAndGlyphs">0.2</text>
<text x="105.3" y="1042.2" font-size="23.43" text-anchor="end" textLength="38.8" lengthAdjust="spacingAndGlyphs">0.0</text>
<text transform="translate(56.2 814.9) rotate(-90)" font-size="23.75" text-anchor="middle" textLength="209.4" lengthAdjust="spacingAndGlyphs">Peak Voltage [V]</text>
<text transform="translate(113.7 1078.4) rotate(-30)" font-size="23.43" text-anchor="end" textLength="113.0" lengthAdjust="spacingAndGlyphs">10-04 00</text>
<text transform="translate(282.0 1078.4) rotate(-30)" font-size="23.43" text-anchor="end" textLength="113.0" lengthAdjust="spacingAndGlyphs">10-04 03</text>
<text transform="translate(450.3 1078.4) rotate(-30)" font-size="23.43" text-anchor="end" textLength="113.0" lengthAdjust="spacingAndGlyphs">10-04 06</text>
<text transform="translate(618.5 1078.4) rotate(-30)" font-size="23.43" text-anchor="end" textLength="113.0" lengthAdjust="spacingAndGlyphs">10-04 09</text>
<text transform="translate(786.8 1078.4) rotate(-30)" font-size="23.43" text-anchor="end" textLength="113.0" lengthAdjust="spacingAndGlyphs">10-04 12</text>
<text transform="translate(955.1 1078.4) rotate(-30)" font-size="23.43" text-anchor="end" textLength="113.0" lengthAdjust="spacingAndGlyphs">10-04 15</text>
<text transform="translate(1123.4 1078.4) rotate(-30)" font-size="23.43" text-anchor="end" textLength="113.0" lengthAdjust="spacingAndGlyphs">10-04 18</text>
<text transform="translate(1291.7 1078.4) rotate(-30)" font-size="23.43" text-anchor="end" textLength="113.0" lengthAdjust="spacingAndGlyphs">10-04 21</text>
<text x="789.3" y="1158.6" font-size="23.75" text-anchor="middle" textLength="49.5" lengthAdjust="spacingAndGlyphs">UTC</text>
</svg>
</body></html>
